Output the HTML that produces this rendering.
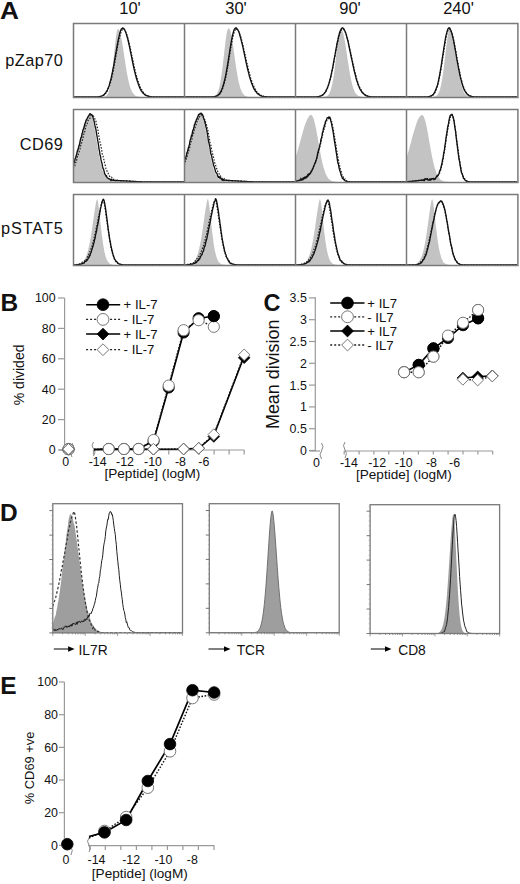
<!DOCTYPE html><html><head><meta charset="utf-8"><style>html,body{margin:0;padding:0;background:#fff;}svg{display:block;}text{font-family:"Liberation Sans", sans-serif;fill:#111;}</style></head><body>
<svg width="520" height="884" viewBox="0 0 520 884">
<text x="0.0" y="18.8" font-size="24.5" text-anchor="start" font-weight="bold" transform="translate(0,0) scale(1.07,1)">A</text>
<text x="130.0" y="13.8" font-size="16.5" text-anchor="middle" font-weight="normal" >10'</text>
<text x="236.0" y="13.8" font-size="16.5" text-anchor="middle" font-weight="normal" >30'</text>
<text x="350.0" y="13.8" font-size="16.5" text-anchor="middle" font-weight="normal" >90'</text>
<text x="458.5" y="13.8" font-size="16.5" text-anchor="middle" font-weight="normal" >240'</text>
<text x="63.2" y="65.9" font-size="16.3" text-anchor="end" font-weight="normal" letter-spacing="0.45">pZap70</text>
<text x="63.3" y="150.1" font-size="16.3" text-anchor="end" font-weight="normal" letter-spacing="0.50">CD69</text>
<text x="63.7" y="234.0" font-size="16.3" text-anchor="end" font-weight="normal" letter-spacing="0.90">pSTAT5</text>
<defs>
<clipPath id="cA00"><rect x="73" y="23" width="111" height="74"/></clipPath>
<clipPath id="cA01"><rect x="184" y="23" width="111" height="74"/></clipPath>
<clipPath id="cA02"><rect x="295" y="23" width="111" height="74"/></clipPath>
<clipPath id="cA03"><rect x="406" y="23" width="111" height="74"/></clipPath>
<clipPath id="cA10"><rect x="73" y="109" width="111" height="73"/></clipPath>
<clipPath id="cA11"><rect x="184" y="109" width="111" height="73"/></clipPath>
<clipPath id="cA12"><rect x="295" y="109" width="111" height="73"/></clipPath>
<clipPath id="cA13"><rect x="406" y="109" width="111" height="73"/></clipPath>
<clipPath id="cA20"><rect x="73" y="194" width="111" height="71"/></clipPath>
<clipPath id="cA21"><rect x="184" y="194" width="111" height="71"/></clipPath>
<clipPath id="cA22"><rect x="295" y="194" width="111" height="71"/></clipPath>
<clipPath id="cA23"><rect x="406" y="194" width="111" height="71"/></clipPath>
</defs>
<g clip-path="url(#cA00)">
<path d="M73.0,97.0 L73.0,97.0 L73.5,97.0 L74.0,97.0 L74.5,97.0 L75.0,97.0 L75.5,97.0 L76.0,97.0 L76.5,97.0 L77.0,97.0 L77.5,97.0 L78.0,97.0 L78.5,97.0 L79.0,97.0 L79.5,97.0 L80.0,97.0 L80.5,97.0 L81.0,97.0 L81.5,97.0 L82.0,97.0 L82.5,97.0 L83.0,97.0 L83.5,97.0 L84.0,97.0 L84.5,97.0 L85.0,97.0 L85.5,97.0 L86.0,97.0 L86.5,97.0 L87.0,97.0 L87.5,97.0 L88.0,97.0 L88.5,97.0 L89.0,97.0 L89.5,97.0 L90.0,97.0 L90.5,97.0 L91.0,97.0 L91.5,97.0 L92.0,97.0 L92.5,97.0 L93.0,97.0 L93.5,97.0 L94.0,97.0 L94.5,97.0 L95.0,97.0 L95.5,97.0 L96.0,97.0 L96.5,97.0 L97.0,97.0 L97.5,97.0 L98.0,97.0 L98.5,97.0 L99.0,97.0 L99.5,97.0 L100.0,97.0 L100.5,97.0 L101.0,97.0 L101.5,97.0 L102.0,97.0 L102.5,96.9 L103.0,96.9 L103.5,96.9 L104.0,96.8 L104.5,96.7 L105.0,96.6 L105.5,96.3 L106.0,96.1 L106.5,95.7 L107.0,95.1 L107.5,94.6 L108.0,93.5 L108.5,92.4 L109.0,90.8 L109.5,89.0 L110.0,87.1 L110.5,84.5 L111.0,81.0 L111.5,77.8 L112.0,73.9 L112.5,69.0 L113.0,64.7 L113.5,59.6 L114.0,54.8 L114.5,49.7 L115.0,45.2 L115.5,40.5 L116.0,36.4 L116.5,33.4 L117.0,30.8 L117.5,29.4 L118.0,29.3 L118.5,29.1 L119.0,29.8 L119.5,31.1 L120.0,32.7 L120.5,34.1 L121.0,36.5 L121.5,38.9 L122.0,41.5 L122.5,44.6 L123.0,47.6 L123.5,51.2 L124.0,54.2 L124.5,57.8 L125.0,60.8 L125.5,64.1 L126.0,67.7 L126.5,70.6 L127.0,73.5 L127.5,75.7 L128.0,78.5 L128.5,80.7 L129.0,83.0 L129.5,84.8 L130.0,86.6 L130.5,88.2 L131.0,89.4 L131.5,90.6 L132.0,91.4 L132.5,92.5 L133.0,93.1 L133.5,93.8 L134.0,94.3 L134.5,95.0 L135.0,95.4 L135.5,95.7 L136.0,96.0 L136.5,96.2 L137.0,96.4 L137.5,96.5 L138.0,96.6 L138.5,96.7 L139.0,96.8 L139.5,96.8 L140.0,96.9 L140.5,96.9 L141.0,96.9 L141.5,96.9 L142.0,97.0 L142.5,97.0 L143.0,97.0 L143.5,97.0 L144.0,97.0 L144.5,97.0 L145.0,97.0 L145.5,97.0 L146.0,97.0 L146.5,97.0 L147.0,97.0 L147.5,97.0 L148.0,97.0 L148.5,97.0 L149.0,97.0 L149.5,97.0 L150.0,97.0 L150.5,97.0 L151.0,97.0 L151.5,97.0 L152.0,97.0 L152.5,97.0 L153.0,97.0 L153.5,97.0 L154.0,97.0 L154.5,97.0 L155.0,97.0 L155.5,97.0 L156.0,97.0 L156.5,97.0 L157.0,97.0 L157.5,97.0 L158.0,97.0 L158.5,97.0 L159.0,97.0 L159.5,97.0 L160.0,97.0 L160.5,97.0 L161.0,97.0 L161.5,97.0 L162.0,97.0 L162.5,97.0 L163.0,97.0 L163.5,97.0 L164.0,97.0 L164.5,97.0 L165.0,97.0 L165.5,97.0 L166.0,97.0 L166.5,97.0 L167.0,97.0 L167.5,97.0 L168.0,97.0 L168.5,97.0 L169.0,97.0 L169.5,97.0 L170.0,97.0 L170.5,97.0 L171.0,97.0 L171.5,97.0 L172.0,97.0 L172.5,97.0 L173.0,97.0 L173.5,97.0 L174.0,97.0 L174.5,97.0 L175.0,97.0 L175.5,97.0 L176.0,97.0 L176.5,97.0 L177.0,97.0 L177.5,97.0 L178.0,97.0 L178.5,97.0 L179.0,97.0 L179.5,97.0 L180.0,97.0 L180.5,97.0 L181.0,97.0 L181.5,97.0 L182.0,97.0 L182.5,97.0 L183.0,97.0 L183.5,97.0 L184.0,97.0 L184.0,97.0 Z" fill="#c3c3c3" stroke="none"/>
<polyline points="73.0,97.0 73.5,97.0 74.0,97.0 74.5,97.0 75.0,97.0 75.5,97.0 76.0,97.0 76.5,97.0 77.0,97.0 77.5,97.0 78.0,97.0 78.5,97.0 79.0,97.0 79.5,97.0 80.0,97.0 80.5,97.0 81.0,97.0 81.5,97.0 82.0,97.0 82.5,97.0 83.0,97.0 83.5,97.0 84.0,97.0 84.5,97.0 85.0,97.0 85.5,97.0 86.0,97.0 86.5,97.0 87.0,97.0 87.5,97.0 88.0,97.0 88.5,97.0 89.0,97.0 89.5,97.0 90.0,97.0 90.5,97.0 91.0,97.0 91.5,97.0 92.0,97.0 92.5,97.0 93.0,97.0 93.5,97.0 94.0,97.0 94.5,97.0 95.0,97.0 95.5,97.0 96.0,96.9 96.5,96.9 97.0,96.9 97.5,96.9 98.0,96.9 98.5,96.8 99.0,96.8 99.5,96.7 100.0,96.6 100.5,96.5 101.0,96.4 101.5,96.3 102.0,96.1 102.5,95.9 103.0,95.7 103.5,95.4 104.0,95.1 104.5,94.6 105.0,94.4 105.5,93.5 106.0,92.8 106.5,92.1 107.0,91.5 107.5,90.6 108.0,89.8 108.5,88.3 109.0,87.2 109.5,86.0 110.0,84.6 110.5,82.4 111.0,80.5 111.5,79.1 112.0,76.5 112.5,74.5 113.0,72.3 113.5,69.7 114.0,66.8 114.5,64.0 115.0,61.7 115.5,58.5 116.0,56.0 116.5,52.8 117.0,50.2 117.5,47.1 118.0,44.3 118.5,42.0 119.0,39.3 119.5,37.5 120.0,35.6 120.5,33.6 121.0,32.4 121.5,31.1 122.0,30.0 122.5,29.3 123.0,29.2 123.5,29.3 124.0,29.1 124.5,29.9 125.0,30.2 125.5,31.1 126.0,32.5 126.5,33.7 127.0,35.2 127.5,36.7 128.0,38.5 128.5,40.5 129.0,42.5 129.5,44.4 130.0,46.9 130.5,49.2 131.0,51.4 131.5,54.0 132.0,56.3 132.5,58.3 133.0,60.9 133.5,63.2 134.0,65.8 134.5,67.8 135.0,69.8 135.5,72.3 136.0,73.9 136.5,75.8 137.0,77.9 137.5,79.3 138.0,81.0 138.5,82.4 139.0,84.0 139.5,85.1 140.0,86.3 140.5,87.9 141.0,88.9 141.5,89.5 142.0,90.1 142.5,91.3 143.0,91.9 143.5,92.5 144.0,93.2 144.5,93.7 145.0,94.2 145.5,94.5 146.0,94.7 146.5,95.1 147.0,95.4 147.5,95.6 148.0,95.8 148.5,96.0 149.0,96.2 149.5,96.3 150.0,96.4 150.5,96.5 151.0,96.6 151.5,96.7 152.0,96.7 152.5,96.8 153.0,96.8 153.5,96.8 154.0,96.9 154.5,96.9 155.0,96.9 155.5,96.9 156.0,96.9 156.5,97.0 157.0,97.0 157.5,97.0 158.0,97.0 158.5,97.0 159.0,97.0 159.5,97.0 160.0,97.0 160.5,97.0 161.0,97.0 161.5,97.0 162.0,97.0 162.5,97.0 163.0,97.0 163.5,97.0 164.0,97.0 164.5,97.0 165.0,97.0 165.5,97.0 166.0,97.0 166.5,97.0 167.0,97.0 167.5,97.0 168.0,97.0 168.5,97.0 169.0,97.0 169.5,97.0 170.0,97.0 170.5,97.0 171.0,97.0 171.5,97.0 172.0,97.0 172.5,97.0 173.0,97.0 173.5,97.0 174.0,97.0 174.5,97.0 175.0,97.0 175.5,97.0 176.0,97.0 176.5,97.0 177.0,97.0 177.5,97.0 178.0,97.0 178.5,97.0 179.0,97.0 179.5,97.0 180.0,97.0 180.5,97.0 181.0,97.0 181.5,97.0 182.0,97.0 182.5,97.0 183.0,97.0 183.5,97.0 184.0,97.0" fill="none" stroke="#222" stroke-width="1.2" stroke-dasharray="1.5,1.5"/>
<polyline points="73.0,97.0 73.5,97.0 74.0,97.0 74.5,97.0 75.0,97.0 75.5,97.0 76.0,97.0 76.5,97.0 77.0,97.0 77.5,97.0 78.0,97.0 78.5,97.0 79.0,97.0 79.5,97.0 80.0,97.0 80.5,97.0 81.0,97.0 81.5,97.0 82.0,97.0 82.5,97.0 83.0,97.0 83.5,97.0 84.0,97.0 84.5,97.0 85.0,97.0 85.5,97.0 86.0,97.0 86.5,97.0 87.0,97.0 87.5,97.0 88.0,97.0 88.5,97.0 89.0,97.0 89.5,97.0 90.0,97.0 90.5,97.0 91.0,97.0 91.5,97.0 92.0,97.0 92.5,97.0 93.0,97.0 93.5,97.0 94.0,97.0 94.5,97.0 95.0,97.0 95.5,96.9 96.0,96.9 96.5,96.9 97.0,96.9 97.5,96.8 98.0,96.8 98.5,96.8 99.0,96.7 99.5,96.6 100.0,96.5 100.5,96.4 101.0,96.3 101.5,96.1 102.0,95.9 102.5,95.7 103.0,95.4 103.5,95.0 104.0,94.8 104.5,94.2 105.0,93.5 105.5,93.3 106.0,92.3 106.5,91.4 107.0,90.7 107.5,89.7 108.0,88.2 108.5,87.3 109.0,85.9 109.5,84.2 110.0,82.3 110.5,80.8 111.0,78.7 111.5,76.5 112.0,73.9 112.5,71.7 113.0,68.9 113.5,66.7 114.0,63.8 114.5,60.8 115.0,57.8 115.5,55.2 116.0,52.4 116.5,49.6 117.0,46.5 117.5,44.0 118.0,41.1 118.5,38.6 119.0,36.7 119.5,34.6 120.0,32.5 120.5,31.1 121.0,29.7 121.5,29.0 122.0,28.5 122.5,28.2 123.0,27.9 123.5,28.4 124.0,28.9 124.5,29.6 125.0,30.5 125.5,31.7 126.0,32.8 126.5,34.8 127.0,36.6 127.5,37.9 128.0,40.0 128.5,42.0 129.0,44.6 129.5,46.6 130.0,49.0 130.5,51.9 131.0,54.0 131.5,56.4 132.0,59.0 132.5,61.5 133.0,64.0 133.5,66.3 134.0,68.6 134.5,70.9 135.0,72.7 135.5,74.9 136.0,76.5 136.5,78.8 137.0,80.0 137.5,81.7 138.0,83.1 138.5,84.5 139.0,85.8 139.5,87.2 140.0,88.6 140.5,89.2 141.0,90.4 141.5,91.1 142.0,91.7 142.5,92.4 143.0,93.1 143.5,93.3 144.0,93.9 144.5,94.5 145.0,94.9 145.5,95.1 146.0,95.4 146.5,95.6 147.0,95.8 147.5,96.0 148.0,96.2 148.5,96.3 149.0,96.4 149.5,96.5 150.0,96.6 150.5,96.7 151.0,96.7 151.5,96.8 152.0,96.8 152.5,96.9 153.0,96.9 153.5,96.9 154.0,96.9 154.5,96.9 155.0,96.9 155.5,97.0 156.0,97.0 156.5,97.0 157.0,97.0 157.5,97.0 158.0,97.0 158.5,97.0 159.0,97.0 159.5,97.0 160.0,97.0 160.5,97.0 161.0,97.0 161.5,97.0 162.0,97.0 162.5,97.0 163.0,97.0 163.5,97.0 164.0,97.0 164.5,97.0 165.0,97.0 165.5,97.0 166.0,97.0 166.5,97.0 167.0,97.0 167.5,97.0 168.0,97.0 168.5,97.0 169.0,97.0 169.5,97.0 170.0,97.0 170.5,97.0 171.0,97.0 171.5,97.0 172.0,97.0 172.5,97.0 173.0,97.0 173.5,97.0 174.0,97.0 174.5,97.0 175.0,97.0 175.5,97.0 176.0,97.0 176.5,97.0 177.0,97.0 177.5,97.0 178.0,97.0 178.5,97.0 179.0,97.0 179.5,97.0 180.0,97.0 180.5,97.0 181.0,97.0 181.5,97.0 182.0,97.0 182.5,97.0 183.0,97.0 183.5,97.0 184.0,97.0" fill="none" stroke="#111" stroke-width="1.35" stroke-linejoin="round"/>
</g>
<g clip-path="url(#cA01)">
<path d="M184.0,97.0 L184.0,97.0 L184.5,97.0 L185.0,97.0 L185.5,97.0 L186.0,97.0 L186.5,97.0 L187.0,97.0 L187.5,97.0 L188.0,97.0 L188.5,97.0 L189.0,97.0 L189.5,97.0 L190.0,97.0 L190.5,97.0 L191.0,97.0 L191.5,97.0 L192.0,97.0 L192.5,97.0 L193.0,97.0 L193.5,97.0 L194.0,97.0 L194.5,97.0 L195.0,97.0 L195.5,97.0 L196.0,97.0 L196.5,97.0 L197.0,97.0 L197.5,97.0 L198.0,97.0 L198.5,97.0 L199.0,97.0 L199.5,97.0 L200.0,97.0 L200.5,97.0 L201.0,97.0 L201.5,97.0 L202.0,97.0 L202.5,97.0 L203.0,97.0 L203.5,97.0 L204.0,97.0 L204.5,97.0 L205.0,97.0 L205.5,97.0 L206.0,97.0 L206.5,97.0 L207.0,97.0 L207.5,97.0 L208.0,97.0 L208.5,97.0 L209.0,97.0 L209.5,97.0 L210.0,97.0 L210.5,97.0 L211.0,96.9 L211.5,96.9 L212.0,96.9 L212.5,96.8 L213.0,96.7 L213.5,96.6 L214.0,96.4 L214.5,96.2 L215.0,96.0 L215.5,95.6 L216.0,95.1 L216.5,94.3 L217.0,93.7 L217.5,92.6 L218.0,91.7 L218.5,90.3 L219.0,88.4 L219.5,86.2 L220.0,84.3 L220.5,81.2 L221.0,78.1 L221.5,74.8 L222.0,71.1 L222.5,67.6 L223.0,63.0 L223.5,58.5 L224.0,54.5 L224.5,50.0 L225.0,45.7 L225.5,41.5 L226.0,37.8 L226.5,34.6 L227.0,31.7 L227.5,30.2 L228.0,28.8 L228.5,28.2 L229.0,28.4 L229.5,29.1 L230.0,29.7 L230.5,31.4 L231.0,33.9 L231.5,36.1 L232.0,39.0 L232.5,42.1 L233.0,45.3 L233.5,48.6 L234.0,52.2 L234.5,56.0 L235.0,59.6 L235.5,63.1 L236.0,66.7 L236.5,69.7 L237.0,72.7 L237.5,75.8 L238.0,78.7 L238.5,81.1 L239.0,83.3 L239.5,85.1 L240.0,86.8 L240.5,88.7 L241.0,89.8 L241.5,91.1 L242.0,92.3 L242.5,93.2 L243.0,93.8 L243.5,94.3 L244.0,95.0 L244.5,95.4 L245.0,95.7 L245.5,96.0 L246.0,96.2 L246.5,96.4 L247.0,96.5 L247.5,96.7 L248.0,96.7 L248.5,96.8 L249.0,96.9 L249.5,96.9 L250.0,96.9 L250.5,96.9 L251.0,97.0 L251.5,97.0 L252.0,97.0 L252.5,97.0 L253.0,97.0 L253.5,97.0 L254.0,97.0 L254.5,97.0 L255.0,97.0 L255.5,97.0 L256.0,97.0 L256.5,97.0 L257.0,97.0 L257.5,97.0 L258.0,97.0 L258.5,97.0 L259.0,97.0 L259.5,97.0 L260.0,97.0 L260.5,97.0 L261.0,97.0 L261.5,97.0 L262.0,97.0 L262.5,97.0 L263.0,97.0 L263.5,97.0 L264.0,97.0 L264.5,97.0 L265.0,97.0 L265.5,97.0 L266.0,97.0 L266.5,97.0 L267.0,97.0 L267.5,97.0 L268.0,97.0 L268.5,97.0 L269.0,97.0 L269.5,97.0 L270.0,97.0 L270.5,97.0 L271.0,97.0 L271.5,97.0 L272.0,97.0 L272.5,97.0 L273.0,97.0 L273.5,97.0 L274.0,97.0 L274.5,97.0 L275.0,97.0 L275.5,97.0 L276.0,97.0 L276.5,97.0 L277.0,97.0 L277.5,97.0 L278.0,97.0 L278.5,97.0 L279.0,97.0 L279.5,97.0 L280.0,97.0 L280.5,97.0 L281.0,97.0 L281.5,97.0 L282.0,97.0 L282.5,97.0 L283.0,97.0 L283.5,97.0 L284.0,97.0 L284.5,97.0 L285.0,97.0 L285.5,97.0 L286.0,97.0 L286.5,97.0 L287.0,97.0 L287.5,97.0 L288.0,97.0 L288.5,97.0 L289.0,97.0 L289.5,97.0 L290.0,97.0 L290.5,97.0 L291.0,97.0 L291.5,97.0 L292.0,97.0 L292.5,97.0 L293.0,97.0 L293.5,97.0 L294.0,97.0 L294.5,97.0 L295.0,97.0 L295.0,97.0 Z" fill="#c3c3c3" stroke="none"/>
<polyline points="184.0,97.0 184.5,97.0 185.0,97.0 185.5,97.0 186.0,97.0 186.5,97.0 187.0,97.0 187.5,97.0 188.0,97.0 188.5,97.0 189.0,97.0 189.5,97.0 190.0,97.0 190.5,97.0 191.0,97.0 191.5,97.0 192.0,97.0 192.5,97.0 193.0,97.0 193.5,97.0 194.0,97.0 194.5,97.0 195.0,97.0 195.5,97.0 196.0,97.0 196.5,97.0 197.0,97.0 197.5,97.0 198.0,97.0 198.5,97.0 199.0,97.0 199.5,97.0 200.0,97.0 200.5,97.0 201.0,97.0 201.5,97.0 202.0,97.0 202.5,97.0 203.0,97.0 203.5,97.0 204.0,97.0 204.5,97.0 205.0,97.0 205.5,97.0 206.0,97.0 206.5,97.0 207.0,97.0 207.5,97.0 208.0,97.0 208.5,97.0 209.0,97.0 209.5,97.0 210.0,97.0 210.5,97.0 211.0,97.0 211.5,96.9 212.0,96.9 212.5,96.9 213.0,96.9 213.5,96.8 214.0,96.8 214.5,96.7 215.0,96.6 215.5,96.5 216.0,96.4 216.5,96.2 217.0,96.0 217.5,95.8 218.0,95.5 218.5,95.1 219.0,94.6 219.5,94.3 220.0,93.8 220.5,93.0 221.0,92.1 221.5,91.6 222.0,90.3 222.5,89.2 223.0,87.6 223.5,86.1 224.0,84.8 224.5,82.6 225.0,80.7 225.5,78.9 226.0,76.4 226.5,74.1 227.0,71.1 227.5,68.4 228.0,65.3 228.5,62.4 229.0,59.4 229.5,56.2 230.0,53.2 230.5,50.4 231.0,47.1 231.5,44.5 232.0,41.7 232.5,38.7 233.0,36.8 233.5,34.7 234.0,32.9 234.5,31.0 235.0,30.3 235.5,29.7 236.0,28.8 236.5,29.3 237.0,29.1 237.5,29.6 238.0,30.1 238.5,30.9 239.0,32.1 239.5,33.1 240.0,35.0 240.5,36.0 241.0,37.8 241.5,39.5 242.0,41.7 242.5,43.3 243.0,45.3 243.5,48.0 244.0,50.0 244.5,52.1 245.0,54.2 245.5,56.8 246.0,59.1 246.5,61.3 247.0,63.3 247.5,65.4 248.0,67.7 248.5,69.8 249.0,71.8 249.5,73.7 250.0,75.5 250.5,77.5 251.0,78.9 251.5,80.2 252.0,82.0 252.5,83.2 253.0,84.8 253.5,85.7 254.0,86.8 254.5,87.9 255.0,88.9 255.5,89.8 256.0,90.5 256.5,91.1 257.0,92.2 257.5,92.8 258.0,93.0 258.5,93.4 259.0,94.0 259.5,94.5 260.0,94.6 260.5,95.1 261.0,95.3 261.5,95.6 262.0,95.8 262.5,96.0 263.0,96.1 263.5,96.2 264.0,96.4 264.5,96.5 265.0,96.5 265.5,96.6 266.0,96.7 266.5,96.7 267.0,96.8 267.5,96.8 268.0,96.8 268.5,96.9 269.0,96.9 269.5,96.9 270.0,96.9 270.5,96.9 271.0,97.0 271.5,97.0 272.0,97.0 272.5,97.0 273.0,97.0 273.5,97.0 274.0,97.0 274.5,97.0 275.0,97.0 275.5,97.0 276.0,97.0 276.5,97.0 277.0,97.0 277.5,97.0 278.0,97.0 278.5,97.0 279.0,97.0 279.5,97.0 280.0,97.0 280.5,97.0 281.0,97.0 281.5,97.0 282.0,97.0 282.5,97.0 283.0,97.0 283.5,97.0 284.0,97.0 284.5,97.0 285.0,97.0 285.5,97.0 286.0,97.0 286.5,97.0 287.0,97.0 287.5,97.0 288.0,97.0 288.5,97.0 289.0,97.0 289.5,97.0 290.0,97.0 290.5,97.0 291.0,97.0 291.5,97.0 292.0,97.0 292.5,97.0 293.0,97.0 293.5,97.0 294.0,97.0 294.5,97.0 295.0,97.0" fill="none" stroke="#222" stroke-width="1.2" stroke-dasharray="1.5,1.5"/>
<polyline points="184.0,97.0 184.5,97.0 185.0,97.0 185.5,97.0 186.0,97.0 186.5,97.0 187.0,97.0 187.5,97.0 188.0,97.0 188.5,97.0 189.0,97.0 189.5,97.0 190.0,97.0 190.5,97.0 191.0,97.0 191.5,97.0 192.0,97.0 192.5,97.0 193.0,97.0 193.5,97.0 194.0,97.0 194.5,97.0 195.0,97.0 195.5,97.0 196.0,97.0 196.5,97.0 197.0,97.0 197.5,97.0 198.0,97.0 198.5,97.0 199.0,97.0 199.5,97.0 200.0,97.0 200.5,97.0 201.0,97.0 201.5,97.0 202.0,97.0 202.5,97.0 203.0,97.0 203.5,97.0 204.0,97.0 204.5,97.0 205.0,97.0 205.5,97.0 206.0,97.0 206.5,97.0 207.0,97.0 207.5,97.0 208.0,97.0 208.5,97.0 209.0,97.0 209.5,97.0 210.0,97.0 210.5,97.0 211.0,96.9 211.5,96.9 212.0,96.9 212.5,96.9 213.0,96.8 213.5,96.8 214.0,96.7 214.5,96.6 215.0,96.5 215.5,96.4 216.0,96.2 216.5,96.0 217.0,95.8 217.5,95.5 218.0,95.1 218.5,94.9 219.0,94.3 219.5,93.8 220.0,92.9 220.5,92.2 221.0,91.4 221.5,90.1 222.0,88.7 222.5,87.8 223.0,86.0 223.5,84.6 224.0,82.5 224.5,80.6 225.0,78.6 225.5,76.3 226.0,73.9 226.5,70.9 227.0,68.1 227.5,65.3 228.0,62.1 228.5,59.1 229.0,55.6 229.5,52.8 230.0,49.2 230.5,46.4 231.0,43.4 231.5,40.7 232.0,37.8 232.5,35.5 233.0,33.5 233.5,31.7 234.0,30.1 234.5,28.9 235.0,28.4 235.5,27.9 236.0,27.8 236.5,28.3 237.0,28.9 237.5,29.6 238.0,30.1 238.5,31.2 239.0,32.3 239.5,33.8 240.0,35.8 240.5,37.5 241.0,39.4 241.5,41.4 242.0,43.2 242.5,45.3 243.0,47.5 243.5,50.2 244.0,52.1 244.5,54.8 245.0,57.1 245.5,59.2 246.0,61.9 246.5,64.2 247.0,66.0 247.5,68.5 248.0,70.5 248.5,72.4 249.0,74.3 249.5,76.6 250.0,78.1 250.5,79.7 251.0,81.3 251.5,82.9 252.0,84.1 252.5,85.1 253.0,86.6 253.5,87.6 254.0,88.9 254.5,89.7 255.0,90.3 255.5,91.4 256.0,91.6 256.5,92.3 257.0,93.3 257.5,93.3 258.0,94.1 258.5,94.2 259.0,94.6 259.5,95.1 260.0,95.3 260.5,95.6 261.0,95.8 261.5,96.0 262.0,96.1 262.5,96.3 263.0,96.4 263.5,96.5 264.0,96.6 264.5,96.6 265.0,96.7 265.5,96.7 266.0,96.8 266.5,96.8 267.0,96.9 267.5,96.9 268.0,96.9 268.5,96.9 269.0,96.9 269.5,96.9 270.0,97.0 270.5,97.0 271.0,97.0 271.5,97.0 272.0,97.0 272.5,97.0 273.0,97.0 273.5,97.0 274.0,97.0 274.5,97.0 275.0,97.0 275.5,97.0 276.0,97.0 276.5,97.0 277.0,97.0 277.5,97.0 278.0,97.0 278.5,97.0 279.0,97.0 279.5,97.0 280.0,97.0 280.5,97.0 281.0,97.0 281.5,97.0 282.0,97.0 282.5,97.0 283.0,97.0 283.5,97.0 284.0,97.0 284.5,97.0 285.0,97.0 285.5,97.0 286.0,97.0 286.5,97.0 287.0,97.0 287.5,97.0 288.0,97.0 288.5,97.0 289.0,97.0 289.5,97.0 290.0,97.0 290.5,97.0 291.0,97.0 291.5,97.0 292.0,97.0 292.5,97.0 293.0,97.0 293.5,97.0 294.0,97.0 294.5,97.0 295.0,97.0" fill="none" stroke="#111" stroke-width="1.35" stroke-linejoin="round"/>
</g>
<g clip-path="url(#cA02)">
<path d="M295.0,97.0 L295.0,97.0 L295.5,97.0 L296.0,97.0 L296.5,97.0 L297.0,97.0 L297.5,97.0 L298.0,97.0 L298.5,97.0 L299.0,97.0 L299.5,97.0 L300.0,97.0 L300.5,97.0 L301.0,97.0 L301.5,97.0 L302.0,97.0 L302.5,97.0 L303.0,97.0 L303.5,97.0 L304.0,97.0 L304.5,97.0 L305.0,97.0 L305.5,97.0 L306.0,97.0 L306.5,97.0 L307.0,97.0 L307.5,97.0 L308.0,97.0 L308.5,97.0 L309.0,97.0 L309.5,97.0 L310.0,97.0 L310.5,97.0 L311.0,97.0 L311.5,97.0 L312.0,97.0 L312.5,97.0 L313.0,97.0 L313.5,97.0 L314.0,97.0 L314.5,97.0 L315.0,97.0 L315.5,97.0 L316.0,97.0 L316.5,97.0 L317.0,97.0 L317.5,97.0 L318.0,97.0 L318.5,97.0 L319.0,97.0 L319.5,97.0 L320.0,97.0 L320.5,97.0 L321.0,97.0 L321.5,97.0 L322.0,97.0 L322.5,97.0 L323.0,96.9 L323.5,96.9 L324.0,96.9 L324.5,96.8 L325.0,96.7 L325.5,96.6 L326.0,96.5 L326.5,96.3 L327.0,96.0 L327.5,95.7 L328.0,95.3 L328.5,94.8 L329.0,93.9 L329.5,93.1 L330.0,91.9 L330.5,90.9 L331.0,89.1 L331.5,87.1 L332.0,85.2 L332.5,82.8 L333.0,80.3 L333.5,76.9 L334.0,73.6 L334.5,69.7 L335.0,65.8 L335.5,61.7 L336.0,57.7 L336.5,53.1 L337.0,48.9 L337.5,45.1 L338.0,40.8 L338.5,37.5 L339.0,34.9 L339.5,32.0 L340.0,30.7 L340.5,29.5 L341.0,28.9 L341.5,29.2 L342.0,29.9 L342.5,30.9 L343.0,32.6 L343.5,34.6 L344.0,36.9 L344.5,39.6 L345.0,42.0 L345.5,45.0 L346.0,48.4 L346.5,51.6 L347.0,55.2 L347.5,58.6 L348.0,61.9 L348.5,64.8 L349.0,68.5 L349.5,71.2 L350.0,74.3 L350.5,76.6 L351.0,79.3 L351.5,81.6 L352.0,83.7 L352.5,85.5 L353.0,87.0 L353.5,88.8 L354.0,89.8 L354.5,91.4 L355.0,92.3 L355.5,93.2 L356.0,93.9 L356.5,94.1 L357.0,94.7 L357.5,95.2 L358.0,95.6 L358.5,95.9 L359.0,96.1 L359.5,96.3 L360.0,96.5 L360.5,96.6 L361.0,96.7 L361.5,96.8 L362.0,96.8 L362.5,96.9 L363.0,96.9 L363.5,96.9 L364.0,96.9 L364.5,97.0 L365.0,97.0 L365.5,97.0 L366.0,97.0 L366.5,97.0 L367.0,97.0 L367.5,97.0 L368.0,97.0 L368.5,97.0 L369.0,97.0 L369.5,97.0 L370.0,97.0 L370.5,97.0 L371.0,97.0 L371.5,97.0 L372.0,97.0 L372.5,97.0 L373.0,97.0 L373.5,97.0 L374.0,97.0 L374.5,97.0 L375.0,97.0 L375.5,97.0 L376.0,97.0 L376.5,97.0 L377.0,97.0 L377.5,97.0 L378.0,97.0 L378.5,97.0 L379.0,97.0 L379.5,97.0 L380.0,97.0 L380.5,97.0 L381.0,97.0 L381.5,97.0 L382.0,97.0 L382.5,97.0 L383.0,97.0 L383.5,97.0 L384.0,97.0 L384.5,97.0 L385.0,97.0 L385.5,97.0 L386.0,97.0 L386.5,97.0 L387.0,97.0 L387.5,97.0 L388.0,97.0 L388.5,97.0 L389.0,97.0 L389.5,97.0 L390.0,97.0 L390.5,97.0 L391.0,97.0 L391.5,97.0 L392.0,97.0 L392.5,97.0 L393.0,97.0 L393.5,97.0 L394.0,97.0 L394.5,97.0 L395.0,97.0 L395.5,97.0 L396.0,97.0 L396.5,97.0 L397.0,97.0 L397.5,97.0 L398.0,97.0 L398.5,97.0 L399.0,97.0 L399.5,97.0 L400.0,97.0 L400.5,97.0 L401.0,97.0 L401.5,97.0 L402.0,97.0 L402.5,97.0 L403.0,97.0 L403.5,97.0 L404.0,97.0 L404.5,97.0 L405.0,97.0 L405.5,97.0 L406.0,97.0 L406.0,97.0 Z" fill="#c3c3c3" stroke="none"/>
<polyline points="295.0,97.0 295.5,97.0 296.0,97.0 296.5,97.0 297.0,97.0 297.5,97.0 298.0,97.0 298.5,97.0 299.0,97.0 299.5,97.0 300.0,97.0 300.5,97.0 301.0,97.0 301.5,97.0 302.0,97.0 302.5,97.0 303.0,97.0 303.5,97.0 304.0,97.0 304.5,97.0 305.0,97.0 305.5,97.0 306.0,97.0 306.5,97.0 307.0,97.0 307.5,97.0 308.0,97.0 308.5,97.0 309.0,97.0 309.5,97.0 310.0,97.0 310.5,97.0 311.0,97.0 311.5,97.0 312.0,97.0 312.5,97.0 313.0,97.0 313.5,97.0 314.0,97.0 314.5,96.9 315.0,96.9 315.5,96.9 316.0,96.9 316.5,96.8 317.0,96.8 317.5,96.7 318.0,96.7 318.5,96.6 319.0,96.5 319.5,96.4 320.0,96.3 320.5,96.1 321.0,95.9 321.5,95.7 322.0,95.4 322.5,95.1 323.0,95.0 323.5,94.5 324.0,93.9 324.5,93.2 325.0,92.5 325.5,91.8 326.0,91.1 326.5,90.4 327.0,89.2 327.5,88.2 328.0,86.8 328.5,85.3 329.0,84.0 329.5,82.4 330.0,80.2 330.5,78.8 331.0,76.3 331.5,74.0 332.0,71.7 332.5,69.6 333.0,67.0 333.5,64.4 334.0,61.7 334.5,58.8 335.0,56.2 335.5,53.7 336.0,50.6 336.5,48.2 337.0,45.5 337.5,42.9 338.0,41.0 338.5,38.3 339.0,36.3 339.5,34.6 340.0,33.0 340.5,31.6 341.0,30.7 341.5,29.7 342.0,29.5 342.5,29.0 343.0,29.0 343.5,29.4 344.0,29.8 344.5,30.3 345.0,31.3 345.5,32.9 346.0,33.8 346.5,35.4 347.0,37.4 347.5,39.1 348.0,41.1 348.5,43.2 349.0,45.1 349.5,47.1 350.0,49.7 350.5,51.8 351.0,54.2 351.5,56.9 352.0,58.9 352.5,61.3 353.0,63.5 353.5,65.8 354.0,68.0 354.5,70.4 355.0,72.2 355.5,74.1 356.0,76.0 356.5,78.1 357.0,79.6 357.5,81.3 358.0,83.0 358.5,84.5 359.0,85.7 359.5,86.9 360.0,88.0 360.5,88.8 361.0,89.6 361.5,90.6 362.0,91.4 362.5,91.9 363.0,92.8 363.5,93.2 364.0,93.5 364.5,94.2 365.0,94.7 365.5,94.6 366.0,95.2 366.5,95.4 367.0,95.7 367.5,95.9 368.0,96.0 368.5,96.2 369.0,96.3 369.5,96.4 370.0,96.5 370.5,96.6 371.0,96.7 371.5,96.7 372.0,96.8 372.5,96.8 373.0,96.8 373.5,96.9 374.0,96.9 374.5,96.9 375.0,96.9 375.5,96.9 376.0,97.0 376.5,97.0 377.0,97.0 377.5,97.0 378.0,97.0 378.5,97.0 379.0,97.0 379.5,97.0 380.0,97.0 380.5,97.0 381.0,97.0 381.5,97.0 382.0,97.0 382.5,97.0 383.0,97.0 383.5,97.0 384.0,97.0 384.5,97.0 385.0,97.0 385.5,97.0 386.0,97.0 386.5,97.0 387.0,97.0 387.5,97.0 388.0,97.0 388.5,97.0 389.0,97.0 389.5,97.0 390.0,97.0 390.5,97.0 391.0,97.0 391.5,97.0 392.0,97.0 392.5,97.0 393.0,97.0 393.5,97.0 394.0,97.0 394.5,97.0 395.0,97.0 395.5,97.0 396.0,97.0 396.5,97.0 397.0,97.0 397.5,97.0 398.0,97.0 398.5,97.0 399.0,97.0 399.5,97.0 400.0,97.0 400.5,97.0 401.0,97.0 401.5,97.0 402.0,97.0 402.5,97.0 403.0,97.0 403.5,97.0 404.0,97.0 404.5,97.0 405.0,97.0 405.5,97.0 406.0,97.0" fill="none" stroke="#222" stroke-width="1.2" stroke-dasharray="1.5,1.5"/>
<polyline points="295.0,97.0 295.5,97.0 296.0,97.0 296.5,97.0 297.0,97.0 297.5,97.0 298.0,97.0 298.5,97.0 299.0,97.0 299.5,97.0 300.0,97.0 300.5,97.0 301.0,97.0 301.5,97.0 302.0,97.0 302.5,97.0 303.0,97.0 303.5,97.0 304.0,97.0 304.5,97.0 305.0,97.0 305.5,97.0 306.0,97.0 306.5,97.0 307.0,97.0 307.5,97.0 308.0,97.0 308.5,97.0 309.0,97.0 309.5,97.0 310.0,97.0 310.5,97.0 311.0,97.0 311.5,97.0 312.0,97.0 312.5,97.0 313.0,97.0 313.5,97.0 314.0,96.9 314.5,96.9 315.0,96.9 315.5,96.9 316.0,96.9 316.5,96.8 317.0,96.8 317.5,96.7 318.0,96.7 318.5,96.6 319.0,96.5 319.5,96.3 320.0,96.2 320.5,96.0 321.0,95.8 321.5,95.6 322.0,95.3 322.5,94.8 323.0,94.6 323.5,94.2 324.0,93.6 324.5,92.9 325.0,92.5 325.5,91.8 326.0,90.9 326.5,89.5 327.0,88.8 327.5,87.4 328.0,86.3 328.5,84.8 329.0,83.2 329.5,81.3 330.0,79.6 330.5,77.7 331.0,75.5 331.5,73.2 332.0,70.6 332.5,68.4 333.0,65.8 333.5,62.9 334.0,60.2 334.5,57.3 335.0,54.9 335.5,51.9 336.0,49.1 336.5,46.6 337.0,43.5 337.5,41.4 338.0,39.2 338.5,36.7 339.0,34.9 339.5,32.9 340.0,31.5 340.5,30.4 341.0,29.5 341.5,28.4 342.0,28.2 342.5,27.8 343.0,28.2 343.5,28.3 344.0,29.3 344.5,30.2 345.0,31.3 345.5,32.3 346.0,33.8 346.5,35.7 347.0,37.6 347.5,39.3 348.0,41.2 348.5,43.6 349.0,46.3 349.5,48.6 350.0,51.0 350.5,53.4 351.0,55.9 351.5,58.4 352.0,60.4 352.5,62.7 353.0,65.5 353.5,67.3 354.0,69.8 354.5,71.8 355.0,73.8 355.5,75.7 356.0,78.1 356.5,79.7 357.0,81.2 357.5,82.5 358.0,84.4 358.5,85.6 359.0,86.5 359.5,88.1 360.0,89.0 360.5,90.0 361.0,90.6 361.5,91.2 362.0,92.4 362.5,92.6 363.0,93.2 363.5,93.6 364.0,94.2 364.5,94.4 365.0,95.1 365.5,95.3 366.0,95.5 366.5,95.8 367.0,96.0 367.5,96.1 368.0,96.3 368.5,96.4 369.0,96.5 369.5,96.6 370.0,96.6 370.5,96.7 371.0,96.8 371.5,96.8 372.0,96.8 372.5,96.9 373.0,96.9 373.5,96.9 374.0,96.9 374.5,96.9 375.0,97.0 375.5,97.0 376.0,97.0 376.5,97.0 377.0,97.0 377.5,97.0 378.0,97.0 378.5,97.0 379.0,97.0 379.5,97.0 380.0,97.0 380.5,97.0 381.0,97.0 381.5,97.0 382.0,97.0 382.5,97.0 383.0,97.0 383.5,97.0 384.0,97.0 384.5,97.0 385.0,97.0 385.5,97.0 386.0,97.0 386.5,97.0 387.0,97.0 387.5,97.0 388.0,97.0 388.5,97.0 389.0,97.0 389.5,97.0 390.0,97.0 390.5,97.0 391.0,97.0 391.5,97.0 392.0,97.0 392.5,97.0 393.0,97.0 393.5,97.0 394.0,97.0 394.5,97.0 395.0,97.0 395.5,97.0 396.0,97.0 396.5,97.0 397.0,97.0 397.5,97.0 398.0,97.0 398.5,97.0 399.0,97.0 399.5,97.0 400.0,97.0 400.5,97.0 401.0,97.0 401.5,97.0 402.0,97.0 402.5,97.0 403.0,97.0 403.5,97.0 404.0,97.0 404.5,97.0 405.0,97.0 405.5,97.0 406.0,97.0" fill="none" stroke="#111" stroke-width="1.35" stroke-linejoin="round"/>
</g>
<g clip-path="url(#cA03)">
<path d="M406.0,97.0 L406.0,97.0 L406.5,97.0 L407.0,97.0 L407.5,97.0 L408.0,97.0 L408.5,97.0 L409.0,97.0 L409.5,97.0 L410.0,97.0 L410.5,97.0 L411.0,97.0 L411.5,97.0 L412.0,97.0 L412.5,97.0 L413.0,97.0 L413.5,97.0 L414.0,97.0 L414.5,97.0 L415.0,97.0 L415.5,97.0 L416.0,97.0 L416.5,97.0 L417.0,97.0 L417.5,97.0 L418.0,97.0 L418.5,97.0 L419.0,97.0 L419.5,97.0 L420.0,97.0 L420.5,97.0 L421.0,97.0 L421.5,97.0 L422.0,97.0 L422.5,97.0 L423.0,97.0 L423.5,97.0 L424.0,97.0 L424.5,97.0 L425.0,97.0 L425.5,97.0 L426.0,97.0 L426.5,97.0 L427.0,97.0 L427.5,97.0 L428.0,97.0 L428.5,97.0 L429.0,97.0 L429.5,97.0 L430.0,97.0 L430.5,97.0 L431.0,97.0 L431.5,97.0 L432.0,96.9 L432.5,96.9 L433.0,96.9 L433.5,96.8 L434.0,96.7 L434.5,96.6 L435.0,96.5 L435.5,96.3 L436.0,96.0 L436.5,95.7 L437.0,95.3 L437.5,94.8 L438.0,94.2 L438.5,93.0 L439.0,92.1 L439.5,90.9 L440.0,89.4 L440.5,87.3 L441.0,85.2 L441.5,82.7 L442.0,80.1 L442.5,76.9 L443.0,73.7 L443.5,69.7 L444.0,66.2 L444.5,61.7 L445.0,57.3 L445.5,53.1 L446.0,49.2 L446.5,45.0 L447.0,40.9 L447.5,37.5 L448.0,34.4 L448.5,32.0 L449.0,30.5 L449.5,29.1 L450.0,28.9 L450.5,29.3 L451.0,30.0 L451.5,31.3 L452.0,32.6 L452.5,34.2 L453.0,37.0 L453.5,39.3 L454.0,42.4 L454.5,45.5 L455.0,48.3 L455.5,51.9 L456.0,55.4 L456.5,58.7 L457.0,61.7 L457.5,65.0 L458.0,68.5 L458.5,71.4 L459.0,73.8 L459.5,76.9 L460.0,79.2 L460.5,81.6 L461.0,83.5 L461.5,85.4 L462.0,87.0 L462.5,88.6 L463.0,90.2 L463.5,91.3 L464.0,92.4 L464.5,92.8 L465.0,93.9 L465.5,94.6 L466.0,94.5 L466.5,95.2 L467.0,95.6 L467.5,95.9 L468.0,96.1 L468.5,96.3 L469.0,96.5 L469.5,96.6 L470.0,96.7 L470.5,96.8 L471.0,96.8 L471.5,96.9 L472.0,96.9 L472.5,96.9 L473.0,96.9 L473.5,97.0 L474.0,97.0 L474.5,97.0 L475.0,97.0 L475.5,97.0 L476.0,97.0 L476.5,97.0 L477.0,97.0 L477.5,97.0 L478.0,97.0 L478.5,97.0 L479.0,97.0 L479.5,97.0 L480.0,97.0 L480.5,97.0 L481.0,97.0 L481.5,97.0 L482.0,97.0 L482.5,97.0 L483.0,97.0 L483.5,97.0 L484.0,97.0 L484.5,97.0 L485.0,97.0 L485.5,97.0 L486.0,97.0 L486.5,97.0 L487.0,97.0 L487.5,97.0 L488.0,97.0 L488.5,97.0 L489.0,97.0 L489.5,97.0 L490.0,97.0 L490.5,97.0 L491.0,97.0 L491.5,97.0 L492.0,97.0 L492.5,97.0 L493.0,97.0 L493.5,97.0 L494.0,97.0 L494.5,97.0 L495.0,97.0 L495.5,97.0 L496.0,97.0 L496.5,97.0 L497.0,97.0 L497.5,97.0 L498.0,97.0 L498.5,97.0 L499.0,97.0 L499.5,97.0 L500.0,97.0 L500.5,97.0 L501.0,97.0 L501.5,97.0 L502.0,97.0 L502.5,97.0 L503.0,97.0 L503.5,97.0 L504.0,97.0 L504.5,97.0 L505.0,97.0 L505.5,97.0 L506.0,97.0 L506.5,97.0 L507.0,97.0 L507.5,97.0 L508.0,97.0 L508.5,97.0 L509.0,97.0 L509.5,97.0 L510.0,97.0 L510.5,97.0 L511.0,97.0 L511.5,97.0 L512.0,97.0 L512.5,97.0 L513.0,97.0 L513.5,97.0 L514.0,97.0 L514.5,97.0 L515.0,97.0 L515.5,97.0 L516.0,97.0 L516.5,97.0 L517.0,97.0 L517.0,97.0 Z" fill="#c3c3c3" stroke="none"/>
<polyline points="406.0,97.0 406.5,97.0 407.0,97.0 407.5,97.0 408.0,97.0 408.5,97.0 409.0,97.0 409.5,97.0 410.0,97.0 410.5,97.0 411.0,97.0 411.5,97.0 412.0,97.0 412.5,97.0 413.0,97.0 413.5,97.0 414.0,97.0 414.5,97.0 415.0,97.0 415.5,97.0 416.0,97.0 416.5,97.0 417.0,97.0 417.5,97.0 418.0,97.0 418.5,97.0 419.0,97.0 419.5,97.0 420.0,97.0 420.5,97.0 421.0,97.0 421.5,97.0 422.0,97.0 422.5,97.0 423.0,97.0 423.5,97.0 424.0,97.0 424.5,97.0 425.0,97.0 425.5,97.0 426.0,96.9 426.5,96.9 427.0,96.9 427.5,96.9 428.0,96.8 428.5,96.8 429.0,96.7 429.5,96.6 430.0,96.5 430.5,96.3 431.0,96.1 431.5,95.9 432.0,95.6 432.5,95.3 433.0,95.0 433.5,94.1 434.0,94.0 434.5,93.1 435.0,92.4 435.5,91.1 436.0,90.1 436.5,88.8 437.0,87.3 437.5,85.7 438.0,84.2 438.5,82.0 439.0,79.9 439.5,77.7 440.0,74.7 440.5,72.1 441.0,69.1 441.5,66.4 442.0,63.0 442.5,59.8 443.0,56.3 443.5,53.4 444.0,49.9 444.5,46.6 445.0,43.8 445.5,40.6 446.0,37.8 446.5,35.6 447.0,33.4 447.5,31.7 448.0,30.6 448.5,29.7 449.0,28.8 449.5,29.1 450.0,29.4 450.5,30.2 451.0,31.0 451.5,32.2 452.0,33.2 452.5,35.1 453.0,37.0 453.5,39.1 454.0,41.7 454.5,44.0 455.0,46.8 455.5,49.6 456.0,52.1 456.5,54.9 457.0,57.7 457.5,60.8 458.0,63.4 458.5,66.3 459.0,68.6 459.5,71.1 460.0,73.9 460.5,75.8 461.0,78.4 461.5,80.4 462.0,81.9 462.5,83.9 463.0,85.3 463.5,86.7 464.0,88.3 464.5,89.1 465.0,90.4 465.5,91.2 466.0,92.1 466.5,92.6 467.0,93.3 467.5,94.1 468.0,94.7 468.5,95.0 469.0,95.2 469.5,95.5 470.0,95.8 470.5,96.0 471.0,96.2 471.5,96.3 472.0,96.5 472.5,96.6 473.0,96.7 473.5,96.7 474.0,96.8 474.5,96.8 475.0,96.9 475.5,96.9 476.0,96.9 476.5,96.9 477.0,96.9 477.5,97.0 478.0,97.0 478.5,97.0 479.0,97.0 479.5,97.0 480.0,97.0 480.5,97.0 481.0,97.0 481.5,97.0 482.0,97.0 482.5,97.0 483.0,97.0 483.5,97.0 484.0,97.0 484.5,97.0 485.0,97.0 485.5,97.0 486.0,97.0 486.5,97.0 487.0,97.0 487.5,97.0 488.0,97.0 488.5,97.0 489.0,97.0 489.5,97.0 490.0,97.0 490.5,97.0 491.0,97.0 491.5,97.0 492.0,97.0 492.5,97.0 493.0,97.0 493.5,97.0 494.0,97.0 494.5,97.0 495.0,97.0 495.5,97.0 496.0,97.0 496.5,97.0 497.0,97.0 497.5,97.0 498.0,97.0 498.5,97.0 499.0,97.0 499.5,97.0 500.0,97.0 500.5,97.0 501.0,97.0 501.5,97.0 502.0,97.0 502.5,97.0 503.0,97.0 503.5,97.0 504.0,97.0 504.5,97.0 505.0,97.0 505.5,97.0 506.0,97.0 506.5,97.0 507.0,97.0 507.5,97.0 508.0,97.0 508.5,97.0 509.0,97.0 509.5,97.0 510.0,97.0 510.5,97.0 511.0,97.0 511.5,97.0 512.0,97.0 512.5,97.0 513.0,97.0 513.5,97.0 514.0,97.0 514.5,97.0 515.0,97.0 515.5,97.0 516.0,97.0 516.5,97.0 517.0,97.0" fill="none" stroke="#222" stroke-width="1.2" stroke-dasharray="1.5,1.5"/>
<polyline points="406.0,97.0 406.5,97.0 407.0,97.0 407.5,97.0 408.0,97.0 408.5,97.0 409.0,97.0 409.5,97.0 410.0,97.0 410.5,97.0 411.0,97.0 411.5,97.0 412.0,97.0 412.5,97.0 413.0,97.0 413.5,97.0 414.0,97.0 414.5,97.0 415.0,97.0 415.5,97.0 416.0,97.0 416.5,97.0 417.0,97.0 417.5,97.0 418.0,97.0 418.5,97.0 419.0,97.0 419.5,97.0 420.0,97.0 420.5,97.0 421.0,97.0 421.5,97.0 422.0,97.0 422.5,97.0 423.0,97.0 423.5,97.0 424.0,97.0 424.5,97.0 425.0,97.0 425.5,96.9 426.0,96.9 426.5,96.9 427.0,96.9 427.5,96.8 428.0,96.8 428.5,96.7 429.0,96.6 429.5,96.5 430.0,96.4 430.5,96.2 431.0,96.0 431.5,95.7 432.0,95.4 432.5,95.0 433.0,94.6 433.5,94.2 434.0,93.5 434.5,92.4 435.0,91.5 435.5,90.3 436.0,89.1 436.5,87.7 437.0,86.5 437.5,84.9 438.0,82.8 438.5,80.6 439.0,78.2 439.5,75.6 440.0,73.0 440.5,69.8 441.0,67.1 441.5,63.8 442.0,60.3 442.5,57.0 443.0,53.9 443.5,50.6 444.0,47.0 444.5,44.3 445.0,41.2 445.5,38.1 446.0,35.6 446.5,33.6 447.0,31.8 447.5,30.2 448.0,28.7 448.5,28.2 449.0,27.7 449.5,28.0 450.0,28.4 450.5,29.8 451.0,30.8 451.5,32.3 452.0,33.8 452.5,35.8 453.0,38.1 453.5,40.2 454.0,43.0 454.5,45.6 455.0,48.4 455.5,50.9 456.0,54.0 456.5,57.0 457.0,60.1 457.5,62.7 458.0,65.3 458.5,68.0 459.0,70.5 459.5,73.0 460.0,75.7 460.5,77.9 461.0,79.6 461.5,81.5 462.0,83.5 462.5,84.9 463.0,86.5 463.5,88.1 464.0,89.3 464.5,90.5 465.0,91.1 465.5,91.8 466.0,92.5 466.5,93.4 467.0,93.9 467.5,94.2 468.0,94.7 468.5,95.2 469.0,95.5 469.5,95.8 470.0,96.0 470.5,96.2 471.0,96.4 471.5,96.5 472.0,96.6 472.5,96.7 473.0,96.7 473.5,96.8 474.0,96.8 474.5,96.9 475.0,96.9 475.5,96.9 476.0,96.9 476.5,97.0 477.0,97.0 477.5,97.0 478.0,97.0 478.5,97.0 479.0,97.0 479.5,97.0 480.0,97.0 480.5,97.0 481.0,97.0 481.5,97.0 482.0,97.0 482.5,97.0 483.0,97.0 483.5,97.0 484.0,97.0 484.5,97.0 485.0,97.0 485.5,97.0 486.0,97.0 486.5,97.0 487.0,97.0 487.5,97.0 488.0,97.0 488.5,97.0 489.0,97.0 489.5,97.0 490.0,97.0 490.5,97.0 491.0,97.0 491.5,97.0 492.0,97.0 492.5,97.0 493.0,97.0 493.5,97.0 494.0,97.0 494.5,97.0 495.0,97.0 495.5,97.0 496.0,97.0 496.5,97.0 497.0,97.0 497.5,97.0 498.0,97.0 498.5,97.0 499.0,97.0 499.5,97.0 500.0,97.0 500.5,97.0 501.0,97.0 501.5,97.0 502.0,97.0 502.5,97.0 503.0,97.0 503.5,97.0 504.0,97.0 504.5,97.0 505.0,97.0 505.5,97.0 506.0,97.0 506.5,97.0 507.0,97.0 507.5,97.0 508.0,97.0 508.5,97.0 509.0,97.0 509.5,97.0 510.0,97.0 510.5,97.0 511.0,97.0 511.5,97.0 512.0,97.0 512.5,97.0 513.0,97.0 513.5,97.0 514.0,97.0 514.5,97.0 515.0,97.0 515.5,97.0 516.0,97.0 516.5,97.0 517.0,97.0" fill="none" stroke="#111" stroke-width="1.35" stroke-linejoin="round"/>
</g>
<rect x="73.5" y="23.5" width="444.4" height="74.0" fill="none" stroke="#7a7a7a" stroke-width="1.5"/>
<line x1="184.5" y1="23.5" x2="184.5" y2="97.5" stroke="#7a7a7a" stroke-width="1.5"/>
<line x1="295.5" y1="23.5" x2="295.5" y2="97.5" stroke="#7a7a7a" stroke-width="1.5"/>
<line x1="406.5" y1="23.5" x2="406.5" y2="97.5" stroke="#7a7a7a" stroke-width="1.5"/>
<g clip-path="url(#cA10)">
<path d="M73.0,182.0 L73.0,162.9 L73.5,161.6 L74.0,160.0 L74.5,158.6 L75.0,157.0 L75.5,155.0 L76.0,153.1 L76.5,151.6 L77.0,149.9 L77.5,148.1 L78.0,146.1 L78.5,144.0 L79.0,142.3 L79.5,140.1 L80.0,138.7 L80.5,136.7 L81.0,134.7 L81.5,132.9 L82.0,130.8 L82.5,129.0 L83.0,127.3 L83.5,125.8 L84.0,124.6 L84.5,122.8 L85.0,121.4 L85.5,120.2 L86.0,119.1 L86.5,117.8 L87.0,116.7 L87.5,116.4 L88.0,115.4 L88.5,115.0 L89.0,114.5 L89.5,114.0 L90.0,113.9 L90.5,114.2 L91.0,115.1 L91.5,115.6 L92.0,117.3 L92.5,118.8 L93.0,120.5 L93.5,123.1 L94.0,125.6 L94.5,127.8 L95.0,130.7 L95.5,134.0 L96.0,137.0 L96.5,140.2 L97.0,143.4 L97.5,146.4 L98.0,148.9 L98.5,152.4 L99.0,155.1 L99.5,157.7 L100.0,160.3 L100.5,162.3 L101.0,164.4 L101.5,166.3 L102.0,168.2 L102.5,169.8 L103.0,171.7 L103.5,172.9 L104.0,173.6 L104.5,175.2 L105.0,176.0 L105.5,176.6 L106.0,177.4 L106.5,177.9 L107.0,178.7 L107.5,179.0 L108.0,178.9 L108.5,179.7 L109.0,179.5 L109.5,180.2 L110.0,180.1 L110.5,180.3 L111.0,180.4 L111.5,180.6 L112.0,180.6 L112.5,180.7 L113.0,180.8 L113.5,180.9 L114.0,180.9 L114.5,181.0 L115.0,181.0 L115.5,181.1 L116.0,181.1 L116.5,181.2 L117.0,181.2 L117.5,181.3 L118.0,181.3 L118.5,181.3 L119.0,181.4 L119.5,181.4 L120.0,181.4 L120.5,181.5 L121.0,181.5 L121.5,181.5 L122.0,181.6 L122.5,181.6 L123.0,181.6 L123.5,181.7 L124.0,181.7 L124.5,181.7 L125.0,181.7 L125.5,181.7 L126.0,181.8 L126.5,181.8 L127.0,181.8 L127.5,181.8 L128.0,181.8 L128.5,181.8 L129.0,181.9 L129.5,181.9 L130.0,181.9 L130.5,181.9 L131.0,181.9 L131.5,181.9 L132.0,181.9 L132.5,181.9 L133.0,181.9 L133.5,181.9 L134.0,181.9 L134.5,182.0 L135.0,182.0 L135.5,182.0 L136.0,182.0 L136.5,182.0 L137.0,182.0 L137.5,182.0 L138.0,182.0 L138.5,182.0 L139.0,182.0 L139.5,182.0 L140.0,182.0 L140.5,182.0 L141.0,182.0 L141.5,182.0 L142.0,182.0 L142.5,182.0 L143.0,182.0 L143.5,182.0 L144.0,182.0 L144.5,182.0 L145.0,182.0 L145.5,182.0 L146.0,182.0 L146.5,182.0 L147.0,182.0 L147.5,182.0 L148.0,182.0 L148.5,182.0 L149.0,182.0 L149.5,182.0 L150.0,182.0 L150.5,182.0 L151.0,182.0 L151.5,182.0 L152.0,182.0 L152.5,182.0 L153.0,182.0 L153.5,182.0 L154.0,182.0 L154.5,182.0 L155.0,182.0 L155.5,182.0 L156.0,182.0 L156.5,182.0 L157.0,182.0 L157.5,182.0 L158.0,182.0 L158.5,182.0 L159.0,182.0 L159.5,182.0 L160.0,182.0 L160.5,182.0 L161.0,182.0 L161.5,182.0 L162.0,182.0 L162.5,182.0 L163.0,182.0 L163.5,182.0 L164.0,182.0 L164.5,182.0 L165.0,182.0 L165.5,182.0 L166.0,182.0 L166.5,182.0 L167.0,182.0 L167.5,182.0 L168.0,182.0 L168.5,182.0 L169.0,182.0 L169.5,182.0 L170.0,182.0 L170.5,182.0 L171.0,182.0 L171.5,182.0 L172.0,182.0 L172.5,182.0 L173.0,182.0 L173.5,182.0 L174.0,182.0 L174.5,182.0 L175.0,182.0 L175.5,182.0 L176.0,182.0 L176.5,182.0 L177.0,182.0 L177.5,182.0 L178.0,182.0 L178.5,182.0 L179.0,182.0 L179.5,182.0 L180.0,182.0 L180.5,182.0 L181.0,182.0 L181.5,182.0 L182.0,182.0 L182.5,182.0 L183.0,182.0 L183.5,182.0 L184.0,182.0 L184.0,182.0 Z" fill="#c3c3c3" stroke="none"/>
<polyline points="73.0,168.5 73.5,168.0 74.0,166.9 74.5,166.6 75.0,165.4 75.5,162.8 76.0,162.4 76.5,160.9 77.0,158.2 77.5,156.5 78.0,156.4 78.5,153.0 79.0,152.0 79.5,150.5 80.0,149.2 80.5,146.9 81.0,143.9 81.5,143.3 82.0,141.7 82.5,139.8 83.0,138.0 83.5,135.7 84.0,132.9 84.5,132.6 85.0,130.7 85.5,127.6 86.0,125.9 86.5,124.4 87.0,124.3 87.5,122.7 88.0,120.4 88.5,120.1 89.0,118.7 89.5,118.4 90.0,118.2 90.5,116.9 91.0,115.7 91.5,115.2 92.0,115.4 92.5,115.5 93.0,115.5 93.5,116.1 94.0,116.6 94.5,117.1 95.0,119.5 95.5,120.3 96.0,121.4 96.5,123.5 97.0,126.9 97.5,127.8 98.0,130.4 98.5,134.1 99.0,136.6 99.5,139.3 100.0,142.3 100.5,143.3 101.0,147.0 101.5,148.7 102.0,152.6 102.5,155.2 103.0,156.0 103.5,158.4 104.0,160.1 104.5,162.7 105.0,164.8 105.5,166.1 106.0,168.9 106.5,169.5 107.0,171.0 107.5,172.8 108.0,173.0 108.5,174.5 109.0,175.0 109.5,176.1 110.0,176.8 110.5,177.3 111.0,177.4 111.5,177.2 112.0,177.7 112.5,178.1 113.0,178.5 113.5,179.7 114.0,178.7 114.5,180.1 115.0,180.5 115.5,180.0 116.0,180.1 116.5,180.2 117.0,180.3 117.5,180.3 118.0,180.4 118.5,180.5 119.0,180.5 119.5,180.5 120.0,180.6 120.5,180.6 121.0,180.7 121.5,180.7 122.0,180.7 122.5,180.8 123.0,180.8 123.5,180.8 124.0,180.8 124.5,180.9 125.0,180.9 125.5,180.9 126.0,181.0 126.5,181.0 127.0,181.0 127.5,181.1 128.0,181.1 128.5,181.1 129.0,181.2 129.5,181.2 130.0,181.2 130.5,181.2 131.0,181.3 131.5,181.3 132.0,181.3 132.5,181.4 133.0,181.4 133.5,181.4 134.0,181.4 134.5,181.5 135.0,181.5 135.5,181.5 136.0,181.5 136.5,181.6 137.0,181.6 137.5,181.6 138.0,181.6 138.5,181.6 139.0,181.7 139.5,181.7 140.0,181.7 140.5,181.7 141.0,181.7 141.5,181.8 142.0,181.8 142.5,181.8 143.0,181.8 143.5,181.8 144.0,181.8 144.5,181.8 145.0,181.8 145.5,181.9 146.0,181.9 146.5,181.9 147.0,181.9 147.5,181.9 148.0,181.9 148.5,181.9 149.0,181.9 149.5,181.9 150.0,181.9 150.5,181.9 151.0,181.9 151.5,181.9 152.0,181.9 152.5,182.0 153.0,182.0 153.5,182.0 154.0,182.0 154.5,182.0 155.0,182.0 155.5,182.0 156.0,182.0 156.5,182.0 157.0,182.0 157.5,182.0 158.0,182.0 158.5,182.0 159.0,182.0 159.5,182.0 160.0,182.0 160.5,182.0 161.0,182.0 161.5,182.0 162.0,182.0 162.5,182.0 163.0,182.0 163.5,182.0 164.0,182.0 164.5,182.0 165.0,182.0 165.5,182.0 166.0,182.0 166.5,182.0 167.0,182.0 167.5,182.0 168.0,182.0 168.5,182.0 169.0,182.0 169.5,182.0 170.0,182.0 170.5,182.0 171.0,182.0 171.5,182.0 172.0,182.0 172.5,182.0 173.0,182.0 173.5,182.0 174.0,182.0 174.5,182.0 175.0,182.0 175.5,182.0 176.0,182.0 176.5,182.0 177.0,182.0 177.5,182.0 178.0,182.0 178.5,182.0 179.0,182.0 179.5,182.0 180.0,182.0 180.5,182.0 181.0,182.0 181.5,182.0 182.0,182.0 182.5,182.0 183.0,182.0 183.5,182.0 184.0,182.0" fill="none" stroke="#222" stroke-width="1.2" stroke-dasharray="1.5,1.5"/>
<polyline points="73.0,165.1 73.5,164.5 74.0,162.6 74.5,161.8 75.0,159.0 75.5,158.4 76.0,156.7 76.5,154.9 77.0,152.6 77.5,150.6 78.0,149.6 78.5,147.9 79.0,145.7 79.5,144.8 80.0,142.2 80.5,139.5 81.0,137.7 81.5,137.1 82.0,133.8 82.5,132.8 83.0,129.9 83.5,129.2 84.0,127.8 84.5,125.5 85.0,123.4 85.5,122.7 86.0,120.5 86.5,119.5 87.0,119.0 87.5,118.0 88.0,116.7 88.5,116.1 89.0,115.5 89.5,114.4 90.0,113.7 90.5,113.9 91.0,114.6 91.5,114.7 92.0,114.9 92.5,115.4 93.0,117.6 93.5,119.3 94.0,120.8 94.5,123.0 95.0,125.9 95.5,127.7 96.0,129.8 96.5,133.4 97.0,136.1 97.5,139.0 98.0,142.0 98.5,144.9 99.0,148.8 99.5,151.2 100.0,155.0 100.5,156.3 101.0,159.7 101.5,161.9 102.0,163.3 102.5,166.4 103.0,168.4 103.5,169.0 104.0,170.9 104.5,173.1 105.0,174.4 105.5,174.9 106.0,176.4 106.5,175.8 107.0,177.6 107.5,178.0 108.0,178.3 108.5,178.5 109.0,179.0 109.5,179.0 110.0,179.2 110.5,179.8 111.0,180.6 111.5,179.1 112.0,180.1 112.5,180.2 113.0,180.2 113.5,180.3 114.0,180.3 114.5,180.4 115.0,180.4 115.5,180.5 116.0,180.5 116.5,180.5 117.0,180.5 117.5,180.5 118.0,180.6 118.5,180.6 119.0,180.6 119.5,180.6 120.0,180.7 120.5,180.7 121.0,180.7 121.5,180.7 122.0,180.7 122.5,180.8 123.0,180.8 123.5,180.8 124.0,180.9 124.5,180.9 125.0,180.9 125.5,180.9 126.0,181.0 126.5,181.0 127.0,181.0 127.5,181.1 128.0,181.1 128.5,181.1 129.0,181.2 129.5,181.2 130.0,181.2 130.5,181.2 131.0,181.3 131.5,181.3 132.0,181.3 132.5,181.4 133.0,181.4 133.5,181.4 134.0,181.4 134.5,181.5 135.0,181.5 135.5,181.5 136.0,181.5 136.5,181.6 137.0,181.6 137.5,181.6 138.0,181.6 138.5,181.6 139.0,181.7 139.5,181.7 140.0,181.7 140.5,181.7 141.0,181.7 141.5,181.8 142.0,181.8 142.5,181.8 143.0,181.8 143.5,181.8 144.0,181.8 144.5,181.8 145.0,181.8 145.5,181.9 146.0,181.9 146.5,181.9 147.0,181.9 147.5,181.9 148.0,181.9 148.5,181.9 149.0,181.9 149.5,181.9 150.0,181.9 150.5,181.9 151.0,181.9 151.5,181.9 152.0,181.9 152.5,182.0 153.0,182.0 153.5,182.0 154.0,182.0 154.5,182.0 155.0,182.0 155.5,182.0 156.0,182.0 156.5,182.0 157.0,182.0 157.5,182.0 158.0,182.0 158.5,182.0 159.0,182.0 159.5,182.0 160.0,182.0 160.5,182.0 161.0,182.0 161.5,182.0 162.0,182.0 162.5,182.0 163.0,182.0 163.5,182.0 164.0,182.0 164.5,182.0 165.0,182.0 165.5,182.0 166.0,182.0 166.5,182.0 167.0,182.0 167.5,182.0 168.0,182.0 168.5,182.0 169.0,182.0 169.5,182.0 170.0,182.0 170.5,182.0 171.0,182.0 171.5,182.0 172.0,182.0 172.5,182.0 173.0,182.0 173.5,182.0 174.0,182.0 174.5,182.0 175.0,182.0 175.5,182.0 176.0,182.0 176.5,182.0 177.0,182.0 177.5,182.0 178.0,182.0 178.5,182.0 179.0,182.0 179.5,182.0 180.0,182.0 180.5,182.0 181.0,182.0 181.5,182.0 182.0,182.0 182.5,182.0 183.0,182.0 183.5,182.0 184.0,182.0" fill="none" stroke="#111" stroke-width="1.35" stroke-linejoin="round"/>
</g>
<g clip-path="url(#cA11)">
<path d="M184.0,182.0 L184.0,161.4 L184.5,160.3 L185.0,158.5 L185.5,156.7 L186.0,154.9 L186.5,153.7 L187.0,151.9 L187.5,149.9 L188.0,148.0 L188.5,145.9 L189.0,144.0 L189.5,142.4 L190.0,140.4 L190.5,138.4 L191.0,136.4 L191.5,134.9 L192.0,132.9 L192.5,131.3 L193.0,129.2 L193.5,127.8 L194.0,125.7 L194.5,124.3 L195.0,122.8 L195.5,121.7 L196.0,120.3 L196.5,119.0 L197.0,117.7 L197.5,117.0 L198.0,116.3 L198.5,115.2 L199.0,114.9 L199.5,114.6 L200.0,114.5 L200.5,114.3 L201.0,114.1 L201.5,115.0 L202.0,115.6 L202.5,116.7 L203.0,118.2 L203.5,119.7 L204.0,121.6 L204.5,123.8 L205.0,126.2 L205.5,129.1 L206.0,131.9 L206.5,134.4 L207.0,137.3 L207.5,140.3 L208.0,142.7 L208.5,145.9 L209.0,148.4 L209.5,151.0 L210.0,154.1 L210.5,156.2 L211.0,158.9 L211.5,161.2 L212.0,163.3 L212.5,165.4 L213.0,166.9 L213.5,168.6 L214.0,169.9 L214.5,171.2 L215.0,172.9 L215.5,173.8 L216.0,174.8 L216.5,175.8 L217.0,176.5 L217.5,177.2 L218.0,177.5 L218.5,178.2 L219.0,178.8 L219.5,179.1 L220.0,179.3 L220.5,179.5 L221.0,180.0 L221.5,180.0 L222.0,180.2 L222.5,180.4 L223.0,180.5 L223.5,180.6 L224.0,180.7 L224.5,180.8 L225.0,180.9 L225.5,180.9 L226.0,181.0 L226.5,181.1 L227.0,181.1 L227.5,181.2 L228.0,181.2 L228.5,181.3 L229.0,181.3 L229.5,181.3 L230.0,181.4 L230.5,181.4 L231.0,181.4 L231.5,181.5 L232.0,181.5 L232.5,181.5 L233.0,181.6 L233.5,181.6 L234.0,181.6 L234.5,181.7 L235.0,181.7 L235.5,181.7 L236.0,181.7 L236.5,181.7 L237.0,181.8 L237.5,181.8 L238.0,181.8 L238.5,181.8 L239.0,181.8 L239.5,181.8 L240.0,181.9 L240.5,181.9 L241.0,181.9 L241.5,181.9 L242.0,181.9 L242.5,181.9 L243.0,181.9 L243.5,181.9 L244.0,181.9 L244.5,181.9 L245.0,181.9 L245.5,182.0 L246.0,182.0 L246.5,182.0 L247.0,182.0 L247.5,182.0 L248.0,182.0 L248.5,182.0 L249.0,182.0 L249.5,182.0 L250.0,182.0 L250.5,182.0 L251.0,182.0 L251.5,182.0 L252.0,182.0 L252.5,182.0 L253.0,182.0 L253.5,182.0 L254.0,182.0 L254.5,182.0 L255.0,182.0 L255.5,182.0 L256.0,182.0 L256.5,182.0 L257.0,182.0 L257.5,182.0 L258.0,182.0 L258.5,182.0 L259.0,182.0 L259.5,182.0 L260.0,182.0 L260.5,182.0 L261.0,182.0 L261.5,182.0 L262.0,182.0 L262.5,182.0 L263.0,182.0 L263.5,182.0 L264.0,182.0 L264.5,182.0 L265.0,182.0 L265.5,182.0 L266.0,182.0 L266.5,182.0 L267.0,182.0 L267.5,182.0 L268.0,182.0 L268.5,182.0 L269.0,182.0 L269.5,182.0 L270.0,182.0 L270.5,182.0 L271.0,182.0 L271.5,182.0 L272.0,182.0 L272.5,182.0 L273.0,182.0 L273.5,182.0 L274.0,182.0 L274.5,182.0 L275.0,182.0 L275.5,182.0 L276.0,182.0 L276.5,182.0 L277.0,182.0 L277.5,182.0 L278.0,182.0 L278.5,182.0 L279.0,182.0 L279.5,182.0 L280.0,182.0 L280.5,182.0 L281.0,182.0 L281.5,182.0 L282.0,182.0 L282.5,182.0 L283.0,182.0 L283.5,182.0 L284.0,182.0 L284.5,182.0 L285.0,182.0 L285.5,182.0 L286.0,182.0 L286.5,182.0 L287.0,182.0 L287.5,182.0 L288.0,182.0 L288.5,182.0 L289.0,182.0 L289.5,182.0 L290.0,182.0 L290.5,182.0 L291.0,182.0 L291.5,182.0 L292.0,182.0 L292.5,182.0 L293.0,182.0 L293.5,182.0 L294.0,182.0 L294.5,182.0 L295.0,182.0 L295.0,182.0 Z" fill="#c3c3c3" stroke="none"/>
<polyline points="184.0,165.1 184.5,164.6 185.0,162.4 185.5,161.1 186.0,160.3 186.5,157.7 187.0,156.8 187.5,154.8 188.0,153.0 188.5,151.2 189.0,149.7 189.5,148.6 190.0,145.4 190.5,143.4 191.0,142.2 191.5,140.2 192.0,138.9 192.5,135.9 193.0,134.4 193.5,133.5 194.0,130.6 194.5,128.6 195.0,128.1 195.5,125.4 196.0,124.8 196.5,123.9 197.0,121.6 197.5,121.1 198.0,119.3 198.5,118.6 199.0,118.6 199.5,117.1 200.0,115.9 200.5,116.1 201.0,115.7 201.5,114.9 202.0,115.6 202.5,115.7 203.0,116.0 203.5,116.3 204.0,118.3 204.5,119.7 205.0,119.8 205.5,121.7 206.0,123.9 206.5,124.8 207.0,126.8 207.5,129.6 208.0,131.0 208.5,133.6 209.0,136.2 209.5,139.4 210.0,142.4 210.5,143.6 211.0,145.9 211.5,149.0 212.0,151.1 212.5,153.2 213.0,155.9 213.5,157.2 214.0,159.5 214.5,161.7 215.0,164.0 215.5,164.8 216.0,166.8 216.5,167.6 217.0,169.9 217.5,170.7 218.0,172.2 218.5,172.9 219.0,173.5 219.5,175.2 220.0,176.1 220.5,176.0 221.0,177.1 221.5,177.1 222.0,178.2 222.5,178.7 223.0,178.3 223.5,177.9 224.0,178.3 224.5,179.2 225.0,179.6 225.5,180.4 226.0,180.2 226.5,180.2 227.0,180.0 227.5,180.1 228.0,180.2 228.5,180.3 229.0,180.3 229.5,180.4 230.0,180.5 230.5,180.5 231.0,180.6 231.5,180.6 232.0,180.6 232.5,180.7 233.0,180.7 233.5,180.7 234.0,180.8 234.5,180.8 235.0,180.8 235.5,180.9 236.0,180.9 236.5,180.9 237.0,181.0 237.5,181.0 238.0,181.0 238.5,181.1 239.0,181.1 239.5,181.1 240.0,181.1 240.5,181.2 241.0,181.2 241.5,181.2 242.0,181.3 242.5,181.3 243.0,181.3 243.5,181.4 244.0,181.4 244.5,181.4 245.0,181.4 245.5,181.5 246.0,181.5 246.5,181.5 247.0,181.5 247.5,181.6 248.0,181.6 248.5,181.6 249.0,181.6 249.5,181.6 250.0,181.7 250.5,181.7 251.0,181.7 251.5,181.7 252.0,181.7 252.5,181.8 253.0,181.8 253.5,181.8 254.0,181.8 254.5,181.8 255.0,181.8 255.5,181.8 256.0,181.8 256.5,181.9 257.0,181.9 257.5,181.9 258.0,181.9 258.5,181.9 259.0,181.9 259.5,181.9 260.0,181.9 260.5,181.9 261.0,181.9 261.5,181.9 262.0,181.9 262.5,181.9 263.0,181.9 263.5,182.0 264.0,182.0 264.5,182.0 265.0,182.0 265.5,182.0 266.0,182.0 266.5,182.0 267.0,182.0 267.5,182.0 268.0,182.0 268.5,182.0 269.0,182.0 269.5,182.0 270.0,182.0 270.5,182.0 271.0,182.0 271.5,182.0 272.0,182.0 272.5,182.0 273.0,182.0 273.5,182.0 274.0,182.0 274.5,182.0 275.0,182.0 275.5,182.0 276.0,182.0 276.5,182.0 277.0,182.0 277.5,182.0 278.0,182.0 278.5,182.0 279.0,182.0 279.5,182.0 280.0,182.0 280.5,182.0 281.0,182.0 281.5,182.0 282.0,182.0 282.5,182.0 283.0,182.0 283.5,182.0 284.0,182.0 284.5,182.0 285.0,182.0 285.5,182.0 286.0,182.0 286.5,182.0 287.0,182.0 287.5,182.0 288.0,182.0 288.5,182.0 289.0,182.0 289.5,182.0 290.0,182.0 290.5,182.0 291.0,182.0 291.5,182.0 292.0,182.0 292.5,182.0 293.0,182.0 293.5,182.0 294.0,182.0 294.5,182.0 295.0,182.0" fill="none" stroke="#222" stroke-width="1.2" stroke-dasharray="1.5,1.5"/>
<polyline points="184.0,161.9 184.5,161.9 185.0,158.9 185.5,158.2 186.0,156.6 186.5,155.2 187.0,152.2 187.5,151.8 188.0,149.3 188.5,147.5 189.0,146.2 189.5,144.2 190.0,140.9 190.5,139.3 191.0,137.5 191.5,135.3 192.0,134.8 192.5,131.9 193.0,130.0 193.5,129.1 194.0,127.0 194.5,124.4 195.0,124.0 195.5,121.7 196.0,121.4 196.5,119.2 197.0,118.7 197.5,117.2 198.0,116.5 198.5,114.8 199.0,114.4 199.5,114.3 200.0,113.5 200.5,113.8 201.0,113.0 201.5,114.1 202.0,114.0 202.5,114.7 203.0,116.1 203.5,118.0 204.0,119.3 204.5,120.3 205.0,123.1 205.5,124.3 206.0,127.1 206.5,128.8 207.0,131.6 207.5,134.5 208.0,137.9 208.5,141.3 209.0,143.1 209.5,145.5 210.0,147.8 210.5,151.7 211.0,154.3 211.5,155.2 212.0,158.0 212.5,160.6 213.0,162.2 213.5,165.1 214.0,166.2 214.5,167.6 215.0,169.2 215.5,171.4 216.0,172.6 216.5,172.9 217.0,173.4 217.5,175.6 218.0,176.6 218.5,177.2 219.0,176.5 219.5,177.8 220.0,178.1 220.5,177.5 221.0,178.6 221.5,179.5 222.0,178.9 222.5,180.4 223.0,180.1 223.5,179.5 224.0,180.5 224.5,180.1 225.0,180.1 225.5,180.2 226.0,180.3 226.5,180.3 227.0,180.4 227.5,180.4 228.0,180.5 228.5,180.5 229.0,180.5 229.5,180.6 230.0,180.6 230.5,180.6 231.0,180.6 231.5,180.7 232.0,180.7 232.5,180.7 233.0,180.7 233.5,180.8 234.0,180.8 234.5,180.8 235.0,180.9 235.5,180.9 236.0,180.9 236.5,180.9 237.0,181.0 237.5,181.0 238.0,181.0 238.5,181.1 239.0,181.1 239.5,181.1 240.0,181.2 240.5,181.2 241.0,181.2 241.5,181.2 242.0,181.3 242.5,181.3 243.0,181.3 243.5,181.4 244.0,181.4 244.5,181.4 245.0,181.4 245.5,181.5 246.0,181.5 246.5,181.5 247.0,181.5 247.5,181.6 248.0,181.6 248.5,181.6 249.0,181.6 249.5,181.6 250.0,181.7 250.5,181.7 251.0,181.7 251.5,181.7 252.0,181.7 252.5,181.8 253.0,181.8 253.5,181.8 254.0,181.8 254.5,181.8 255.0,181.8 255.5,181.8 256.0,181.8 256.5,181.9 257.0,181.9 257.5,181.9 258.0,181.9 258.5,181.9 259.0,181.9 259.5,181.9 260.0,181.9 260.5,181.9 261.0,181.9 261.5,181.9 262.0,181.9 262.5,181.9 263.0,181.9 263.5,182.0 264.0,182.0 264.5,182.0 265.0,182.0 265.5,182.0 266.0,182.0 266.5,182.0 267.0,182.0 267.5,182.0 268.0,182.0 268.5,182.0 269.0,182.0 269.5,182.0 270.0,182.0 270.5,182.0 271.0,182.0 271.5,182.0 272.0,182.0 272.5,182.0 273.0,182.0 273.5,182.0 274.0,182.0 274.5,182.0 275.0,182.0 275.5,182.0 276.0,182.0 276.5,182.0 277.0,182.0 277.5,182.0 278.0,182.0 278.5,182.0 279.0,182.0 279.5,182.0 280.0,182.0 280.5,182.0 281.0,182.0 281.5,182.0 282.0,182.0 282.5,182.0 283.0,182.0 283.5,182.0 284.0,182.0 284.5,182.0 285.0,182.0 285.5,182.0 286.0,182.0 286.5,182.0 287.0,182.0 287.5,182.0 288.0,182.0 288.5,182.0 289.0,182.0 289.5,182.0 290.0,182.0 290.5,182.0 291.0,182.0 291.5,182.0 292.0,182.0 292.5,182.0 293.0,182.0 293.5,182.0 294.0,182.0 294.5,182.0 295.0,182.0" fill="none" stroke="#111" stroke-width="1.35" stroke-linejoin="round"/>
</g>
<g clip-path="url(#cA12)">
<path d="M295.0,182.0 L295.0,159.6 L295.5,157.8 L296.0,156.3 L296.5,154.3 L297.0,153.1 L297.5,151.0 L298.0,149.5 L298.5,147.4 L299.0,145.8 L299.5,143.8 L300.0,142.2 L300.5,140.4 L301.0,138.4 L301.5,136.4 L302.0,134.9 L302.5,133.2 L303.0,131.3 L303.5,129.8 L304.0,128.0 L304.5,126.3 L305.0,124.8 L305.5,123.4 L306.0,122.2 L306.5,121.1 L307.0,120.0 L307.5,118.8 L308.0,118.0 L308.5,116.9 L309.0,116.5 L309.5,115.6 L310.0,115.3 L310.5,115.0 L311.0,114.9 L311.5,115.0 L312.0,115.5 L312.5,116.2 L313.0,117.4 L313.5,118.2 L314.0,120.0 L314.5,122.1 L315.0,123.7 L315.5,126.2 L316.0,128.6 L316.5,131.3 L317.0,134.2 L317.5,136.5 L318.0,139.8 L318.5,142.6 L319.0,145.1 L319.5,148.4 L320.0,150.9 L320.5,153.6 L321.0,156.3 L321.5,158.4 L322.0,161.0 L322.5,163.4 L323.0,165.2 L323.5,167.4 L324.0,168.7 L324.5,170.2 L325.0,171.6 L325.5,173.5 L326.0,174.3 L326.5,175.5 L327.0,176.4 L327.5,177.3 L328.0,178.0 L328.5,178.8 L329.0,179.0 L329.5,179.8 L330.0,179.7 L330.5,180.3 L331.0,180.6 L331.5,180.9 L332.0,181.1 L332.5,181.3 L333.0,181.4 L333.5,181.5 L334.0,181.6 L334.5,181.7 L335.0,181.8 L335.5,181.8 L336.0,181.8 L336.5,181.9 L337.0,181.9 L337.5,181.9 L338.0,181.9 L338.5,182.0 L339.0,182.0 L339.5,182.0 L340.0,182.0 L340.5,182.0 L341.0,182.0 L341.5,182.0 L342.0,182.0 L342.5,182.0 L343.0,182.0 L343.5,182.0 L344.0,182.0 L344.5,182.0 L345.0,182.0 L345.5,182.0 L346.0,182.0 L346.5,182.0 L347.0,182.0 L347.5,182.0 L348.0,182.0 L348.5,182.0 L349.0,182.0 L349.5,182.0 L350.0,182.0 L350.5,182.0 L351.0,182.0 L351.5,182.0 L352.0,182.0 L352.5,182.0 L353.0,182.0 L353.5,182.0 L354.0,182.0 L354.5,182.0 L355.0,182.0 L355.5,182.0 L356.0,182.0 L356.5,182.0 L357.0,182.0 L357.5,182.0 L358.0,182.0 L358.5,182.0 L359.0,182.0 L359.5,182.0 L360.0,182.0 L360.5,182.0 L361.0,182.0 L361.5,182.0 L362.0,182.0 L362.5,182.0 L363.0,182.0 L363.5,182.0 L364.0,182.0 L364.5,182.0 L365.0,182.0 L365.5,182.0 L366.0,182.0 L366.5,182.0 L367.0,182.0 L367.5,182.0 L368.0,182.0 L368.5,182.0 L369.0,182.0 L369.5,182.0 L370.0,182.0 L370.5,182.0 L371.0,182.0 L371.5,182.0 L372.0,182.0 L372.5,182.0 L373.0,182.0 L373.5,182.0 L374.0,182.0 L374.5,182.0 L375.0,182.0 L375.5,182.0 L376.0,182.0 L376.5,182.0 L377.0,182.0 L377.5,182.0 L378.0,182.0 L378.5,182.0 L379.0,182.0 L379.5,182.0 L380.0,182.0 L380.5,182.0 L381.0,182.0 L381.5,182.0 L382.0,182.0 L382.5,182.0 L383.0,182.0 L383.5,182.0 L384.0,182.0 L384.5,182.0 L385.0,182.0 L385.5,182.0 L386.0,182.0 L386.5,182.0 L387.0,182.0 L387.5,182.0 L388.0,182.0 L388.5,182.0 L389.0,182.0 L389.5,182.0 L390.0,182.0 L390.5,182.0 L391.0,182.0 L391.5,182.0 L392.0,182.0 L392.5,182.0 L393.0,182.0 L393.5,182.0 L394.0,182.0 L394.5,182.0 L395.0,182.0 L395.5,182.0 L396.0,182.0 L396.5,182.0 L397.0,182.0 L397.5,182.0 L398.0,182.0 L398.5,182.0 L399.0,182.0 L399.5,182.0 L400.0,182.0 L400.5,182.0 L401.0,182.0 L401.5,182.0 L402.0,182.0 L402.5,182.0 L403.0,182.0 L403.5,182.0 L404.0,182.0 L404.5,182.0 L405.0,182.0 L405.5,182.0 L406.0,182.0 L406.0,182.0 Z" fill="#c3c3c3" stroke="none"/>
<polyline points="295.0,181.2 295.5,181.2 296.0,181.1 296.5,181.0 297.0,180.8 297.5,180.7 298.0,180.6 298.5,180.4 299.0,180.3 299.5,180.1 300.0,180.8 300.5,178.9 301.0,180.1 301.5,180.1 302.0,178.7 302.5,178.9 303.0,178.2 303.5,178.4 304.0,177.9 304.5,178.6 305.0,177.2 305.5,177.2 306.0,176.0 306.5,177.3 307.0,176.8 307.5,175.3 308.0,174.4 308.5,174.8 309.0,173.7 309.5,173.4 310.0,173.1 310.5,172.3 311.0,171.3 311.5,171.6 312.0,170.2 312.5,168.5 313.0,168.4 313.5,167.0 314.0,166.2 314.5,164.8 315.0,163.0 315.5,161.4 316.0,159.5 316.5,158.8 317.0,157.6 317.5,155.7 318.0,154.4 318.5,152.1 319.0,149.6 319.5,147.5 320.0,146.1 320.5,144.1 321.0,142.2 321.5,139.9 322.0,137.2 322.5,135.6 323.0,132.4 323.5,131.0 324.0,129.5 324.5,127.5 325.0,126.5 325.5,123.7 326.0,122.3 326.5,121.7 327.0,120.0 327.5,119.9 328.0,119.3 328.5,118.8 329.0,118.6 329.5,117.8 330.0,118.0 330.5,118.5 331.0,120.7 331.5,120.9 332.0,123.3 332.5,125.6 333.0,127.9 333.5,130.7 334.0,134.0 334.5,136.7 335.0,139.4 335.5,142.5 336.0,145.4 336.5,149.8 337.0,151.7 337.5,154.8 338.0,157.9 338.5,160.1 339.0,164.1 339.5,165.3 340.0,167.2 340.5,170.5 341.0,171.4 341.5,172.3 342.0,174.9 342.5,175.1 343.0,176.0 343.5,177.8 344.0,179.1 344.5,179.6 345.0,179.1 345.5,180.1 346.0,180.5 346.5,180.8 347.0,181.1 347.5,181.3 348.0,181.4 348.5,181.6 349.0,181.7 349.5,181.7 350.0,181.8 350.5,181.9 351.0,181.9 351.5,181.9 352.0,181.9 352.5,182.0 353.0,182.0 353.5,182.0 354.0,182.0 354.5,182.0 355.0,182.0 355.5,182.0 356.0,182.0 356.5,182.0 357.0,182.0 357.5,182.0 358.0,182.0 358.5,182.0 359.0,182.0 359.5,182.0 360.0,182.0 360.5,182.0 361.0,182.0 361.5,182.0 362.0,182.0 362.5,182.0 363.0,182.0 363.5,182.0 364.0,182.0 364.5,182.0 365.0,182.0 365.5,182.0 366.0,182.0 366.5,182.0 367.0,182.0 367.5,182.0 368.0,182.0 368.5,182.0 369.0,182.0 369.5,182.0 370.0,182.0 370.5,182.0 371.0,182.0 371.5,182.0 372.0,182.0 372.5,182.0 373.0,182.0 373.5,182.0 374.0,182.0 374.5,182.0 375.0,182.0 375.5,182.0 376.0,182.0 376.5,182.0 377.0,182.0 377.5,182.0 378.0,182.0 378.5,182.0 379.0,182.0 379.5,182.0 380.0,182.0 380.5,182.0 381.0,182.0 381.5,182.0 382.0,182.0 382.5,182.0 383.0,182.0 383.5,182.0 384.0,182.0 384.5,182.0 385.0,182.0 385.5,182.0 386.0,182.0 386.5,182.0 387.0,182.0 387.5,182.0 388.0,182.0 388.5,182.0 389.0,182.0 389.5,182.0 390.0,182.0 390.5,182.0 391.0,182.0 391.5,182.0 392.0,182.0 392.5,182.0 393.0,182.0 393.5,182.0 394.0,182.0 394.5,182.0 395.0,182.0 395.5,182.0 396.0,182.0 396.5,182.0 397.0,182.0 397.5,182.0 398.0,182.0 398.5,182.0 399.0,182.0 399.5,182.0 400.0,182.0 400.5,182.0 401.0,182.0 401.5,182.0 402.0,182.0 402.5,182.0 403.0,182.0 403.5,182.0 404.0,182.0 404.5,182.0 405.0,182.0 405.5,182.0 406.0,182.0" fill="none" stroke="#222" stroke-width="1.2" stroke-dasharray="1.5,1.5"/>
<polyline points="295.0,181.3 295.5,181.2 296.0,181.1 296.5,181.1 297.0,180.9 297.5,180.8 298.0,180.7 298.5,180.6 299.0,180.5 299.5,180.3 300.0,180.1 300.5,180.1 301.0,180.1 301.5,179.7 302.0,178.6 302.5,179.6 303.0,179.8 303.5,177.9 304.0,178.8 304.5,178.4 305.0,177.1 305.5,178.0 306.0,178.0 306.5,176.2 307.0,177.0 307.5,176.6 308.0,174.9 308.5,175.7 309.0,173.9 309.5,174.4 310.0,173.8 310.5,173.3 311.0,172.0 311.5,171.1 312.0,170.5 312.5,169.4 313.0,168.7 313.5,166.6 314.0,165.2 314.5,164.2 315.0,162.7 315.5,162.6 316.0,160.6 316.5,159.0 317.0,157.3 317.5,154.0 318.0,152.1 318.5,150.1 319.0,148.6 319.5,147.2 320.0,144.4 320.5,142.9 321.0,139.1 321.5,138.0 322.0,135.7 322.5,132.3 323.0,131.5 323.5,128.2 324.0,127.3 324.5,124.9 325.0,124.2 325.5,121.2 326.0,120.8 326.5,119.7 327.0,118.2 327.5,117.6 328.0,117.7 328.5,117.7 329.0,116.8 329.5,118.2 330.0,117.4 330.5,119.6 331.0,121.6 331.5,123.4 332.0,126.2 332.5,128.5 333.0,131.0 333.5,134.4 334.0,137.8 334.5,141.3 335.0,144.3 335.5,147.1 336.0,151.0 336.5,153.6 337.0,157.2 337.5,160.7 338.0,163.3 338.5,164.5 339.0,167.5 339.5,169.7 340.0,171.3 340.5,172.4 341.0,174.7 341.5,175.9 342.0,177.0 342.5,178.6 343.0,178.4 343.5,179.2 344.0,179.7 344.5,180.2 345.0,180.6 345.5,180.9 346.0,181.1 346.5,181.3 347.0,181.5 347.5,181.6 348.0,181.7 348.5,181.8 349.0,181.8 349.5,181.9 350.0,181.9 350.5,181.9 351.0,182.0 351.5,182.0 352.0,182.0 352.5,182.0 353.0,182.0 353.5,182.0 354.0,182.0 354.5,182.0 355.0,182.0 355.5,182.0 356.0,182.0 356.5,182.0 357.0,182.0 357.5,182.0 358.0,182.0 358.5,182.0 359.0,182.0 359.5,182.0 360.0,182.0 360.5,182.0 361.0,182.0 361.5,182.0 362.0,182.0 362.5,182.0 363.0,182.0 363.5,182.0 364.0,182.0 364.5,182.0 365.0,182.0 365.5,182.0 366.0,182.0 366.5,182.0 367.0,182.0 367.5,182.0 368.0,182.0 368.5,182.0 369.0,182.0 369.5,182.0 370.0,182.0 370.5,182.0 371.0,182.0 371.5,182.0 372.0,182.0 372.5,182.0 373.0,182.0 373.5,182.0 374.0,182.0 374.5,182.0 375.0,182.0 375.5,182.0 376.0,182.0 376.5,182.0 377.0,182.0 377.5,182.0 378.0,182.0 378.5,182.0 379.0,182.0 379.5,182.0 380.0,182.0 380.5,182.0 381.0,182.0 381.5,182.0 382.0,182.0 382.5,182.0 383.0,182.0 383.5,182.0 384.0,182.0 384.5,182.0 385.0,182.0 385.5,182.0 386.0,182.0 386.5,182.0 387.0,182.0 387.5,182.0 388.0,182.0 388.5,182.0 389.0,182.0 389.5,182.0 390.0,182.0 390.5,182.0 391.0,182.0 391.5,182.0 392.0,182.0 392.5,182.0 393.0,182.0 393.5,182.0 394.0,182.0 394.5,182.0 395.0,182.0 395.5,182.0 396.0,182.0 396.5,182.0 397.0,182.0 397.5,182.0 398.0,182.0 398.5,182.0 399.0,182.0 399.5,182.0 400.0,182.0 400.5,182.0 401.0,182.0 401.5,182.0 402.0,182.0 402.5,182.0 403.0,182.0 403.5,182.0 404.0,182.0 404.5,182.0 405.0,182.0 405.5,182.0 406.0,182.0" fill="none" stroke="#111" stroke-width="1.35" stroke-linejoin="round"/>
</g>
<g clip-path="url(#cA13)">
<path d="M406.0,182.0 L406.0,159.4 L406.5,157.8 L407.0,156.1 L407.5,154.8 L408.0,152.6 L408.5,151.4 L409.0,149.2 L409.5,147.8 L410.0,145.6 L410.5,144.1 L411.0,142.4 L411.5,140.2 L412.0,138.2 L412.5,136.4 L413.0,134.5 L413.5,132.7 L414.0,131.5 L414.5,129.6 L415.0,128.2 L415.5,126.2 L416.0,124.9 L416.5,123.3 L417.0,121.9 L417.5,120.5 L418.0,119.6 L418.5,118.5 L419.0,117.7 L419.5,117.2 L420.0,116.1 L420.5,116.0 L421.0,115.6 L421.5,114.9 L422.0,115.1 L422.5,115.0 L423.0,115.7 L423.5,116.3 L424.0,117.0 L424.5,118.7 L425.0,120.0 L425.5,121.6 L426.0,124.1 L426.5,126.1 L427.0,128.5 L427.5,131.2 L428.0,133.8 L428.5,136.7 L429.0,139.9 L429.5,142.7 L430.0,145.3 L430.5,147.9 L431.0,151.1 L431.5,153.5 L432.0,156.4 L432.5,158.4 L433.0,161.0 L433.5,163.1 L434.0,165.1 L434.5,167.3 L435.0,168.7 L435.5,170.2 L436.0,171.7 L436.5,173.3 L437.0,174.5 L437.5,175.6 L438.0,176.1 L438.5,177.2 L439.0,178.0 L439.5,178.5 L440.0,179.0 L440.5,179.7 L441.0,180.1 L441.5,180.3 L442.0,180.6 L442.5,180.9 L443.0,181.1 L443.5,181.3 L444.0,181.4 L444.5,181.5 L445.0,181.6 L445.5,181.7 L446.0,181.8 L446.5,181.8 L447.0,181.8 L447.5,181.9 L448.0,181.9 L448.5,181.9 L449.0,181.9 L449.5,182.0 L450.0,182.0 L450.5,182.0 L451.0,182.0 L451.5,182.0 L452.0,182.0 L452.5,182.0 L453.0,182.0 L453.5,182.0 L454.0,182.0 L454.5,182.0 L455.0,182.0 L455.5,182.0 L456.0,182.0 L456.5,182.0 L457.0,182.0 L457.5,182.0 L458.0,182.0 L458.5,182.0 L459.0,182.0 L459.5,182.0 L460.0,182.0 L460.5,182.0 L461.0,182.0 L461.5,182.0 L462.0,182.0 L462.5,182.0 L463.0,182.0 L463.5,182.0 L464.0,182.0 L464.5,182.0 L465.0,182.0 L465.5,182.0 L466.0,182.0 L466.5,182.0 L467.0,182.0 L467.5,182.0 L468.0,182.0 L468.5,182.0 L469.0,182.0 L469.5,182.0 L470.0,182.0 L470.5,182.0 L471.0,182.0 L471.5,182.0 L472.0,182.0 L472.5,182.0 L473.0,182.0 L473.5,182.0 L474.0,182.0 L474.5,182.0 L475.0,182.0 L475.5,182.0 L476.0,182.0 L476.5,182.0 L477.0,182.0 L477.5,182.0 L478.0,182.0 L478.5,182.0 L479.0,182.0 L479.5,182.0 L480.0,182.0 L480.5,182.0 L481.0,182.0 L481.5,182.0 L482.0,182.0 L482.5,182.0 L483.0,182.0 L483.5,182.0 L484.0,182.0 L484.5,182.0 L485.0,182.0 L485.5,182.0 L486.0,182.0 L486.5,182.0 L487.0,182.0 L487.5,182.0 L488.0,182.0 L488.5,182.0 L489.0,182.0 L489.5,182.0 L490.0,182.0 L490.5,182.0 L491.0,182.0 L491.5,182.0 L492.0,182.0 L492.5,182.0 L493.0,182.0 L493.5,182.0 L494.0,182.0 L494.5,182.0 L495.0,182.0 L495.5,182.0 L496.0,182.0 L496.5,182.0 L497.0,182.0 L497.5,182.0 L498.0,182.0 L498.5,182.0 L499.0,182.0 L499.5,182.0 L500.0,182.0 L500.5,182.0 L501.0,182.0 L501.5,182.0 L502.0,182.0 L502.5,182.0 L503.0,182.0 L503.5,182.0 L504.0,182.0 L504.5,182.0 L505.0,182.0 L505.5,182.0 L506.0,182.0 L506.5,182.0 L507.0,182.0 L507.5,182.0 L508.0,182.0 L508.5,182.0 L509.0,182.0 L509.5,182.0 L510.0,182.0 L510.5,182.0 L511.0,182.0 L511.5,182.0 L512.0,182.0 L512.5,182.0 L513.0,182.0 L513.5,182.0 L514.0,182.0 L514.5,182.0 L515.0,182.0 L515.5,182.0 L516.0,182.0 L516.5,182.0 L517.0,182.0 L517.0,182.0 Z" fill="#c3c3c3" stroke="none"/>
<polyline points="406.0,181.7 406.5,181.7 407.0,181.7 407.5,181.6 408.0,181.6 408.5,181.6 409.0,181.5 409.5,181.5 410.0,181.5 410.5,181.4 411.0,181.4 411.5,181.3 412.0,181.3 412.5,181.2 413.0,181.2 413.5,181.1 414.0,181.1 414.5,181.0 415.0,181.0 415.5,180.9 416.0,180.9 416.5,180.8 417.0,180.7 417.5,180.7 418.0,180.6 418.5,180.5 419.0,180.5 419.5,180.4 420.0,180.4 420.5,180.3 421.0,180.2 421.5,180.2 422.0,180.1 422.5,180.1 423.0,179.5 423.5,179.4 424.0,180.3 424.5,180.6 425.0,179.0 425.5,179.3 426.0,179.5 426.5,179.8 427.0,178.8 427.5,179.7 428.0,180.1 428.5,180.2 429.0,179.8 429.5,179.3 430.0,179.7 430.5,178.6 431.0,179.1 431.5,179.4 432.0,179.0 432.5,179.0 433.0,178.9 433.5,179.1 434.0,178.9 434.5,178.8 435.0,177.9 435.5,178.8 436.0,177.4 436.5,177.9 437.0,176.4 437.5,177.3 438.0,175.8 438.5,175.0 439.0,173.6 439.5,173.3 440.0,171.9 440.5,170.6 441.0,168.1 441.5,166.2 442.0,165.1 442.5,162.5 443.0,159.9 443.5,155.8 444.0,153.8 444.5,150.5 445.0,147.8 445.5,143.9 446.0,140.3 446.5,137.2 447.0,135.1 447.5,131.2 448.0,128.1 448.5,126.1 449.0,122.2 449.5,120.8 450.0,119.0 450.5,116.9 451.0,116.0 451.5,115.6 452.0,114.8 452.5,115.9 453.0,117.3 453.5,119.5 454.0,120.9 454.5,123.9 455.0,126.7 455.5,130.5 456.0,134.8 456.5,138.6 457.0,142.3 457.5,146.4 458.0,148.9 458.5,153.1 459.0,157.3 459.5,159.7 460.0,162.9 460.5,166.7 461.0,168.0 461.5,171.2 462.0,171.7 462.5,175.0 463.0,176.1 463.5,177.4 464.0,177.3 464.5,178.3 465.0,179.4 465.5,180.1 466.0,180.5 466.5,180.9 467.0,181.1 467.5,181.4 468.0,181.5 468.5,181.7 469.0,181.7 469.5,181.8 470.0,181.9 470.5,181.9 471.0,181.9 471.5,182.0 472.0,182.0 472.5,182.0 473.0,182.0 473.5,182.0 474.0,182.0 474.5,182.0 475.0,182.0 475.5,182.0 476.0,182.0 476.5,182.0 477.0,182.0 477.5,182.0 478.0,182.0 478.5,182.0 479.0,182.0 479.5,182.0 480.0,182.0 480.5,182.0 481.0,182.0 481.5,182.0 482.0,182.0 482.5,182.0 483.0,182.0 483.5,182.0 484.0,182.0 484.5,182.0 485.0,182.0 485.5,182.0 486.0,182.0 486.5,182.0 487.0,182.0 487.5,182.0 488.0,182.0 488.5,182.0 489.0,182.0 489.5,182.0 490.0,182.0 490.5,182.0 491.0,182.0 491.5,182.0 492.0,182.0 492.5,182.0 493.0,182.0 493.5,182.0 494.0,182.0 494.5,182.0 495.0,182.0 495.5,182.0 496.0,182.0 496.5,182.0 497.0,182.0 497.5,182.0 498.0,182.0 498.5,182.0 499.0,182.0 499.5,182.0 500.0,182.0 500.5,182.0 501.0,182.0 501.5,182.0 502.0,182.0 502.5,182.0 503.0,182.0 503.5,182.0 504.0,182.0 504.5,182.0 505.0,182.0 505.5,182.0 506.0,182.0 506.5,182.0 507.0,182.0 507.5,182.0 508.0,182.0 508.5,182.0 509.0,182.0 509.5,182.0 510.0,182.0 510.5,182.0 511.0,182.0 511.5,182.0 512.0,182.0 512.5,182.0 513.0,182.0 513.5,182.0 514.0,182.0 514.5,182.0 515.0,182.0 515.5,182.0 516.0,182.0 516.5,182.0 517.0,182.0" fill="none" stroke="#222" stroke-width="1.2" stroke-dasharray="1.5,1.5"/>
<polyline points="406.0,181.7 406.5,181.7 407.0,181.7 407.5,181.6 408.0,181.6 408.5,181.6 409.0,181.5 409.5,181.5 410.0,181.5 410.5,181.4 411.0,181.4 411.5,181.3 412.0,181.3 412.5,181.2 413.0,181.2 413.5,181.1 414.0,181.1 414.5,181.0 415.0,181.0 415.5,180.9 416.0,180.9 416.5,180.8 417.0,180.7 417.5,180.7 418.0,180.6 418.5,180.5 419.0,180.5 419.5,180.4 420.0,180.4 420.5,180.3 421.0,180.2 421.5,180.2 422.0,180.1 422.5,180.1 423.0,180.6 423.5,180.1 424.0,179.5 424.5,180.6 425.0,179.0 425.5,179.1 426.0,178.9 426.5,179.3 427.0,179.4 427.5,178.7 428.0,180.0 428.5,179.9 429.0,180.2 429.5,180.0 430.0,178.9 430.5,180.1 431.0,178.9 431.5,179.5 432.0,178.6 432.5,178.7 433.0,178.8 433.5,178.4 434.0,179.7 434.5,179.1 435.0,178.7 435.5,178.3 436.0,177.5 436.5,176.6 437.0,176.4 437.5,175.4 438.0,175.0 438.5,174.7 439.0,173.4 439.5,171.7 440.0,170.2 440.5,169.4 441.0,167.6 441.5,165.1 442.0,163.5 442.5,159.9 443.0,158.8 443.5,154.8 444.0,152.0 444.5,149.4 445.0,145.4 445.5,142.3 446.0,138.0 446.5,134.8 447.0,132.0 447.5,128.4 448.0,125.4 448.5,123.9 449.0,120.3 449.5,118.1 450.0,116.1 450.5,115.2 451.0,115.0 451.5,115.0 452.0,114.3 452.5,115.9 453.0,116.3 453.5,118.6 454.0,120.7 454.5,124.6 455.0,128.1 455.5,130.8 456.0,135.1 456.5,139.7 457.0,143.4 457.5,147.7 458.0,151.3 458.5,155.2 459.0,159.1 459.5,161.1 460.0,164.3 460.5,167.2 461.0,170.4 461.5,172.6 462.0,173.5 462.5,174.8 463.0,176.4 463.5,178.3 464.0,178.3 464.5,179.4 465.0,180.0 465.5,180.5 466.0,180.8 466.5,181.1 467.0,181.4 467.5,181.5 468.0,181.6 468.5,181.7 469.0,181.8 469.5,181.9 470.0,181.9 470.5,181.9 471.0,182.0 471.5,182.0 472.0,182.0 472.5,182.0 473.0,182.0 473.5,182.0 474.0,182.0 474.5,182.0 475.0,182.0 475.5,182.0 476.0,182.0 476.5,182.0 477.0,182.0 477.5,182.0 478.0,182.0 478.5,182.0 479.0,182.0 479.5,182.0 480.0,182.0 480.5,182.0 481.0,182.0 481.5,182.0 482.0,182.0 482.5,182.0 483.0,182.0 483.5,182.0 484.0,182.0 484.5,182.0 485.0,182.0 485.5,182.0 486.0,182.0 486.5,182.0 487.0,182.0 487.5,182.0 488.0,182.0 488.5,182.0 489.0,182.0 489.5,182.0 490.0,182.0 490.5,182.0 491.0,182.0 491.5,182.0 492.0,182.0 492.5,182.0 493.0,182.0 493.5,182.0 494.0,182.0 494.5,182.0 495.0,182.0 495.5,182.0 496.0,182.0 496.5,182.0 497.0,182.0 497.5,182.0 498.0,182.0 498.5,182.0 499.0,182.0 499.5,182.0 500.0,182.0 500.5,182.0 501.0,182.0 501.5,182.0 502.0,182.0 502.5,182.0 503.0,182.0 503.5,182.0 504.0,182.0 504.5,182.0 505.0,182.0 505.5,182.0 506.0,182.0 506.5,182.0 507.0,182.0 507.5,182.0 508.0,182.0 508.5,182.0 509.0,182.0 509.5,182.0 510.0,182.0 510.5,182.0 511.0,182.0 511.5,182.0 512.0,182.0 512.5,182.0 513.0,182.0 513.5,182.0 514.0,182.0 514.5,182.0 515.0,182.0 515.5,182.0 516.0,182.0 516.5,182.0 517.0,182.0" fill="none" stroke="#111" stroke-width="1.35" stroke-linejoin="round"/>
</g>
<rect x="73.5" y="109.5" width="444.4" height="73.0" fill="none" stroke="#7a7a7a" stroke-width="1.5"/>
<line x1="184.5" y1="109.5" x2="184.5" y2="182.5" stroke="#7a7a7a" stroke-width="1.5"/>
<line x1="295.5" y1="109.5" x2="295.5" y2="182.5" stroke="#7a7a7a" stroke-width="1.5"/>
<line x1="406.5" y1="109.5" x2="406.5" y2="182.5" stroke="#7a7a7a" stroke-width="1.5"/>
<g clip-path="url(#cA20)">
<path d="M73.0,265.0 L73.0,264.9 L73.5,264.9 L74.0,264.9 L74.5,264.9 L75.0,264.9 L75.5,264.8 L76.0,264.8 L76.5,264.7 L77.0,264.7 L77.5,264.6 L78.0,264.5 L78.5,264.4 L79.0,264.3 L79.5,264.1 L80.0,263.9 L80.5,263.7 L81.0,263.4 L81.5,263.1 L82.0,262.8 L82.5,262.3 L83.0,261.9 L83.5,261.2 L84.0,260.4 L84.5,259.5 L85.0,259.1 L85.5,257.8 L86.0,256.5 L86.5,255.3 L87.0,253.9 L87.5,252.1 L88.0,250.8 L88.5,248.3 L89.0,246.2 L89.5,243.8 L90.0,241.4 L90.5,238.4 L91.0,235.7 L91.5,232.4 L92.0,229.2 L92.5,225.4 L93.0,222.0 L93.5,218.6 L94.0,215.0 L94.5,211.7 L95.0,208.4 L95.5,205.6 L96.0,202.5 L96.5,200.4 L97.0,199.1 L97.5,199.9 L98.0,201.8 L98.5,205.7 L99.0,209.4 L99.5,213.9 L100.0,218.7 L100.5,223.2 L101.0,227.5 L101.5,232.0 L102.0,236.3 L102.5,239.8 L103.0,243.6 L103.5,246.4 L104.0,249.5 L104.5,252.2 L105.0,253.8 L105.5,256.2 L106.0,257.7 L106.5,258.8 L107.0,260.3 L107.5,261.0 L108.0,261.6 L108.5,262.4 L109.0,263.1 L109.5,263.4 L110.0,263.8 L110.5,264.0 L111.0,264.3 L111.5,264.4 L112.0,264.6 L112.5,264.7 L113.0,264.7 L113.5,264.8 L114.0,264.9 L114.5,264.9 L115.0,264.9 L115.5,264.9 L116.0,265.0 L116.5,265.0 L117.0,265.0 L117.5,265.0 L118.0,265.0 L118.5,265.0 L119.0,265.0 L119.5,265.0 L120.0,265.0 L120.5,265.0 L121.0,265.0 L121.5,265.0 L122.0,265.0 L122.5,265.0 L123.0,265.0 L123.5,265.0 L124.0,265.0 L124.5,265.0 L125.0,265.0 L125.5,265.0 L126.0,265.0 L126.5,265.0 L127.0,265.0 L127.5,265.0 L128.0,265.0 L128.5,265.0 L129.0,265.0 L129.5,265.0 L130.0,265.0 L130.5,265.0 L131.0,265.0 L131.5,265.0 L132.0,265.0 L132.5,265.0 L133.0,265.0 L133.5,265.0 L134.0,265.0 L134.5,265.0 L135.0,265.0 L135.5,265.0 L136.0,265.0 L136.5,265.0 L137.0,265.0 L137.5,265.0 L138.0,265.0 L138.5,265.0 L139.0,265.0 L139.5,265.0 L140.0,265.0 L140.5,265.0 L141.0,265.0 L141.5,265.0 L142.0,265.0 L142.5,265.0 L143.0,265.0 L143.5,265.0 L144.0,265.0 L144.5,265.0 L145.0,265.0 L145.5,265.0 L146.0,265.0 L146.5,265.0 L147.0,265.0 L147.5,265.0 L148.0,265.0 L148.5,265.0 L149.0,265.0 L149.5,265.0 L150.0,265.0 L150.5,265.0 L151.0,265.0 L151.5,265.0 L152.0,265.0 L152.5,265.0 L153.0,265.0 L153.5,265.0 L154.0,265.0 L154.5,265.0 L155.0,265.0 L155.5,265.0 L156.0,265.0 L156.5,265.0 L157.0,265.0 L157.5,265.0 L158.0,265.0 L158.5,265.0 L159.0,265.0 L159.5,265.0 L160.0,265.0 L160.5,265.0 L161.0,265.0 L161.5,265.0 L162.0,265.0 L162.5,265.0 L163.0,265.0 L163.5,265.0 L164.0,265.0 L164.5,265.0 L165.0,265.0 L165.5,265.0 L166.0,265.0 L166.5,265.0 L167.0,265.0 L167.5,265.0 L168.0,265.0 L168.5,265.0 L169.0,265.0 L169.5,265.0 L170.0,265.0 L170.5,265.0 L171.0,265.0 L171.5,265.0 L172.0,265.0 L172.5,265.0 L173.0,265.0 L173.5,265.0 L174.0,265.0 L174.5,265.0 L175.0,265.0 L175.5,265.0 L176.0,265.0 L176.5,265.0 L177.0,265.0 L177.5,265.0 L178.0,265.0 L178.5,265.0 L179.0,265.0 L179.5,265.0 L180.0,265.0 L180.5,265.0 L181.0,265.0 L181.5,265.0 L182.0,265.0 L182.5,265.0 L183.0,265.0 L183.5,265.0 L184.0,265.0 L184.0,265.0 Z" fill="#c3c3c3" stroke="none"/>
<polyline points="73.0,264.8 73.5,264.8 74.0,264.8 74.5,264.7 75.0,264.7 75.5,264.6 76.0,264.6 76.5,264.5 77.0,264.4 77.5,264.4 78.0,264.3 78.5,264.2 79.0,264.0 79.5,263.9 80.0,263.7 80.5,263.5 81.0,263.3 81.5,263.1 82.0,262.5 82.5,262.1 83.0,262.1 83.5,261.7 84.0,261.6 84.5,261.1 85.0,259.9 85.5,259.3 86.0,259.9 86.5,259.0 87.0,258.2 87.5,256.7 88.0,256.5 88.5,255.6 89.0,253.8 89.5,253.4 90.0,251.2 90.5,250.5 91.0,248.6 91.5,247.1 92.0,246.2 92.5,243.8 93.0,242.4 93.5,240.8 94.0,238.9 94.5,236.0 95.0,234.0 95.5,232.0 96.0,229.1 96.5,227.4 97.0,224.7 97.5,222.6 98.0,219.8 98.5,216.6 99.0,214.6 99.5,212.6 100.0,210.2 100.5,207.5 101.0,205.9 101.5,203.3 102.0,202.7 102.5,200.5 103.0,200.0 103.5,200.1 104.0,202.3 104.5,205.1 105.0,208.0 105.5,210.8 106.0,215.0 106.5,218.6 107.0,221.5 107.5,225.1 108.0,228.8 108.5,232.3 109.0,235.9 109.5,238.7 110.0,241.8 110.5,244.7 111.0,247.3 111.5,250.0 112.0,252.0 112.5,253.6 113.0,255.0 113.5,256.9 114.0,257.1 114.5,258.7 115.0,259.5 115.5,260.1 116.0,261.6 116.5,261.4 117.0,261.9 117.5,263.2 118.0,263.2 118.5,263.6 119.0,263.8 119.5,264.0 120.0,264.2 120.5,264.4 121.0,264.5 121.5,264.6 122.0,264.7 122.5,264.7 123.0,264.8 123.5,264.8 124.0,264.9 124.5,264.9 125.0,264.9 125.5,264.9 126.0,265.0 126.5,265.0 127.0,265.0 127.5,265.0 128.0,265.0 128.5,265.0 129.0,265.0 129.5,265.0 130.0,265.0 130.5,265.0 131.0,265.0 131.5,265.0 132.0,265.0 132.5,265.0 133.0,265.0 133.5,265.0 134.0,265.0 134.5,265.0 135.0,265.0 135.5,265.0 136.0,265.0 136.5,265.0 137.0,265.0 137.5,265.0 138.0,265.0 138.5,265.0 139.0,265.0 139.5,265.0 140.0,265.0 140.5,265.0 141.0,265.0 141.5,265.0 142.0,265.0 142.5,265.0 143.0,265.0 143.5,265.0 144.0,265.0 144.5,265.0 145.0,265.0 145.5,265.0 146.0,265.0 146.5,265.0 147.0,265.0 147.5,265.0 148.0,265.0 148.5,265.0 149.0,265.0 149.5,265.0 150.0,265.0 150.5,265.0 151.0,265.0 151.5,265.0 152.0,265.0 152.5,265.0 153.0,265.0 153.5,265.0 154.0,265.0 154.5,265.0 155.0,265.0 155.5,265.0 156.0,265.0 156.5,265.0 157.0,265.0 157.5,265.0 158.0,265.0 158.5,265.0 159.0,265.0 159.5,265.0 160.0,265.0 160.5,265.0 161.0,265.0 161.5,265.0 162.0,265.0 162.5,265.0 163.0,265.0 163.5,265.0 164.0,265.0 164.5,265.0 165.0,265.0 165.5,265.0 166.0,265.0 166.5,265.0 167.0,265.0 167.5,265.0 168.0,265.0 168.5,265.0 169.0,265.0 169.5,265.0 170.0,265.0 170.5,265.0 171.0,265.0 171.5,265.0 172.0,265.0 172.5,265.0 173.0,265.0 173.5,265.0 174.0,265.0 174.5,265.0 175.0,265.0 175.5,265.0 176.0,265.0 176.5,265.0 177.0,265.0 177.5,265.0 178.0,265.0 178.5,265.0 179.0,265.0 179.5,265.0 180.0,265.0 180.5,265.0 181.0,265.0 181.5,265.0 182.0,265.0 182.5,265.0 183.0,265.0 183.5,265.0 184.0,265.0" fill="none" stroke="#222" stroke-width="1.2" stroke-dasharray="1.5,1.5"/>
<polyline points="73.0,264.9 73.5,264.9 74.0,264.9 74.5,264.9 75.0,264.9 75.5,264.8 76.0,264.8 76.5,264.8 77.0,264.7 77.5,264.7 78.0,264.6 78.5,264.6 79.0,264.5 79.5,264.4 80.0,264.3 80.5,264.2 81.0,264.1 81.5,263.9 82.0,263.7 82.5,263.5 83.0,263.3 83.5,263.1 84.0,263.2 84.5,262.1 85.0,261.6 85.5,261.3 86.0,261.3 86.5,260.5 87.0,260.5 87.5,259.7 88.0,258.8 88.5,257.6 89.0,257.5 89.5,255.5 90.0,255.5 90.5,253.2 91.0,252.8 91.5,250.7 92.0,249.2 92.5,247.4 93.0,246.3 93.5,244.1 94.0,242.6 94.5,239.9 95.0,238.5 95.5,235.3 96.0,233.2 96.5,231.3 97.0,227.7 97.5,225.7 98.0,223.3 98.5,220.3 99.0,217.8 99.5,214.8 100.0,211.6 100.5,208.7 101.0,206.7 101.5,204.2 102.0,202.2 102.5,200.6 103.0,199.8 103.5,199.3 104.0,200.5 104.5,202.2 105.0,205.4 105.5,208.1 106.0,212.1 106.5,215.6 107.0,219.5 107.5,223.3 108.0,227.7 108.5,231.2 109.0,234.2 109.5,238.1 110.0,240.7 110.5,243.2 111.0,246.5 111.5,248.2 112.0,250.8 112.5,252.3 113.0,254.5 113.5,255.8 114.0,257.2 114.5,259.0 115.0,259.6 115.5,260.4 116.0,261.3 116.5,261.7 117.0,261.9 117.5,262.5 118.0,263.3 118.5,263.6 119.0,263.8 119.5,264.1 120.0,264.2 120.5,264.4 121.0,264.5 121.5,264.6 122.0,264.7 122.5,264.8 123.0,264.8 123.5,264.8 124.0,264.9 124.5,264.9 125.0,264.9 125.5,264.9 126.0,265.0 126.5,265.0 127.0,265.0 127.5,265.0 128.0,265.0 128.5,265.0 129.0,265.0 129.5,265.0 130.0,265.0 130.5,265.0 131.0,265.0 131.5,265.0 132.0,265.0 132.5,265.0 133.0,265.0 133.5,265.0 134.0,265.0 134.5,265.0 135.0,265.0 135.5,265.0 136.0,265.0 136.5,265.0 137.0,265.0 137.5,265.0 138.0,265.0 138.5,265.0 139.0,265.0 139.5,265.0 140.0,265.0 140.5,265.0 141.0,265.0 141.5,265.0 142.0,265.0 142.5,265.0 143.0,265.0 143.5,265.0 144.0,265.0 144.5,265.0 145.0,265.0 145.5,265.0 146.0,265.0 146.5,265.0 147.0,265.0 147.5,265.0 148.0,265.0 148.5,265.0 149.0,265.0 149.5,265.0 150.0,265.0 150.5,265.0 151.0,265.0 151.5,265.0 152.0,265.0 152.5,265.0 153.0,265.0 153.5,265.0 154.0,265.0 154.5,265.0 155.0,265.0 155.5,265.0 156.0,265.0 156.5,265.0 157.0,265.0 157.5,265.0 158.0,265.0 158.5,265.0 159.0,265.0 159.5,265.0 160.0,265.0 160.5,265.0 161.0,265.0 161.5,265.0 162.0,265.0 162.5,265.0 163.0,265.0 163.5,265.0 164.0,265.0 164.5,265.0 165.0,265.0 165.5,265.0 166.0,265.0 166.5,265.0 167.0,265.0 167.5,265.0 168.0,265.0 168.5,265.0 169.0,265.0 169.5,265.0 170.0,265.0 170.5,265.0 171.0,265.0 171.5,265.0 172.0,265.0 172.5,265.0 173.0,265.0 173.5,265.0 174.0,265.0 174.5,265.0 175.0,265.0 175.5,265.0 176.0,265.0 176.5,265.0 177.0,265.0 177.5,265.0 178.0,265.0 178.5,265.0 179.0,265.0 179.5,265.0 180.0,265.0 180.5,265.0 181.0,265.0 181.5,265.0 182.0,265.0 182.5,265.0 183.0,265.0 183.5,265.0 184.0,265.0" fill="none" stroke="#111" stroke-width="1.35" stroke-linejoin="round"/>
</g>
<g clip-path="url(#cA21)">
<path d="M184.0,265.0 L184.0,264.9 L184.5,264.9 L185.0,264.9 L185.5,264.9 L186.0,264.8 L186.5,264.8 L187.0,264.8 L187.5,264.7 L188.0,264.6 L188.5,264.6 L189.0,264.5 L189.5,264.3 L190.0,264.2 L190.5,264.0 L191.0,263.8 L191.5,263.6 L192.0,263.3 L192.5,262.7 L193.0,262.7 L193.5,261.9 L194.0,261.4 L194.5,260.6 L195.0,260.4 L195.5,259.5 L196.0,258.0 L196.5,257.3 L197.0,255.8 L197.5,254.5 L198.0,253.1 L198.5,251.3 L199.0,249.3 L199.5,246.9 L200.0,244.9 L200.5,242.2 L201.0,239.8 L201.5,236.6 L202.0,233.6 L202.5,230.3 L203.0,226.8 L203.5,223.8 L204.0,219.8 L204.5,216.4 L205.0,213.2 L205.5,209.7 L206.0,206.8 L206.5,203.9 L207.0,201.2 L207.5,199.5 L208.0,198.9 L208.5,201.1 L209.0,204.2 L209.5,207.9 L210.0,212.1 L210.5,216.5 L211.0,221.4 L211.5,225.7 L212.0,230.3 L212.5,234.7 L213.0,238.3 L213.5,242.4 L214.0,245.4 L214.5,248.6 L215.0,251.3 L215.5,253.3 L216.0,255.3 L216.5,256.9 L217.0,258.5 L217.5,259.4 L218.0,260.5 L218.5,261.7 L219.0,262.5 L219.5,262.5 L220.0,263.3 L220.5,263.6 L221.0,263.9 L221.5,264.2 L222.0,264.4 L222.5,264.5 L223.0,264.6 L223.5,264.7 L224.0,264.8 L224.5,264.8 L225.0,264.9 L225.5,264.9 L226.0,264.9 L226.5,265.0 L227.0,265.0 L227.5,265.0 L228.0,265.0 L228.5,265.0 L229.0,265.0 L229.5,265.0 L230.0,265.0 L230.5,265.0 L231.0,265.0 L231.5,265.0 L232.0,265.0 L232.5,265.0 L233.0,265.0 L233.5,265.0 L234.0,265.0 L234.5,265.0 L235.0,265.0 L235.5,265.0 L236.0,265.0 L236.5,265.0 L237.0,265.0 L237.5,265.0 L238.0,265.0 L238.5,265.0 L239.0,265.0 L239.5,265.0 L240.0,265.0 L240.5,265.0 L241.0,265.0 L241.5,265.0 L242.0,265.0 L242.5,265.0 L243.0,265.0 L243.5,265.0 L244.0,265.0 L244.5,265.0 L245.0,265.0 L245.5,265.0 L246.0,265.0 L246.5,265.0 L247.0,265.0 L247.5,265.0 L248.0,265.0 L248.5,265.0 L249.0,265.0 L249.5,265.0 L250.0,265.0 L250.5,265.0 L251.0,265.0 L251.5,265.0 L252.0,265.0 L252.5,265.0 L253.0,265.0 L253.5,265.0 L254.0,265.0 L254.5,265.0 L255.0,265.0 L255.5,265.0 L256.0,265.0 L256.5,265.0 L257.0,265.0 L257.5,265.0 L258.0,265.0 L258.5,265.0 L259.0,265.0 L259.5,265.0 L260.0,265.0 L260.5,265.0 L261.0,265.0 L261.5,265.0 L262.0,265.0 L262.5,265.0 L263.0,265.0 L263.5,265.0 L264.0,265.0 L264.5,265.0 L265.0,265.0 L265.5,265.0 L266.0,265.0 L266.5,265.0 L267.0,265.0 L267.5,265.0 L268.0,265.0 L268.5,265.0 L269.0,265.0 L269.5,265.0 L270.0,265.0 L270.5,265.0 L271.0,265.0 L271.5,265.0 L272.0,265.0 L272.5,265.0 L273.0,265.0 L273.5,265.0 L274.0,265.0 L274.5,265.0 L275.0,265.0 L275.5,265.0 L276.0,265.0 L276.5,265.0 L277.0,265.0 L277.5,265.0 L278.0,265.0 L278.5,265.0 L279.0,265.0 L279.5,265.0 L280.0,265.0 L280.5,265.0 L281.0,265.0 L281.5,265.0 L282.0,265.0 L282.5,265.0 L283.0,265.0 L283.5,265.0 L284.0,265.0 L284.5,265.0 L285.0,265.0 L285.5,265.0 L286.0,265.0 L286.5,265.0 L287.0,265.0 L287.5,265.0 L288.0,265.0 L288.5,265.0 L289.0,265.0 L289.5,265.0 L290.0,265.0 L290.5,265.0 L291.0,265.0 L291.5,265.0 L292.0,265.0 L292.5,265.0 L293.0,265.0 L293.5,265.0 L294.0,265.0 L294.5,265.0 L295.0,265.0 L295.0,265.0 Z" fill="#c3c3c3" stroke="none"/>
<polyline points="184.0,264.8 184.5,264.8 185.0,264.7 185.5,264.7 186.0,264.6 186.5,264.6 187.0,264.5 187.5,264.4 188.0,264.3 188.5,264.2 189.0,264.1 189.5,264.0 190.0,263.9 190.5,263.7 191.0,263.6 191.5,263.4 192.0,263.2 192.5,263.0 193.0,263.1 193.5,262.7 194.0,261.8 194.5,262.0 195.0,261.4 195.5,260.6 196.0,260.5 196.5,259.6 197.0,258.7 197.5,258.2 198.0,257.7 198.5,256.9 199.0,256.5 199.5,255.2 200.0,254.2 200.5,253.2 201.0,252.2 201.5,250.7 202.0,250.0 202.5,248.0 203.0,246.2 203.5,245.8 204.0,243.9 204.5,241.3 205.0,240.5 205.5,237.7 206.0,236.0 206.5,234.6 207.0,231.7 207.5,230.3 208.0,227.0 208.5,225.3 209.0,222.3 209.5,219.9 210.0,218.5 210.5,215.8 211.0,213.8 211.5,210.9 212.0,209.5 212.5,207.5 213.0,205.6 213.5,203.0 214.0,202.3 214.5,201.1 215.0,200.2 215.5,200.3 216.0,202.1 216.5,203.6 217.0,207.0 217.5,209.9 218.0,212.7 218.5,216.9 219.0,220.4 219.5,223.1 220.0,227.2 220.5,229.8 221.0,233.1 221.5,236.7 222.0,239.7 222.5,242.7 223.0,244.3 223.5,247.1 224.0,249.3 224.5,251.5 225.0,253.2 225.5,254.0 226.0,256.3 226.5,257.0 227.0,258.0 227.5,259.2 228.0,260.0 228.5,260.9 229.0,261.8 229.5,261.6 230.0,262.0 230.5,262.8 231.0,263.2 231.5,263.5 232.0,263.8 232.5,264.0 233.0,264.2 233.5,264.3 234.0,264.4 234.5,264.5 235.0,264.6 235.5,264.7 236.0,264.8 236.5,264.8 237.0,264.8 237.5,264.9 238.0,264.9 238.5,264.9 239.0,264.9 239.5,265.0 240.0,265.0 240.5,265.0 241.0,265.0 241.5,265.0 242.0,265.0 242.5,265.0 243.0,265.0 243.5,265.0 244.0,265.0 244.5,265.0 245.0,265.0 245.5,265.0 246.0,265.0 246.5,265.0 247.0,265.0 247.5,265.0 248.0,265.0 248.5,265.0 249.0,265.0 249.5,265.0 250.0,265.0 250.5,265.0 251.0,265.0 251.5,265.0 252.0,265.0 252.5,265.0 253.0,265.0 253.5,265.0 254.0,265.0 254.5,265.0 255.0,265.0 255.5,265.0 256.0,265.0 256.5,265.0 257.0,265.0 257.5,265.0 258.0,265.0 258.5,265.0 259.0,265.0 259.5,265.0 260.0,265.0 260.5,265.0 261.0,265.0 261.5,265.0 262.0,265.0 262.5,265.0 263.0,265.0 263.5,265.0 264.0,265.0 264.5,265.0 265.0,265.0 265.5,265.0 266.0,265.0 266.5,265.0 267.0,265.0 267.5,265.0 268.0,265.0 268.5,265.0 269.0,265.0 269.5,265.0 270.0,265.0 270.5,265.0 271.0,265.0 271.5,265.0 272.0,265.0 272.5,265.0 273.0,265.0 273.5,265.0 274.0,265.0 274.5,265.0 275.0,265.0 275.5,265.0 276.0,265.0 276.5,265.0 277.0,265.0 277.5,265.0 278.0,265.0 278.5,265.0 279.0,265.0 279.5,265.0 280.0,265.0 280.5,265.0 281.0,265.0 281.5,265.0 282.0,265.0 282.5,265.0 283.0,265.0 283.5,265.0 284.0,265.0 284.5,265.0 285.0,265.0 285.5,265.0 286.0,265.0 286.5,265.0 287.0,265.0 287.5,265.0 288.0,265.0 288.5,265.0 289.0,265.0 289.5,265.0 290.0,265.0 290.5,265.0 291.0,265.0 291.5,265.0 292.0,265.0 292.5,265.0 293.0,265.0 293.5,265.0 294.0,265.0 294.5,265.0 295.0,265.0" fill="none" stroke="#222" stroke-width="1.2" stroke-dasharray="1.5,1.5"/>
<polyline points="184.0,264.9 184.5,264.9 185.0,264.9 185.5,264.9 186.0,264.9 186.5,264.8 187.0,264.8 187.5,264.8 188.0,264.7 188.5,264.7 189.0,264.6 189.5,264.6 190.0,264.5 190.5,264.4 191.0,264.3 191.5,264.2 192.0,264.1 192.5,264.0 193.0,263.8 193.5,263.6 194.0,263.4 194.5,263.2 195.0,263.2 195.5,262.2 196.0,262.7 196.5,262.4 197.0,261.4 197.5,260.7 198.0,260.5 198.5,260.5 199.0,258.8 199.5,259.1 200.0,258.1 200.5,256.5 201.0,255.8 201.5,254.9 202.0,254.6 202.5,252.5 203.0,251.7 203.5,250.8 204.0,248.4 204.5,246.6 205.0,246.0 205.5,243.7 206.0,241.2 206.5,239.8 207.0,237.7 207.5,234.9 208.0,233.0 208.5,229.9 209.0,227.6 209.5,225.1 210.0,222.6 210.5,220.6 211.0,217.4 211.5,214.9 212.0,212.5 212.5,209.9 213.0,207.9 213.5,205.8 214.0,202.9 214.5,201.8 215.0,200.7 215.5,198.7 216.0,199.2 216.5,200.5 217.0,203.2 217.5,206.2 218.0,209.2 218.5,212.1 219.0,216.4 219.5,219.3 220.0,223.7 220.5,226.7 221.0,231.0 221.5,234.1 222.0,237.7 222.5,240.6 223.0,243.0 223.5,245.8 224.0,247.9 224.5,250.4 225.0,252.3 225.5,254.0 226.0,254.8 226.5,257.2 227.0,258.0 227.5,258.5 228.0,259.8 228.5,261.0 229.0,260.8 229.5,262.4 230.0,262.9 230.5,263.5 231.0,263.3 231.5,263.6 232.0,263.8 232.5,264.0 233.0,264.2 233.5,264.4 234.0,264.5 234.5,264.6 235.0,264.7 235.5,264.7 236.0,264.8 236.5,264.8 237.0,264.9 237.5,264.9 238.0,264.9 238.5,264.9 239.0,264.9 239.5,265.0 240.0,265.0 240.5,265.0 241.0,265.0 241.5,265.0 242.0,265.0 242.5,265.0 243.0,265.0 243.5,265.0 244.0,265.0 244.5,265.0 245.0,265.0 245.5,265.0 246.0,265.0 246.5,265.0 247.0,265.0 247.5,265.0 248.0,265.0 248.5,265.0 249.0,265.0 249.5,265.0 250.0,265.0 250.5,265.0 251.0,265.0 251.5,265.0 252.0,265.0 252.5,265.0 253.0,265.0 253.5,265.0 254.0,265.0 254.5,265.0 255.0,265.0 255.5,265.0 256.0,265.0 256.5,265.0 257.0,265.0 257.5,265.0 258.0,265.0 258.5,265.0 259.0,265.0 259.5,265.0 260.0,265.0 260.5,265.0 261.0,265.0 261.5,265.0 262.0,265.0 262.5,265.0 263.0,265.0 263.5,265.0 264.0,265.0 264.5,265.0 265.0,265.0 265.5,265.0 266.0,265.0 266.5,265.0 267.0,265.0 267.5,265.0 268.0,265.0 268.5,265.0 269.0,265.0 269.5,265.0 270.0,265.0 270.5,265.0 271.0,265.0 271.5,265.0 272.0,265.0 272.5,265.0 273.0,265.0 273.5,265.0 274.0,265.0 274.5,265.0 275.0,265.0 275.5,265.0 276.0,265.0 276.5,265.0 277.0,265.0 277.5,265.0 278.0,265.0 278.5,265.0 279.0,265.0 279.5,265.0 280.0,265.0 280.5,265.0 281.0,265.0 281.5,265.0 282.0,265.0 282.5,265.0 283.0,265.0 283.5,265.0 284.0,265.0 284.5,265.0 285.0,265.0 285.5,265.0 286.0,265.0 286.5,265.0 287.0,265.0 287.5,265.0 288.0,265.0 288.5,265.0 289.0,265.0 289.5,265.0 290.0,265.0 290.5,265.0 291.0,265.0 291.5,265.0 292.0,265.0 292.5,265.0 293.0,265.0 293.5,265.0 294.0,265.0 294.5,265.0 295.0,265.0" fill="none" stroke="#111" stroke-width="1.35" stroke-linejoin="round"/>
</g>
<g clip-path="url(#cA22)">
<path d="M295.0,265.0 L295.0,265.0 L295.5,265.0 L296.0,264.9 L296.5,264.9 L297.0,264.9 L297.5,264.9 L298.0,264.9 L298.5,264.8 L299.0,264.8 L299.5,264.7 L300.0,264.7 L300.5,264.6 L301.0,264.5 L301.5,264.4 L302.0,264.2 L302.5,264.0 L303.0,263.8 L303.5,263.6 L304.0,263.3 L304.5,263.0 L305.0,262.4 L305.5,262.3 L306.0,261.7 L306.5,260.8 L307.0,260.5 L307.5,259.7 L308.0,258.4 L308.5,257.7 L309.0,256.2 L309.5,255.1 L310.0,253.3 L310.5,251.4 L311.0,249.8 L311.5,247.8 L312.0,245.3 L312.5,242.8 L313.0,240.5 L313.5,237.5 L314.0,234.4 L314.5,231.1 L315.0,227.9 L315.5,224.2 L316.0,220.9 L316.5,217.0 L317.0,213.8 L317.5,210.5 L318.0,207.4 L318.5,204.5 L319.0,202.0 L319.5,199.7 L320.0,199.1 L320.5,200.5 L321.0,203.0 L321.5,206.7 L322.0,211.0 L322.5,215.9 L323.0,220.4 L323.5,225.0 L324.0,229.6 L324.5,233.8 L325.0,237.9 L325.5,241.6 L326.0,244.7 L326.5,247.8 L327.0,250.5 L327.5,252.9 L328.0,254.8 L328.5,256.5 L329.0,258.4 L329.5,259.2 L330.0,260.5 L330.5,261.5 L331.0,261.8 L331.5,262.5 L332.0,263.2 L332.5,263.6 L333.0,263.9 L333.5,264.1 L334.0,264.3 L334.5,264.5 L335.0,264.6 L335.5,264.7 L336.0,264.8 L336.5,264.8 L337.0,264.9 L337.5,264.9 L338.0,264.9 L338.5,264.9 L339.0,265.0 L339.5,265.0 L340.0,265.0 L340.5,265.0 L341.0,265.0 L341.5,265.0 L342.0,265.0 L342.5,265.0 L343.0,265.0 L343.5,265.0 L344.0,265.0 L344.5,265.0 L345.0,265.0 L345.5,265.0 L346.0,265.0 L346.5,265.0 L347.0,265.0 L347.5,265.0 L348.0,265.0 L348.5,265.0 L349.0,265.0 L349.5,265.0 L350.0,265.0 L350.5,265.0 L351.0,265.0 L351.5,265.0 L352.0,265.0 L352.5,265.0 L353.0,265.0 L353.5,265.0 L354.0,265.0 L354.5,265.0 L355.0,265.0 L355.5,265.0 L356.0,265.0 L356.5,265.0 L357.0,265.0 L357.5,265.0 L358.0,265.0 L358.5,265.0 L359.0,265.0 L359.5,265.0 L360.0,265.0 L360.5,265.0 L361.0,265.0 L361.5,265.0 L362.0,265.0 L362.5,265.0 L363.0,265.0 L363.5,265.0 L364.0,265.0 L364.5,265.0 L365.0,265.0 L365.5,265.0 L366.0,265.0 L366.5,265.0 L367.0,265.0 L367.5,265.0 L368.0,265.0 L368.5,265.0 L369.0,265.0 L369.5,265.0 L370.0,265.0 L370.5,265.0 L371.0,265.0 L371.5,265.0 L372.0,265.0 L372.5,265.0 L373.0,265.0 L373.5,265.0 L374.0,265.0 L374.5,265.0 L375.0,265.0 L375.5,265.0 L376.0,265.0 L376.5,265.0 L377.0,265.0 L377.5,265.0 L378.0,265.0 L378.5,265.0 L379.0,265.0 L379.5,265.0 L380.0,265.0 L380.5,265.0 L381.0,265.0 L381.5,265.0 L382.0,265.0 L382.5,265.0 L383.0,265.0 L383.5,265.0 L384.0,265.0 L384.5,265.0 L385.0,265.0 L385.5,265.0 L386.0,265.0 L386.5,265.0 L387.0,265.0 L387.5,265.0 L388.0,265.0 L388.5,265.0 L389.0,265.0 L389.5,265.0 L390.0,265.0 L390.5,265.0 L391.0,265.0 L391.5,265.0 L392.0,265.0 L392.5,265.0 L393.0,265.0 L393.5,265.0 L394.0,265.0 L394.5,265.0 L395.0,265.0 L395.5,265.0 L396.0,265.0 L396.5,265.0 L397.0,265.0 L397.5,265.0 L398.0,265.0 L398.5,265.0 L399.0,265.0 L399.5,265.0 L400.0,265.0 L400.5,265.0 L401.0,265.0 L401.5,265.0 L402.0,265.0 L402.5,265.0 L403.0,265.0 L403.5,265.0 L404.0,265.0 L404.5,265.0 L405.0,265.0 L405.5,265.0 L406.0,265.0 L406.0,265.0 Z" fill="#c3c3c3" stroke="none"/>
<polyline points="295.0,264.9 295.5,264.9 296.0,264.9 296.5,264.8 297.0,264.8 297.5,264.8 298.0,264.7 298.5,264.7 299.0,264.6 299.5,264.6 300.0,264.5 300.5,264.4 301.0,264.3 301.5,264.2 302.0,264.1 302.5,264.0 303.0,263.8 303.5,263.6 304.0,263.4 304.5,263.2 305.0,263.1 305.5,263.2 306.0,262.4 306.5,262.1 307.0,261.8 307.5,261.7 308.0,260.6 308.5,260.4 309.0,259.2 309.5,258.9 310.0,258.4 310.5,257.0 311.0,256.6 311.5,256.1 312.0,254.9 312.5,254.1 313.0,252.5 313.5,250.6 314.0,249.3 314.5,248.2 315.0,247.3 315.5,245.5 316.0,243.9 316.5,241.9 317.0,239.7 317.5,238.5 318.0,235.9 318.5,233.8 319.0,231.4 319.5,229.0 320.0,227.2 320.5,224.7 321.0,222.8 321.5,220.2 322.0,217.7 322.5,216.2 323.0,213.4 323.5,211.3 324.0,209.7 324.5,207.8 325.0,205.4 325.5,204.4 326.0,203.3 326.5,202.2 327.0,201.2 327.5,201.2 328.0,202.1 328.5,203.7 329.0,205.9 329.5,208.1 330.0,210.9 330.5,214.6 331.0,217.3 331.5,221.0 332.0,223.6 332.5,227.0 333.0,231.3 333.5,233.8 334.0,237.3 334.5,240.4 335.0,242.3 335.5,244.7 336.0,247.2 336.5,249.6 337.0,251.1 337.5,253.4 338.0,254.8 338.5,256.2 339.0,257.2 339.5,258.3 340.0,259.9 340.5,260.9 341.0,261.2 341.5,261.8 342.0,262.6 342.5,262.4 343.0,263.2 343.5,263.5 344.0,263.8 344.5,264.0 345.0,264.2 345.5,264.4 346.0,264.5 346.5,264.6 347.0,264.7 347.5,264.7 348.0,264.8 348.5,264.8 349.0,264.9 349.5,264.9 350.0,264.9 350.5,264.9 351.0,265.0 351.5,265.0 352.0,265.0 352.5,265.0 353.0,265.0 353.5,265.0 354.0,265.0 354.5,265.0 355.0,265.0 355.5,265.0 356.0,265.0 356.5,265.0 357.0,265.0 357.5,265.0 358.0,265.0 358.5,265.0 359.0,265.0 359.5,265.0 360.0,265.0 360.5,265.0 361.0,265.0 361.5,265.0 362.0,265.0 362.5,265.0 363.0,265.0 363.5,265.0 364.0,265.0 364.5,265.0 365.0,265.0 365.5,265.0 366.0,265.0 366.5,265.0 367.0,265.0 367.5,265.0 368.0,265.0 368.5,265.0 369.0,265.0 369.5,265.0 370.0,265.0 370.5,265.0 371.0,265.0 371.5,265.0 372.0,265.0 372.5,265.0 373.0,265.0 373.5,265.0 374.0,265.0 374.5,265.0 375.0,265.0 375.5,265.0 376.0,265.0 376.5,265.0 377.0,265.0 377.5,265.0 378.0,265.0 378.5,265.0 379.0,265.0 379.5,265.0 380.0,265.0 380.5,265.0 381.0,265.0 381.5,265.0 382.0,265.0 382.5,265.0 383.0,265.0 383.5,265.0 384.0,265.0 384.5,265.0 385.0,265.0 385.5,265.0 386.0,265.0 386.5,265.0 387.0,265.0 387.5,265.0 388.0,265.0 388.5,265.0 389.0,265.0 389.5,265.0 390.0,265.0 390.5,265.0 391.0,265.0 391.5,265.0 392.0,265.0 392.5,265.0 393.0,265.0 393.5,265.0 394.0,265.0 394.5,265.0 395.0,265.0 395.5,265.0 396.0,265.0 396.5,265.0 397.0,265.0 397.5,265.0 398.0,265.0 398.5,265.0 399.0,265.0 399.5,265.0 400.0,265.0 400.5,265.0 401.0,265.0 401.5,265.0 402.0,265.0 402.5,265.0 403.0,265.0 403.5,265.0 404.0,265.0 404.5,265.0 405.0,265.0 405.5,265.0 406.0,265.0" fill="none" stroke="#222" stroke-width="1.2" stroke-dasharray="1.5,1.5"/>
<polyline points="295.0,265.0 295.5,264.9 296.0,264.9 296.5,264.9 297.0,264.9 297.5,264.9 298.0,264.9 298.5,264.8 299.0,264.8 299.5,264.8 300.0,264.7 300.5,264.7 301.0,264.6 301.5,264.6 302.0,264.5 302.5,264.4 303.0,264.3 303.5,264.2 304.0,264.1 304.5,263.9 305.0,263.8 305.5,263.6 306.0,263.4 306.5,263.1 307.0,262.4 307.5,262.3 308.0,262.1 308.5,261.5 309.0,261.7 309.5,260.4 310.0,260.7 310.5,259.1 311.0,258.8 311.5,258.5 312.0,257.7 312.5,256.3 313.0,255.5 313.5,254.1 314.0,253.7 314.5,251.5 315.0,250.6 315.5,249.2 316.0,247.2 316.5,245.7 317.0,244.1 317.5,242.4 318.0,240.2 318.5,238.7 319.0,236.2 319.5,233.3 320.0,231.8 320.5,229.5 321.0,226.1 321.5,224.2 322.0,221.6 322.5,219.0 323.0,216.4 323.5,214.5 324.0,211.6 324.5,210.3 325.0,207.2 325.5,205.9 326.0,203.8 326.5,202.7 327.0,200.9 327.5,200.5 328.0,199.9 328.5,200.9 329.0,201.8 329.5,204.0 330.0,207.3 330.5,209.6 331.0,212.6 331.5,216.8 332.0,220.3 332.5,223.0 333.0,226.4 333.5,230.8 334.0,233.4 334.5,236.3 335.0,240.1 335.5,242.3 336.0,245.5 336.5,247.3 337.0,249.8 337.5,251.9 338.0,254.1 338.5,255.0 339.0,256.4 339.5,258.1 340.0,259.5 340.5,260.4 341.0,261.0 341.5,260.8 342.0,261.7 342.5,262.1 343.0,262.7 343.5,263.3 344.0,263.6 344.5,263.9 345.0,264.1 345.5,264.3 346.0,264.4 346.5,264.5 347.0,264.6 347.5,264.7 348.0,264.8 348.5,264.8 349.0,264.9 349.5,264.9 350.0,264.9 350.5,264.9 351.0,265.0 351.5,265.0 352.0,265.0 352.5,265.0 353.0,265.0 353.5,265.0 354.0,265.0 354.5,265.0 355.0,265.0 355.5,265.0 356.0,265.0 356.5,265.0 357.0,265.0 357.5,265.0 358.0,265.0 358.5,265.0 359.0,265.0 359.5,265.0 360.0,265.0 360.5,265.0 361.0,265.0 361.5,265.0 362.0,265.0 362.5,265.0 363.0,265.0 363.5,265.0 364.0,265.0 364.5,265.0 365.0,265.0 365.5,265.0 366.0,265.0 366.5,265.0 367.0,265.0 367.5,265.0 368.0,265.0 368.5,265.0 369.0,265.0 369.5,265.0 370.0,265.0 370.5,265.0 371.0,265.0 371.5,265.0 372.0,265.0 372.5,265.0 373.0,265.0 373.5,265.0 374.0,265.0 374.5,265.0 375.0,265.0 375.5,265.0 376.0,265.0 376.5,265.0 377.0,265.0 377.5,265.0 378.0,265.0 378.5,265.0 379.0,265.0 379.5,265.0 380.0,265.0 380.5,265.0 381.0,265.0 381.5,265.0 382.0,265.0 382.5,265.0 383.0,265.0 383.5,265.0 384.0,265.0 384.5,265.0 385.0,265.0 385.5,265.0 386.0,265.0 386.5,265.0 387.0,265.0 387.5,265.0 388.0,265.0 388.5,265.0 389.0,265.0 389.5,265.0 390.0,265.0 390.5,265.0 391.0,265.0 391.5,265.0 392.0,265.0 392.5,265.0 393.0,265.0 393.5,265.0 394.0,265.0 394.5,265.0 395.0,265.0 395.5,265.0 396.0,265.0 396.5,265.0 397.0,265.0 397.5,265.0 398.0,265.0 398.5,265.0 399.0,265.0 399.5,265.0 400.0,265.0 400.5,265.0 401.0,265.0 401.5,265.0 402.0,265.0 402.5,265.0 403.0,265.0 403.5,265.0 404.0,265.0 404.5,265.0 405.0,265.0 405.5,265.0 406.0,265.0" fill="none" stroke="#111" stroke-width="1.35" stroke-linejoin="round"/>
</g>
<g clip-path="url(#cA23)">
<path d="M406.0,265.0 L406.0,265.0 L406.5,265.0 L407.0,265.0 L407.5,265.0 L408.0,265.0 L408.5,265.0 L409.0,264.9 L409.5,264.9 L410.0,264.9 L410.5,264.9 L411.0,264.9 L411.5,264.8 L412.0,264.8 L412.5,264.7 L413.0,264.7 L413.5,264.6 L414.0,264.5 L414.5,264.4 L415.0,264.2 L415.5,264.0 L416.0,263.8 L416.5,263.6 L417.0,263.3 L417.5,263.1 L418.0,262.5 L418.5,261.7 L419.0,261.2 L419.5,260.4 L420.0,259.7 L420.5,258.8 L421.0,257.7 L421.5,256.4 L422.0,255.4 L422.5,254.1 L423.0,252.1 L423.5,250.4 L424.0,248.1 L424.5,245.5 L425.0,243.2 L425.5,240.4 L426.0,237.5 L426.5,234.1 L427.0,230.6 L427.5,227.1 L428.0,223.2 L428.5,220.1 L429.0,216.3 L429.5,212.8 L430.0,208.8 L430.5,205.7 L431.0,202.9 L431.5,200.5 L432.0,199.5 L432.5,199.4 L433.0,202.0 L433.5,205.1 L434.0,209.1 L434.5,213.1 L435.0,217.9 L435.5,222.4 L436.0,226.9 L436.5,230.9 L437.0,235.1 L437.5,239.1 L438.0,242.5 L438.5,245.6 L439.0,248.5 L439.5,250.9 L440.0,253.0 L440.5,255.1 L441.0,256.7 L441.5,258.4 L442.0,259.3 L442.5,260.2 L443.0,261.3 L443.5,262.4 L444.0,262.9 L444.5,263.1 L445.0,263.5 L445.5,263.8 L446.0,264.1 L446.5,264.3 L447.0,264.5 L447.5,264.6 L448.0,264.7 L448.5,264.8 L449.0,264.8 L449.5,264.9 L450.0,264.9 L450.5,264.9 L451.0,264.9 L451.5,265.0 L452.0,265.0 L452.5,265.0 L453.0,265.0 L453.5,265.0 L454.0,265.0 L454.5,265.0 L455.0,265.0 L455.5,265.0 L456.0,265.0 L456.5,265.0 L457.0,265.0 L457.5,265.0 L458.0,265.0 L458.5,265.0 L459.0,265.0 L459.5,265.0 L460.0,265.0 L460.5,265.0 L461.0,265.0 L461.5,265.0 L462.0,265.0 L462.5,265.0 L463.0,265.0 L463.5,265.0 L464.0,265.0 L464.5,265.0 L465.0,265.0 L465.5,265.0 L466.0,265.0 L466.5,265.0 L467.0,265.0 L467.5,265.0 L468.0,265.0 L468.5,265.0 L469.0,265.0 L469.5,265.0 L470.0,265.0 L470.5,265.0 L471.0,265.0 L471.5,265.0 L472.0,265.0 L472.5,265.0 L473.0,265.0 L473.5,265.0 L474.0,265.0 L474.5,265.0 L475.0,265.0 L475.5,265.0 L476.0,265.0 L476.5,265.0 L477.0,265.0 L477.5,265.0 L478.0,265.0 L478.5,265.0 L479.0,265.0 L479.5,265.0 L480.0,265.0 L480.5,265.0 L481.0,265.0 L481.5,265.0 L482.0,265.0 L482.5,265.0 L483.0,265.0 L483.5,265.0 L484.0,265.0 L484.5,265.0 L485.0,265.0 L485.5,265.0 L486.0,265.0 L486.5,265.0 L487.0,265.0 L487.5,265.0 L488.0,265.0 L488.5,265.0 L489.0,265.0 L489.5,265.0 L490.0,265.0 L490.5,265.0 L491.0,265.0 L491.5,265.0 L492.0,265.0 L492.5,265.0 L493.0,265.0 L493.5,265.0 L494.0,265.0 L494.5,265.0 L495.0,265.0 L495.5,265.0 L496.0,265.0 L496.5,265.0 L497.0,265.0 L497.5,265.0 L498.0,265.0 L498.5,265.0 L499.0,265.0 L499.5,265.0 L500.0,265.0 L500.5,265.0 L501.0,265.0 L501.5,265.0 L502.0,265.0 L502.5,265.0 L503.0,265.0 L503.5,265.0 L504.0,265.0 L504.5,265.0 L505.0,265.0 L505.5,265.0 L506.0,265.0 L506.5,265.0 L507.0,265.0 L507.5,265.0 L508.0,265.0 L508.5,265.0 L509.0,265.0 L509.5,265.0 L510.0,265.0 L510.5,265.0 L511.0,265.0 L511.5,265.0 L512.0,265.0 L512.5,265.0 L513.0,265.0 L513.5,265.0 L514.0,265.0 L514.5,265.0 L515.0,265.0 L515.5,265.0 L516.0,265.0 L516.5,265.0 L517.0,265.0 L517.0,265.0 Z" fill="#c3c3c3" stroke="none"/>
<polyline points="406.0,265.0 406.5,265.0 407.0,265.0 407.5,265.0 408.0,265.0 408.5,265.0 409.0,265.0 409.5,265.0 410.0,265.0 410.5,265.0 411.0,265.0 411.5,265.0 412.0,264.9 412.5,264.9 413.0,264.9 413.5,264.9 414.0,264.8 414.5,264.8 415.0,264.7 415.5,264.7 416.0,264.6 416.5,264.5 417.0,264.4 417.5,264.2 418.0,264.0 418.5,263.8 419.0,263.6 419.5,263.3 420.0,262.6 420.5,262.1 421.0,261.8 421.5,261.5 422.0,260.8 422.5,260.6 423.0,259.3 423.5,257.9 424.0,257.8 424.5,256.2 425.0,254.7 425.5,253.6 426.0,252.5 426.5,251.0 427.0,248.7 427.5,246.7 428.0,244.8 428.5,243.3 429.0,240.7 429.5,238.4 430.0,236.6 430.5,233.8 431.0,231.8 431.5,229.6 432.0,227.4 432.5,224.1 433.0,221.7 433.5,220.2 434.0,217.9 434.5,215.4 435.0,213.5 435.5,211.0 436.0,209.8 436.5,207.8 437.0,206.4 437.5,205.4 438.0,203.8 438.5,203.5 439.0,202.8 439.5,202.1 440.0,202.2 440.5,202.4 441.0,201.5 441.5,202.0 442.0,202.8 442.5,203.7 443.0,204.6 443.5,206.4 444.0,208.3 444.5,209.6 445.0,211.3 445.5,214.6 446.0,216.1 446.5,219.5 447.0,221.6 447.5,224.7 448.0,228.2 448.5,231.2 449.0,233.3 449.5,236.0 450.0,239.0 450.5,241.9 451.0,244.5 451.5,246.5 452.0,248.7 452.5,250.7 453.0,253.2 453.5,254.2 454.0,255.6 454.5,257.4 455.0,259.3 455.5,260.1 456.0,260.4 456.5,261.5 457.0,261.5 457.5,262.4 458.0,263.1 458.5,263.5 459.0,263.8 459.5,264.0 460.0,264.2 460.5,264.4 461.0,264.6 461.5,264.7 462.0,264.7 462.5,264.8 463.0,264.9 463.5,264.9 464.0,264.9 464.5,264.9 465.0,265.0 465.5,265.0 466.0,265.0 466.5,265.0 467.0,265.0 467.5,265.0 468.0,265.0 468.5,265.0 469.0,265.0 469.5,265.0 470.0,265.0 470.5,265.0 471.0,265.0 471.5,265.0 472.0,265.0 472.5,265.0 473.0,265.0 473.5,265.0 474.0,265.0 474.5,265.0 475.0,265.0 475.5,265.0 476.0,265.0 476.5,265.0 477.0,265.0 477.5,265.0 478.0,265.0 478.5,265.0 479.0,265.0 479.5,265.0 480.0,265.0 480.5,265.0 481.0,265.0 481.5,265.0 482.0,265.0 482.5,265.0 483.0,265.0 483.5,265.0 484.0,265.0 484.5,265.0 485.0,265.0 485.5,265.0 486.0,265.0 486.5,265.0 487.0,265.0 487.5,265.0 488.0,265.0 488.5,265.0 489.0,265.0 489.5,265.0 490.0,265.0 490.5,265.0 491.0,265.0 491.5,265.0 492.0,265.0 492.5,265.0 493.0,265.0 493.5,265.0 494.0,265.0 494.5,265.0 495.0,265.0 495.5,265.0 496.0,265.0 496.5,265.0 497.0,265.0 497.5,265.0 498.0,265.0 498.5,265.0 499.0,265.0 499.5,265.0 500.0,265.0 500.5,265.0 501.0,265.0 501.5,265.0 502.0,265.0 502.5,265.0 503.0,265.0 503.5,265.0 504.0,265.0 504.5,265.0 505.0,265.0 505.5,265.0 506.0,265.0 506.5,265.0 507.0,265.0 507.5,265.0 508.0,265.0 508.5,265.0 509.0,265.0 509.5,265.0 510.0,265.0 510.5,265.0 511.0,265.0 511.5,265.0 512.0,265.0 512.5,265.0 513.0,265.0 513.5,265.0 514.0,265.0 514.5,265.0 515.0,265.0 515.5,265.0 516.0,265.0 516.5,265.0 517.0,265.0" fill="none" stroke="#222" stroke-width="1.2" stroke-dasharray="1.5,1.5"/>
<polyline points="406.0,265.0 406.5,265.0 407.0,265.0 407.5,265.0 408.0,265.0 408.5,265.0 409.0,265.0 409.5,265.0 410.0,265.0 410.5,265.0 411.0,265.0 411.5,265.0 412.0,265.0 412.5,265.0 413.0,264.9 413.5,264.9 414.0,264.9 414.5,264.9 415.0,264.9 415.5,264.8 416.0,264.8 416.5,264.7 417.0,264.6 417.5,264.5 418.0,264.4 418.5,264.2 419.0,264.0 419.5,263.8 420.0,263.5 420.5,263.2 421.0,262.6 421.5,262.8 422.0,261.8 422.5,261.0 423.0,260.1 423.5,259.3 424.0,259.2 424.5,258.0 425.0,256.3 425.5,256.1 426.0,254.8 426.5,253.1 427.0,250.9 427.5,249.6 428.0,247.3 428.5,245.1 429.0,243.0 429.5,241.7 430.0,238.6 430.5,236.0 431.0,233.6 431.5,230.9 432.0,228.4 432.5,226.0 433.0,223.2 433.5,221.0 434.0,219.1 434.5,216.5 435.0,213.5 435.5,212.1 436.0,209.9 436.5,207.7 437.0,206.3 437.5,204.7 438.0,203.9 438.5,202.9 439.0,202.6 439.5,201.9 440.0,201.6 440.5,201.0 441.0,201.0 441.5,201.7 442.0,201.5 442.5,202.9 443.0,203.6 443.5,205.4 444.0,206.5 444.5,208.8 445.0,210.1 445.5,213.2 446.0,215.3 446.5,218.5 447.0,221.6 447.5,223.9 448.0,227.7 448.5,230.4 449.0,233.3 449.5,235.8 450.0,239.1 450.5,242.6 451.0,244.7 451.5,246.5 452.0,248.9 452.5,251.5 453.0,253.7 453.5,255.3 454.0,256.2 454.5,258.2 455.0,258.5 455.5,260.3 456.0,260.7 456.5,261.4 457.0,262.6 457.5,262.8 458.0,263.3 458.5,263.6 459.0,263.9 459.5,264.2 460.0,264.4 460.5,264.5 461.0,264.6 461.5,264.7 462.0,264.8 462.5,264.8 463.0,264.9 463.5,264.9 464.0,264.9 464.5,265.0 465.0,265.0 465.5,265.0 466.0,265.0 466.5,265.0 467.0,265.0 467.5,265.0 468.0,265.0 468.5,265.0 469.0,265.0 469.5,265.0 470.0,265.0 470.5,265.0 471.0,265.0 471.5,265.0 472.0,265.0 472.5,265.0 473.0,265.0 473.5,265.0 474.0,265.0 474.5,265.0 475.0,265.0 475.5,265.0 476.0,265.0 476.5,265.0 477.0,265.0 477.5,265.0 478.0,265.0 478.5,265.0 479.0,265.0 479.5,265.0 480.0,265.0 480.5,265.0 481.0,265.0 481.5,265.0 482.0,265.0 482.5,265.0 483.0,265.0 483.5,265.0 484.0,265.0 484.5,265.0 485.0,265.0 485.5,265.0 486.0,265.0 486.5,265.0 487.0,265.0 487.5,265.0 488.0,265.0 488.5,265.0 489.0,265.0 489.5,265.0 490.0,265.0 490.5,265.0 491.0,265.0 491.5,265.0 492.0,265.0 492.5,265.0 493.0,265.0 493.5,265.0 494.0,265.0 494.5,265.0 495.0,265.0 495.5,265.0 496.0,265.0 496.5,265.0 497.0,265.0 497.5,265.0 498.0,265.0 498.5,265.0 499.0,265.0 499.5,265.0 500.0,265.0 500.5,265.0 501.0,265.0 501.5,265.0 502.0,265.0 502.5,265.0 503.0,265.0 503.5,265.0 504.0,265.0 504.5,265.0 505.0,265.0 505.5,265.0 506.0,265.0 506.5,265.0 507.0,265.0 507.5,265.0 508.0,265.0 508.5,265.0 509.0,265.0 509.5,265.0 510.0,265.0 510.5,265.0 511.0,265.0 511.5,265.0 512.0,265.0 512.5,265.0 513.0,265.0 513.5,265.0 514.0,265.0 514.5,265.0 515.0,265.0 515.5,265.0 516.0,265.0 516.5,265.0 517.0,265.0" fill="none" stroke="#111" stroke-width="1.35" stroke-linejoin="round"/>
</g>
<rect x="73.5" y="194.5" width="444.4" height="71.0" fill="none" stroke="#7a7a7a" stroke-width="1.5"/>
<line x1="184.5" y1="194.5" x2="184.5" y2="265.5" stroke="#7a7a7a" stroke-width="1.5"/>
<line x1="295.5" y1="194.5" x2="295.5" y2="265.5" stroke="#7a7a7a" stroke-width="1.5"/>
<line x1="406.5" y1="194.5" x2="406.5" y2="265.5" stroke="#7a7a7a" stroke-width="1.5"/>
<text x="0.5" y="311.2" font-size="24.5" text-anchor="start" font-weight="bold" >B</text>
<line x1="64.6" y1="298" x2="64.6" y2="450" stroke="#9a9a9a" stroke-width="1.2"/>
<line x1="58" y1="450.0" x2="64.6" y2="450.0" stroke="#9a9a9a" stroke-width="1.2"/>
<text x="55.6" y="454.4" font-size="12.4" text-anchor="end" font-weight="normal" >0</text>
<line x1="58" y1="419.6" x2="64.6" y2="419.6" stroke="#9a9a9a" stroke-width="1.2"/>
<text x="55.6" y="424.0" font-size="12.4" text-anchor="end" font-weight="normal" >20</text>
<line x1="58" y1="389.2" x2="64.6" y2="389.2" stroke="#9a9a9a" stroke-width="1.2"/>
<text x="55.6" y="393.6" font-size="12.4" text-anchor="end" font-weight="normal" >40</text>
<line x1="58" y1="358.8" x2="64.6" y2="358.8" stroke="#9a9a9a" stroke-width="1.2"/>
<text x="55.6" y="363.2" font-size="12.4" text-anchor="end" font-weight="normal" >60</text>
<line x1="58" y1="328.4" x2="64.6" y2="328.4" stroke="#9a9a9a" stroke-width="1.2"/>
<text x="55.6" y="332.8" font-size="12.4" text-anchor="end" font-weight="normal" >80</text>
<line x1="58" y1="298.0" x2="64.6" y2="298.0" stroke="#9a9a9a" stroke-width="1.2"/>
<text x="55.6" y="302.4" font-size="12.4" text-anchor="end" font-weight="normal" >100</text>
<line x1="94" y1="450" x2="244.2" y2="450" stroke="#9a9a9a" stroke-width="1.2"/>
<line x1="93.5" y1="450" x2="93.5" y2="454.5" stroke="#9a9a9a" stroke-width="1.2"/>
<line x1="108.6" y1="450" x2="108.6" y2="454.5" stroke="#9a9a9a" stroke-width="1.2"/>
<line x1="123.6" y1="450" x2="123.6" y2="454.5" stroke="#9a9a9a" stroke-width="1.2"/>
<line x1="138.7" y1="450" x2="138.7" y2="454.5" stroke="#9a9a9a" stroke-width="1.2"/>
<line x1="153.8" y1="450" x2="153.8" y2="454.5" stroke="#9a9a9a" stroke-width="1.2"/>
<line x1="168.8" y1="450" x2="168.8" y2="454.5" stroke="#9a9a9a" stroke-width="1.2"/>
<line x1="183.9" y1="450" x2="183.9" y2="454.5" stroke="#9a9a9a" stroke-width="1.2"/>
<line x1="199.0" y1="450" x2="199.0" y2="454.5" stroke="#9a9a9a" stroke-width="1.2"/>
<line x1="214.1" y1="450" x2="214.1" y2="454.5" stroke="#9a9a9a" stroke-width="1.2"/>
<line x1="229.1" y1="450" x2="229.1" y2="454.5" stroke="#9a9a9a" stroke-width="1.2"/>
<line x1="244.2" y1="450" x2="244.2" y2="454.5" stroke="#9a9a9a" stroke-width="1.2"/>
<line x1="59" y1="450" x2="72" y2="450" stroke="#9a9a9a" stroke-width="1.2"/>
<path d="M72,443 q3,3 0,7 q-3,3 0,7" fill="none" stroke="#888" stroke-width="1"/>
<path d="M93.5,442 q-3,3 0,7 q3,3 0,7" fill="none" stroke="#888" stroke-width="1"/>
<text x="65.6" y="466.0" font-size="12.4" text-anchor="middle" font-weight="normal" >0</text>
<text x="97.7" y="466.0" font-size="12.4" text-anchor="middle" font-weight="normal" >-14</text>
<text x="125.0" y="466.0" font-size="12.4" text-anchor="middle" font-weight="normal" >-12</text>
<text x="153.0" y="466.0" font-size="12.4" text-anchor="middle" font-weight="normal" >-10</text>
<text x="180.5" y="466.0" font-size="12.4" text-anchor="middle" font-weight="normal" >-8</text>
<text x="203.8" y="466.0" font-size="12.4" text-anchor="middle" font-weight="normal" >-6</text>
<text x="152.4" y="478.4" font-size="13.6" text-anchor="middle" font-weight="normal" >[Peptide] (logM)</text>
<text x="0.0" y="0.0" font-size="14" text-anchor="middle" font-weight="normal" transform="translate(24.0,374.9) rotate(-90)">% divided</text>
<line x1="86.1" y1="304.7" x2="120.2" y2="304.7" stroke="#000" stroke-width="1.5"/>
<circle cx="103.0" cy="304.7" r="5.9" fill="#000" stroke="#000" stroke-width="0.8"/>
<text x="123.6" y="309.4" font-size="13.2" text-anchor="start" font-weight="normal" >+ IL-7</text>
<line x1="86.1" y1="319.4" x2="120.2" y2="319.4" stroke="#222" stroke-width="1.3" stroke-dasharray="2,2"/>
<circle cx="103.0" cy="319.4" r="5.9" fill="#fff" stroke="#777" stroke-width="1"/>
<text x="123.6" y="324.1" font-size="13.2" text-anchor="start" font-weight="normal" >- IL-7</text>
<line x1="86.1" y1="334.1" x2="120.2" y2="334.1" stroke="#000" stroke-width="1.5"/>
<path d="M103.0,328.2 L108.9,334.1 L103.0,340.0 L97.1,334.1 Z" fill="#000" stroke="#000" stroke-width="0.8"/>
<text x="123.6" y="338.8" font-size="13.2" text-anchor="start" font-weight="normal" >+ IL-7</text>
<line x1="86.1" y1="349.7" x2="120.2" y2="349.7" stroke="#222" stroke-width="1.3" stroke-dasharray="2,2"/>
<path d="M103.0,343.8 L108.9,349.7 L103.0,355.6 L97.1,349.7 Z" fill="#fff" stroke="#777" stroke-width="1"/>
<text x="123.6" y="354.4" font-size="13.2" text-anchor="start" font-weight="normal" >- IL-7</text>
<polyline points="94.0,449.5 153.4,449.2 183.6,449.0 198.7,448.3 213.8,435.5 244.2,356.0" fill="none" stroke="#000" stroke-width="1.6"/>
<polyline points="94.0,449.5 153.4,449.2 183.6,449.0 198.7,448.3 213.8,434.5 244.2,355.0" fill="none" stroke="#111" stroke-width="1.4" stroke-dasharray="1.6,1.6"/>
<polyline points="94.0,449.5 108.7,449.0 123.9,449.0 138.6,449.0 153.6,441.0 168.7,387.5 183.6,332.5 198.6,318.2 213.8,316.2" fill="none" stroke="#000" stroke-width="1.6"/>
<polyline points="94.0,449.5 108.7,449.0 123.9,449.0 138.6,449.0 153.6,440.0 168.7,385.6 183.6,330.2 198.6,320.2 213.8,326.8" fill="none" stroke="#111" stroke-width="1.4" stroke-dasharray="1.6,1.6"/>
<circle cx="68.5" cy="449.2" r="5.6" fill="#000" stroke="#000" stroke-width="0.8"/>
<circle cx="68.5" cy="449.2" r="5.6" fill="#fff" stroke="#777" stroke-width="1"/>
<path d="M68.5,443.4 L74.3,449.2 L68.5,455.0 L62.7,449.2 Z" fill="#000" stroke="#000" stroke-width="0.8"/>
<path d="M68.5,443.4 L74.3,449.2 L68.5,455.0 L62.7,449.2 Z" fill="#fff" stroke="#777" stroke-width="1"/>
<circle cx="108.7" cy="449.0" r="5.6" fill="#000" stroke="#000" stroke-width="0.8"/>
<circle cx="123.9" cy="449.0" r="5.6" fill="#000" stroke="#000" stroke-width="0.8"/>
<circle cx="138.6" cy="449.0" r="5.6" fill="#000" stroke="#000" stroke-width="0.8"/>
<circle cx="153.6" cy="441.0" r="5.6" fill="#000" stroke="#000" stroke-width="0.8"/>
<circle cx="168.7" cy="387.5" r="5.6" fill="#000" stroke="#000" stroke-width="0.8"/>
<circle cx="183.6" cy="332.5" r="5.6" fill="#000" stroke="#000" stroke-width="0.8"/>
<circle cx="198.6" cy="318.2" r="5.6" fill="#000" stroke="#000" stroke-width="0.8"/>
<circle cx="213.8" cy="316.2" r="5.6" fill="#000" stroke="#000" stroke-width="0.8"/>
<circle cx="108.7" cy="449.0" r="5.6" fill="#fff" stroke="#777" stroke-width="1"/>
<circle cx="123.9" cy="449.0" r="5.6" fill="#fff" stroke="#777" stroke-width="1"/>
<circle cx="138.6" cy="449.0" r="5.6" fill="#fff" stroke="#777" stroke-width="1"/>
<path d="M153.4,443.4 L159.2,449.2 L153.4,455.0 L147.6,449.2 Z" fill="#000" stroke="#000" stroke-width="0.8"/>
<path d="M183.6,443.2 L189.4,449.0 L183.6,454.8 L177.8,449.0 Z" fill="#000" stroke="#000" stroke-width="0.8"/>
<path d="M198.7,442.5 L204.5,448.3 L198.7,454.1 L192.9,448.3 Z" fill="#000" stroke="#000" stroke-width="0.8"/>
<path d="M213.8,430.7 L219.6,436.5 L213.8,442.3 L208.0,436.5 Z" fill="#000" stroke="#000" stroke-width="0.8"/>
<path d="M244.2,351.9 L250.0,357.7 L244.2,363.5 L238.4,357.7 Z" fill="#000" stroke="#000" stroke-width="0.8"/>
<circle cx="153.6" cy="440.0" r="5.6" fill="#fff" stroke="#777" stroke-width="1"/>
<path d="M153.4,443.4 L159.2,449.2 L153.4,455.0 L147.6,449.2 Z" fill="#fff" stroke="#777" stroke-width="1"/>
<path d="M183.6,443.2 L189.4,449.0 L183.6,454.8 L177.8,449.0 Z" fill="#fff" stroke="#777" stroke-width="1"/>
<path d="M198.7,442.5 L204.5,448.3 L198.7,454.1 L192.9,448.3 Z" fill="#fff" stroke="#777" stroke-width="1"/>
<path d="M213.8,428.8 L219.6,434.6 L213.8,440.4 L208.0,434.6 Z" fill="#fff" stroke="#777" stroke-width="1"/>
<path d="M244.2,349.0 L250.0,354.8 L244.2,360.6 L238.4,354.8 Z" fill="#fff" stroke="#777" stroke-width="1"/>
<circle cx="168.7" cy="385.6" r="5.6" fill="#fff" stroke="#777" stroke-width="1"/>
<circle cx="183.6" cy="330.2" r="5.6" fill="#fff" stroke="#777" stroke-width="1"/>
<circle cx="198.6" cy="320.2" r="5.6" fill="#fff" stroke="#777" stroke-width="1"/>
<circle cx="213.8" cy="326.8" r="5.6" fill="#fff" stroke="#777" stroke-width="1"/>
<circle cx="213.8" cy="316.2" r="5.6" fill="#000" stroke="#000" stroke-width="0.8"/>
<text x="263.5" y="311.2" font-size="23.5" text-anchor="start" font-weight="bold" >C</text>
<line x1="315.3" y1="297.3" x2="315.3" y2="451" stroke="#9a9a9a" stroke-width="1.2"/>
<line x1="309" y1="450.5" x2="315.3" y2="450.5" stroke="#9a9a9a" stroke-width="1.2"/>
<text x="306.8" y="454.9" font-size="12.4" text-anchor="end" font-weight="normal" >0</text>
<line x1="309" y1="428.7" x2="315.3" y2="428.7" stroke="#9a9a9a" stroke-width="1.2"/>
<text x="306.8" y="433.1" font-size="12.4" text-anchor="end" font-weight="normal" >0.5</text>
<line x1="309" y1="406.9" x2="315.3" y2="406.9" stroke="#9a9a9a" stroke-width="1.2"/>
<text x="306.8" y="411.3" font-size="12.4" text-anchor="end" font-weight="normal" >1</text>
<line x1="309" y1="385.1" x2="315.3" y2="385.1" stroke="#9a9a9a" stroke-width="1.2"/>
<text x="306.8" y="389.5" font-size="12.4" text-anchor="end" font-weight="normal" >1.5</text>
<line x1="309" y1="363.3" x2="315.3" y2="363.3" stroke="#9a9a9a" stroke-width="1.2"/>
<text x="306.8" y="367.7" font-size="12.4" text-anchor="end" font-weight="normal" >2</text>
<line x1="309" y1="341.5" x2="315.3" y2="341.5" stroke="#9a9a9a" stroke-width="1.2"/>
<text x="306.8" y="345.9" font-size="12.4" text-anchor="end" font-weight="normal" >2.5</text>
<line x1="309" y1="319.7" x2="315.3" y2="319.7" stroke="#9a9a9a" stroke-width="1.2"/>
<text x="306.8" y="324.1" font-size="12.4" text-anchor="end" font-weight="normal" >3</text>
<line x1="309" y1="297.9" x2="315.3" y2="297.9" stroke="#9a9a9a" stroke-width="1.2"/>
<text x="306.8" y="302.3" font-size="12.4" text-anchor="end" font-weight="normal" >3.5</text>
<line x1="309.6" y1="451" x2="320" y2="451" stroke="#9a9a9a" stroke-width="1.2"/>
<line x1="344.3" y1="451" x2="492.7" y2="451" stroke="#9a9a9a" stroke-width="1.2"/>
<line x1="344.2" y1="451" x2="344.2" y2="454.5" stroke="#9a9a9a" stroke-width="1.2"/>
<line x1="359.1" y1="451" x2="359.1" y2="454.5" stroke="#9a9a9a" stroke-width="1.2"/>
<line x1="373.9" y1="451" x2="373.9" y2="454.5" stroke="#9a9a9a" stroke-width="1.2"/>
<line x1="388.8" y1="451" x2="388.8" y2="454.5" stroke="#9a9a9a" stroke-width="1.2"/>
<line x1="403.6" y1="451" x2="403.6" y2="454.5" stroke="#9a9a9a" stroke-width="1.2"/>
<line x1="418.4" y1="451" x2="418.4" y2="454.5" stroke="#9a9a9a" stroke-width="1.2"/>
<line x1="433.3" y1="451" x2="433.3" y2="454.5" stroke="#9a9a9a" stroke-width="1.2"/>
<line x1="448.1" y1="451" x2="448.1" y2="454.5" stroke="#9a9a9a" stroke-width="1.2"/>
<line x1="463.0" y1="451" x2="463.0" y2="454.5" stroke="#9a9a9a" stroke-width="1.2"/>
<line x1="477.9" y1="451" x2="477.9" y2="454.5" stroke="#9a9a9a" stroke-width="1.2"/>
<line x1="492.7" y1="451" x2="492.7" y2="454.5" stroke="#9a9a9a" stroke-width="1.2"/>
<path d="M321.5,443 q3,3 0,8 q-3,3 0,8" fill="none" stroke="#888" stroke-width="1"/>
<path d="M345,442 q-3,3 0,8 q3,3 0,8" fill="none" stroke="#888" stroke-width="1"/>
<text x="316.4" y="466.5" font-size="12.4" text-anchor="middle" font-weight="normal" >0</text>
<text x="348.9" y="466.5" font-size="12.4" text-anchor="middle" font-weight="normal" >-14</text>
<text x="377.2" y="466.5" font-size="12.4" text-anchor="middle" font-weight="normal" >-12</text>
<text x="403.8" y="466.5" font-size="12.4" text-anchor="middle" font-weight="normal" >-10</text>
<text x="431.5" y="466.5" font-size="12.4" text-anchor="middle" font-weight="normal" >-8</text>
<text x="454.6" y="466.5" font-size="12.4" text-anchor="middle" font-weight="normal" >-6</text>
<text x="403.9" y="479.0" font-size="13.6" text-anchor="middle" font-weight="normal" >[Peptide] (logM)</text>
<text x="0.0" y="0.0" font-size="17.9" text-anchor="middle" font-weight="normal" transform="translate(278.8,374.3) rotate(-90)">Mean division</text>
<line x1="330.2" y1="303.0" x2="364.5" y2="303.0" stroke="#000" stroke-width="1.5"/>
<circle cx="347.5" cy="303.0" r="5.9" fill="#000" stroke="#000" stroke-width="0.8"/>
<text x="367.3" y="307.7" font-size="13.2" text-anchor="start" font-weight="normal" >+ IL7</text>
<line x1="330.2" y1="316.8" x2="364.5" y2="316.8" stroke="#222" stroke-width="1.3" stroke-dasharray="2,2"/>
<circle cx="347.5" cy="316.8" r="5.9" fill="#fff" stroke="#777" stroke-width="1"/>
<text x="367.3" y="321.5" font-size="13.2" text-anchor="start" font-weight="normal" >- IL7</text>
<line x1="330.2" y1="331.0" x2="364.5" y2="331.0" stroke="#000" stroke-width="1.5"/>
<path d="M347.5,325.1 L353.4,331.0 L347.5,336.9 L341.6,331.0 Z" fill="#000" stroke="#000" stroke-width="0.8"/>
<text x="367.3" y="335.7" font-size="13.2" text-anchor="start" font-weight="normal" >+ IL7</text>
<line x1="330.2" y1="345.0" x2="364.5" y2="345.0" stroke="#222" stroke-width="1.3" stroke-dasharray="2,2"/>
<path d="M347.5,339.1 L353.4,345.0 L347.5,350.9 L341.6,345.0 Z" fill="#fff" stroke="#777" stroke-width="1"/>
<text x="367.3" y="349.7" font-size="13.2" text-anchor="start" font-weight="normal" >- IL7</text>
<polyline points="404.1,372.2 418.7,364.9 433.4,348.4 448.0,338.0 463.0,325.2 478.1,318.3" fill="none" stroke="#000" stroke-width="1.6"/>
<polyline points="404.1,372.2 418.7,372.2 433.4,356.6 448.0,335.6 463.0,322.8 478.1,310.0" fill="none" stroke="#111" stroke-width="1.4" stroke-dasharray="1.6,1.6"/>
<polyline points="462.9,378.0 477.7,376.8 492.3,375.8" fill="none" stroke="#000" stroke-width="1.6"/>
<polyline points="462.9,379.4 477.7,380.1 492.3,376.1" fill="none" stroke="#111" stroke-width="1.4" stroke-dasharray="1.6,1.6"/>
<circle cx="404.1" cy="372.2" r="5.6" fill="#000" stroke="#000" stroke-width="0.8"/>
<circle cx="418.7" cy="364.9" r="5.6" fill="#000" stroke="#000" stroke-width="0.8"/>
<circle cx="433.4" cy="348.4" r="5.6" fill="#000" stroke="#000" stroke-width="0.8"/>
<circle cx="448.0" cy="338.0" r="5.6" fill="#000" stroke="#000" stroke-width="0.8"/>
<circle cx="463.0" cy="325.2" r="5.6" fill="#000" stroke="#000" stroke-width="0.8"/>
<circle cx="478.1" cy="318.3" r="5.6" fill="#000" stroke="#000" stroke-width="0.8"/>
<circle cx="404.1" cy="372.2" r="5.6" fill="#fff" stroke="#777" stroke-width="1"/>
<circle cx="418.7" cy="372.2" r="5.6" fill="#fff" stroke="#777" stroke-width="1"/>
<circle cx="433.4" cy="356.6" r="5.6" fill="#fff" stroke="#777" stroke-width="1"/>
<circle cx="448.0" cy="335.6" r="5.6" fill="#fff" stroke="#777" stroke-width="1"/>
<circle cx="463.0" cy="322.8" r="5.6" fill="#fff" stroke="#777" stroke-width="1"/>
<circle cx="478.1" cy="310.0" r="5.6" fill="#fff" stroke="#777" stroke-width="1"/>
<circle cx="418.7" cy="364.9" r="5.6" fill="#000" stroke="#000" stroke-width="0.8"/>
<circle cx="433.4" cy="348.4" r="5.6" fill="#000" stroke="#000" stroke-width="0.8"/>
<circle cx="478.1" cy="318.3" r="5.6" fill="#000" stroke="#000" stroke-width="0.8"/>
<circle cx="418.7" cy="372.2" r="5.6" fill="#fff" stroke="#777" stroke-width="1"/>
<circle cx="433.4" cy="356.6" r="5.6" fill="#fff" stroke="#777" stroke-width="1"/>
<circle cx="478.1" cy="310.0" r="5.6" fill="#fff" stroke="#777" stroke-width="1"/>
<path d="M462.9,372.2 L468.7,378.0 L462.9,383.8 L457.1,378.0 Z" fill="#000" stroke="#000" stroke-width="0.8"/>
<path d="M477.7,371.0 L483.5,376.8 L477.7,382.6 L471.9,376.8 Z" fill="#000" stroke="#000" stroke-width="0.8"/>
<path d="M492.3,370.0 L498.1,375.8 L492.3,381.6 L486.5,375.8 Z" fill="#000" stroke="#000" stroke-width="0.8"/>
<path d="M462.9,373.6 L468.7,379.4 L462.9,385.2 L457.1,379.4 Z" fill="#fff" stroke="#777" stroke-width="1"/>
<path d="M477.7,374.3 L483.5,380.1 L477.7,385.9 L471.9,380.1 Z" fill="#fff" stroke="#777" stroke-width="1"/>
<path d="M492.3,370.3 L498.1,376.1 L492.3,381.9 L486.5,376.1 Z" fill="#fff" stroke="#777" stroke-width="1"/>
<text x="0.0" y="520.8" font-size="24.5" text-anchor="start" font-weight="bold" >D</text>
<clipPath id="cD0"><rect x="52.8" y="503.7" width="129.7" height="129.2"/></clipPath>
<clipPath id="cD1"><rect x="209.3" y="503.7" width="129.9" height="129.1"/></clipPath>
<clipPath id="cD2"><rect x="370.1" y="504.7" width="129.5" height="128.8"/></clipPath>
<g clip-path="url(#cD0)">
<path d="M52.8,632.9 L52.8,623.2 L53.3,622.7 L53.8,620.8 L54.3,619.1 L54.8,616.7 L55.3,616.2 L55.8,614.4 L56.3,611.6 L56.8,609.0 L57.3,606.7 L57.8,603.1 L58.3,601.6 L58.8,597.9 L59.3,594.6 L59.8,591.7 L60.3,587.5 L60.8,583.7 L61.3,579.9 L61.8,574.9 L62.3,570.3 L62.8,566.0 L63.3,563.1 L63.8,558.3 L64.3,552.7 L64.8,550.0 L65.3,545.6 L65.8,541.4 L66.3,535.5 L66.8,532.4 L67.3,528.9 L67.8,526.1 L68.3,521.5 L68.8,518.6 L69.3,516.9 L69.8,514.7 L70.3,514.2 L70.8,514.3 L71.3,514.9 L71.8,515.5 L72.3,517.1 L72.8,518.4 L73.3,521.1 L73.8,523.4 L74.3,524.3 L74.8,527.3 L75.3,530.4 L75.8,534.6 L76.3,537.8 L76.8,541.2 L77.3,544.4 L77.8,549.0 L78.3,552.4 L78.8,556.1 L79.3,559.3 L79.8,564.0 L80.3,568.5 L80.8,571.3 L81.3,574.0 L81.8,578.9 L82.3,581.5 L82.8,585.8 L83.3,588.7 L83.8,591.1 L84.3,595.1 L84.8,597.2 L85.3,599.7 L85.8,602.6 L86.3,604.3 L86.8,606.4 L87.3,609.7 L87.8,610.7 L88.3,612.6 L88.8,614.7 L89.3,616.4 L89.8,617.9 L90.3,619.0 L90.8,620.4 L91.3,622.4 L91.8,622.8 L92.3,623.7 L92.8,625.1 L93.3,625.0 L93.8,627.0 L94.3,627.2 L94.8,627.8 L95.3,628.3 L95.8,629.6 L96.3,629.1 L96.8,630.6 L97.3,630.1 L97.8,630.6 L98.3,630.4 L98.8,631.1 L99.3,631.3 L99.8,631.5 L100.3,631.7 L100.8,631.9 L101.3,632.0 L101.8,632.1 L102.3,632.2 L102.8,632.3 L103.3,632.4 L103.8,632.5 L104.3,632.5 L104.8,632.6 L105.3,632.6 L105.8,632.7 L106.3,632.7 L106.8,632.7 L107.3,632.8 L107.8,632.8 L108.3,632.8 L108.8,632.8 L109.3,632.8 L109.8,632.8 L110.3,632.9 L110.8,632.9 L111.3,632.9 L111.8,632.9 L112.3,632.9 L112.8,632.9 L113.3,632.9 L113.8,632.9 L114.3,632.9 L114.8,632.9 L115.3,632.9 L115.8,632.9 L116.3,632.9 L116.8,632.9 L117.3,632.9 L117.8,632.9 L118.3,632.9 L118.8,632.9 L119.3,632.9 L119.8,632.9 L120.3,632.9 L120.8,632.9 L121.3,632.9 L121.8,632.9 L122.3,632.9 L122.8,632.9 L123.3,632.9 L123.8,632.9 L124.3,632.9 L124.8,632.9 L125.3,632.9 L125.8,632.9 L126.3,632.9 L126.8,632.9 L127.3,632.9 L127.8,632.9 L128.3,632.9 L128.8,632.9 L129.3,632.9 L129.8,632.9 L130.3,632.9 L130.8,632.9 L131.3,632.9 L131.8,632.9 L132.3,632.9 L132.8,632.9 L133.3,632.9 L133.8,632.9 L134.3,632.9 L134.8,632.9 L135.3,632.9 L135.8,632.9 L136.3,632.9 L136.8,632.9 L137.3,632.9 L137.8,632.9 L138.3,632.9 L138.8,632.9 L139.3,632.9 L139.8,632.9 L140.3,632.9 L140.8,632.9 L141.3,632.9 L141.8,632.9 L142.3,632.9 L142.8,632.9 L143.3,632.9 L143.8,632.9 L144.3,632.9 L144.8,632.9 L145.3,632.9 L145.8,632.9 L146.3,632.9 L146.8,632.9 L147.3,632.9 L147.8,632.9 L148.3,632.9 L148.8,632.9 L149.3,632.9 L149.8,632.9 L150.3,632.9 L150.8,632.9 L151.3,632.9 L151.8,632.9 L152.3,632.9 L152.8,632.9 L153.3,632.9 L153.8,632.9 L154.3,632.9 L154.8,632.9 L155.3,632.9 L155.8,632.9 L156.3,632.9 L156.8,632.9 L157.3,632.9 L157.8,632.9 L158.3,632.9 L158.8,632.9 L159.3,632.9 L159.8,632.9 L160.3,632.9 L160.8,632.9 L161.3,632.9 L161.8,632.9 L162.3,632.9 L162.8,632.9 L163.3,632.9 L163.8,632.9 L164.3,632.9 L164.8,632.9 L165.3,632.9 L165.8,632.9 L166.3,632.9 L166.8,632.9 L167.3,632.9 L167.8,632.9 L168.3,632.9 L168.8,632.9 L169.3,632.9 L169.8,632.9 L170.3,632.9 L170.8,632.9 L171.3,632.9 L171.8,632.9 L172.3,632.9 L172.8,632.9 L173.3,632.9 L173.8,632.9 L174.3,632.9 L174.8,632.9 L175.3,632.9 L175.8,632.9 L176.3,632.9 L176.8,632.9 L177.3,632.9 L177.8,632.9 L178.3,632.9 L178.8,632.9 L179.3,632.9 L179.8,632.9 L180.3,632.9 L180.8,632.9 L181.3,632.9 L181.8,632.9 L182.3,632.9 L182.3,632.9 Z" fill="#9e9e9e"/>
<polyline points="52.8,606.4 53.3,604.6 53.8,604.2 54.3,601.4 54.8,600.4 55.3,598.5 55.8,597.4 56.3,594.1 56.8,593.1 57.3,590.9 57.8,588.7 58.3,586.6 58.8,584.2 59.3,581.9 59.8,579.0 60.3,576.8 60.8,573.7 61.3,570.8 61.8,568.1 62.3,566.3 62.8,563.1 63.3,560.3 63.8,557.5 64.3,555.2 64.8,552.7 65.3,548.9 65.8,546.2 66.3,543.9 66.8,540.6 67.3,538.8 67.8,534.9 68.3,532.0 68.8,529.3 69.3,528.1 69.8,524.8 70.3,522.3 70.8,521.2 71.3,518.4 71.8,517.3 72.3,515.6 72.8,514.5 73.3,513.0 73.8,511.4 74.3,512.3 74.8,513.8 75.3,516.3 75.8,521.0 76.3,523.7 76.8,527.9 77.3,532.8 77.8,538.1 78.3,543.2 78.8,547.7 79.3,552.8 79.8,557.9 80.3,562.2 80.8,567.0 81.3,572.2 81.8,576.9 82.3,580.7 82.8,584.5 83.3,588.5 83.8,592.2 84.3,595.3 84.8,598.9 85.3,602.5 85.8,604.8 86.3,607.6 86.8,610.6 87.3,613.2 87.8,614.9 88.3,616.3 88.8,618.0 89.3,620.3 89.8,621.3 90.3,623.4 90.8,623.7 91.3,625.0 91.8,625.5 92.3,626.2 92.8,628.2 93.3,627.4 93.8,629.3 94.3,628.6 94.8,629.0 95.3,630.6 95.8,630.9 96.3,631.4 96.8,631.1 97.3,631.4 97.8,631.6 98.3,631.8 98.8,631.9 99.3,632.1 99.8,632.2 100.3,632.3 100.8,632.4 101.3,632.5 101.8,632.5 102.3,632.6 102.8,632.6 103.3,632.7 103.8,632.7 104.3,632.7 104.8,632.8 105.3,632.8 105.8,632.8 106.3,632.8 106.8,632.8 107.3,632.8 107.8,632.9 108.3,632.9 108.8,632.9 109.3,632.9 109.8,632.9 110.3,632.9 110.8,632.9 111.3,632.9 111.8,632.9 112.3,632.9 112.8,632.9 113.3,632.9 113.8,632.9 114.3,632.9 114.8,632.9 115.3,632.9 115.8,632.9 116.3,632.9 116.8,632.9 117.3,632.9 117.8,632.9 118.3,632.9 118.8,632.9 119.3,632.9 119.8,632.9 120.3,632.9 120.8,632.9 121.3,632.9 121.8,632.9 122.3,632.9 122.8,632.9 123.3,632.9 123.8,632.9 124.3,632.9 124.8,632.9 125.3,632.9 125.8,632.9 126.3,632.9 126.8,632.9 127.3,632.9 127.8,632.9 128.3,632.9 128.8,632.9 129.3,632.9 129.8,632.9 130.3,632.9 130.8,632.9 131.3,632.9 131.8,632.9 132.3,632.9 132.8,632.9 133.3,632.9 133.8,632.9 134.3,632.9 134.8,632.9 135.3,632.9 135.8,632.9 136.3,632.9 136.8,632.9 137.3,632.9 137.8,632.9 138.3,632.9 138.8,632.9 139.3,632.9 139.8,632.9 140.3,632.9 140.8,632.9 141.3,632.9 141.8,632.9 142.3,632.9 142.8,632.9 143.3,632.9 143.8,632.9 144.3,632.9 144.8,632.9 145.3,632.9 145.8,632.9 146.3,632.9 146.8,632.9 147.3,632.9 147.8,632.9 148.3,632.9 148.8,632.9 149.3,632.9 149.8,632.9 150.3,632.9 150.8,632.9 151.3,632.9 151.8,632.9 152.3,632.9 152.8,632.9 153.3,632.9 153.8,632.9 154.3,632.9 154.8,632.9 155.3,632.9 155.8,632.9 156.3,632.9 156.8,632.9 157.3,632.9 157.8,632.9 158.3,632.9 158.8,632.9 159.3,632.9 159.8,632.9 160.3,632.9 160.8,632.9 161.3,632.9 161.8,632.9 162.3,632.9 162.8,632.9 163.3,632.9 163.8,632.9 164.3,632.9 164.8,632.9 165.3,632.9 165.8,632.9 166.3,632.9 166.8,632.9 167.3,632.9 167.8,632.9 168.3,632.9 168.8,632.9 169.3,632.9 169.8,632.9 170.3,632.9 170.8,632.9 171.3,632.9 171.8,632.9 172.3,632.9 172.8,632.9 173.3,632.9 173.8,632.9 174.3,632.9 174.8,632.9 175.3,632.9 175.8,632.9 176.3,632.9 176.8,632.9 177.3,632.9 177.8,632.9 178.3,632.9 178.8,632.9 179.3,632.9 179.8,632.9 180.3,632.9 180.8,632.9 181.3,632.9 181.8,632.9 182.3,632.9" fill="none" stroke="#333" stroke-width="1.2" stroke-dasharray="2.5,2"/>
<polyline points="52.8,629.5 53.3,629.9 53.8,629.2 54.3,629.5 54.8,630.8 55.3,629.4 55.8,630.6 56.3,630.5 56.8,630.1 57.3,629.1 57.8,630.2 58.3,629.3 58.8,629.1 59.3,628.3 59.8,629.2 60.3,629.2 60.8,628.6 61.3,628.7 61.8,627.8 62.3,629.5 62.8,629.1 63.3,629.4 63.8,628.1 64.3,626.6 64.8,627.2 65.3,626.9 65.8,625.8 66.3,626.0 66.8,627.4 67.3,627.4 67.8,626.3 68.3,627.0 68.8,625.8 69.3,627.1 69.8,626.0 70.3,624.8 70.8,626.1 71.3,626.2 71.8,624.2 72.3,625.7 72.8,623.4 73.3,624.1 73.8,623.1 74.3,624.0 74.8,623.9 75.3,624.4 75.8,624.9 76.3,622.0 76.8,624.0 77.3,624.3 77.8,621.5 78.3,622.5 78.8,622.2 79.3,621.0 79.8,621.4 80.3,622.7 80.8,622.4 81.3,621.1 81.8,620.8 82.3,622.0 82.8,621.7 83.3,620.7 83.8,621.8 84.3,619.3 84.8,619.4 85.3,620.6 85.8,619.0 86.3,618.6 86.8,619.7 87.3,618.2 87.8,616.6 88.3,617.1 88.8,615.6 89.3,616.4 89.8,613.4 90.3,613.5 90.8,612.9 91.3,613.5 91.8,611.4 92.3,611.2 92.8,608.6 93.3,608.0 93.8,606.2 94.3,604.4 94.8,603.0 95.3,600.6 95.8,597.9 96.3,596.7 96.8,593.0 97.3,589.3 97.8,587.2 98.3,583.7 98.8,583.2 99.3,578.3 99.8,576.3 100.3,570.8 100.8,568.6 101.3,564.3 101.8,560.4 102.3,558.6 102.8,554.9 103.3,549.0 103.8,545.2 104.3,542.6 104.8,540.2 105.3,536.6 105.8,530.9 106.3,528.0 106.8,525.9 107.3,522.2 107.8,519.2 108.3,519.4 108.8,515.3 109.3,513.0 109.8,512.2 110.3,511.4 110.8,512.5 111.3,512.3 111.8,514.8 112.3,514.4 112.8,517.1 113.3,520.7 113.8,525.0 114.3,528.3 114.8,531.8 115.3,534.6 115.8,540.6 116.3,544.3 116.8,551.3 117.3,556.2 117.8,561.3 118.3,566.2 118.8,569.7 119.3,575.8 119.8,580.7 120.3,584.2 120.8,589.3 121.3,592.1 121.8,596.6 122.3,599.8 122.8,604.4 123.3,607.7 123.8,610.4 124.3,611.5 124.8,614.1 125.3,617.4 125.8,619.6 126.3,622.6 126.8,621.8 127.3,624.0 127.8,625.8 128.3,627.6 128.8,627.7 129.3,627.8 129.8,629.8 130.3,630.4 130.8,630.2 131.3,630.7 131.8,631.1 132.3,631.4 132.8,631.7 133.3,631.9 133.8,632.1 134.3,632.2 134.8,632.4 135.3,632.5 135.8,632.5 136.3,632.6 136.8,632.7 137.3,632.7 137.8,632.8 138.3,632.8 138.8,632.8 139.3,632.8 139.8,632.8 140.3,632.9 140.8,632.9 141.3,632.9 141.8,632.9 142.3,632.9 142.8,632.9 143.3,632.9 143.8,632.9 144.3,632.9 144.8,632.9 145.3,632.9 145.8,632.9 146.3,632.9 146.8,632.9 147.3,632.9 147.8,632.9 148.3,632.9 148.8,632.9 149.3,632.9 149.8,632.9 150.3,632.9 150.8,632.9 151.3,632.9 151.8,632.9 152.3,632.9 152.8,632.9 153.3,632.9 153.8,632.9 154.3,632.9 154.8,632.9 155.3,632.9 155.8,632.9 156.3,632.9 156.8,632.9 157.3,632.9 157.8,632.9 158.3,632.9 158.8,632.9 159.3,632.9 159.8,632.9 160.3,632.9 160.8,632.9 161.3,632.9 161.8,632.9 162.3,632.9 162.8,632.9 163.3,632.9 163.8,632.9 164.3,632.9 164.8,632.9 165.3,632.9 165.8,632.9 166.3,632.9 166.8,632.9 167.3,632.9 167.8,632.9 168.3,632.9 168.8,632.9 169.3,632.9 169.8,632.9 170.3,632.9 170.8,632.9 171.3,632.9 171.8,632.9 172.3,632.9 172.8,632.9 173.3,632.9 173.8,632.9 174.3,632.9 174.8,632.9 175.3,632.9 175.8,632.9 176.3,632.9 176.8,632.9 177.3,632.9 177.8,632.9 178.3,632.9 178.8,632.9 179.3,632.9 179.8,632.9 180.3,632.9 180.8,632.9 181.3,632.9 181.8,632.9 182.3,632.9" fill="none" stroke="#222" stroke-width="1"/>
</g>
<g clip-path="url(#cD1)">
<path d="M209.3,632.8 L209.3,632.8 L209.8,632.8 L210.3,632.8 L210.8,632.8 L211.3,632.8 L211.8,632.8 L212.3,632.8 L212.8,632.8 L213.3,632.8 L213.8,632.8 L214.3,632.8 L214.8,632.8 L215.3,632.8 L215.8,632.8 L216.3,632.8 L216.8,632.8 L217.3,632.8 L217.8,632.8 L218.3,632.8 L218.8,632.8 L219.3,632.8 L219.8,632.8 L220.3,632.8 L220.8,632.8 L221.3,632.8 L221.8,632.8 L222.3,632.8 L222.8,632.8 L223.3,632.8 L223.8,632.8 L224.3,632.8 L224.8,632.8 L225.3,632.8 L225.8,632.8 L226.3,632.8 L226.8,632.8 L227.3,632.8 L227.8,632.8 L228.3,632.8 L228.8,632.8 L229.3,632.8 L229.8,632.8 L230.3,632.8 L230.8,632.8 L231.3,632.8 L231.8,632.8 L232.3,632.8 L232.8,632.8 L233.3,632.8 L233.8,632.8 L234.3,632.8 L234.8,632.8 L235.3,632.8 L235.8,632.8 L236.3,632.8 L236.8,632.8 L237.3,632.8 L237.8,632.8 L238.3,632.8 L238.8,632.8 L239.3,632.8 L239.8,632.8 L240.3,632.8 L240.8,632.8 L241.3,632.8 L241.8,632.8 L242.3,632.8 L242.8,632.8 L243.3,632.8 L243.8,632.8 L244.3,632.8 L244.8,632.8 L245.3,632.8 L245.8,632.8 L246.3,632.8 L246.8,632.8 L247.3,632.8 L247.8,632.8 L248.3,632.8 L248.8,632.8 L249.3,632.8 L249.8,632.8 L250.3,632.8 L250.8,632.8 L251.3,632.8 L251.8,632.8 L252.3,632.8 L252.8,632.7 L253.3,632.7 L253.8,632.7 L254.3,632.6 L254.8,632.5 L255.3,632.4 L255.8,632.3 L256.3,632.1 L256.8,631.9 L257.3,631.6 L257.8,631.2 L258.3,630.7 L258.8,630.1 L259.3,629.3 L259.8,628.4 L260.3,627.2 L260.8,625.7 L261.3,623.9 L261.8,621.8 L262.3,619.3 L262.8,616.4 L263.3,612.9 L263.8,609.0 L264.3,604.5 L264.8,599.4 L265.3,593.8 L265.8,587.7 L266.3,581.0 L266.8,573.9 L267.3,566.5 L267.8,558.8 L268.3,551.0 L268.8,543.4 L269.3,536.0 L269.8,529.1 L270.3,522.9 L270.8,517.7 L271.3,513.7 L271.8,511.3 L272.3,511.0 L272.8,512.8 L273.3,516.1 L273.8,520.6 L274.3,525.9 L274.8,532.1 L275.3,538.7 L275.8,545.8 L276.3,553.0 L276.8,560.2 L277.3,567.4 L277.8,574.3 L278.3,581.0 L278.8,587.2 L279.3,593.0 L279.8,598.3 L280.3,603.2 L280.8,607.5 L281.3,611.4 L281.8,614.8 L282.3,617.8 L282.8,620.4 L283.3,622.6 L283.8,624.5 L284.3,626.0 L284.8,627.4 L285.3,628.5 L285.8,629.3 L286.3,630.1 L286.8,630.7 L287.3,631.1 L287.8,631.5 L288.3,631.8 L288.8,632.1 L289.3,632.2 L289.8,632.4 L290.3,632.5 L290.8,632.6 L291.3,632.6 L291.8,632.7 L292.3,632.7 L292.8,632.7 L293.3,632.8 L293.8,632.8 L294.3,632.8 L294.8,632.8 L295.3,632.8 L295.8,632.8 L296.3,632.8 L296.8,632.8 L297.3,632.8 L297.8,632.8 L298.3,632.8 L298.8,632.8 L299.3,632.8 L299.8,632.8 L300.3,632.8 L300.8,632.8 L301.3,632.8 L301.8,632.8 L302.3,632.8 L302.8,632.8 L303.3,632.8 L303.8,632.8 L304.3,632.8 L304.8,632.8 L305.3,632.8 L305.8,632.8 L306.3,632.8 L306.8,632.8 L307.3,632.8 L307.8,632.8 L308.3,632.8 L308.8,632.8 L309.3,632.8 L309.8,632.8 L310.3,632.8 L310.8,632.8 L311.3,632.8 L311.8,632.8 L312.3,632.8 L312.8,632.8 L313.3,632.8 L313.8,632.8 L314.3,632.8 L314.8,632.8 L315.3,632.8 L315.8,632.8 L316.3,632.8 L316.8,632.8 L317.3,632.8 L317.8,632.8 L318.3,632.8 L318.8,632.8 L319.3,632.8 L319.8,632.8 L320.3,632.8 L320.8,632.8 L321.3,632.8 L321.8,632.8 L322.3,632.8 L322.8,632.8 L323.3,632.8 L323.8,632.8 L324.3,632.8 L324.8,632.8 L325.3,632.8 L325.8,632.8 L326.3,632.8 L326.8,632.8 L327.3,632.8 L327.8,632.8 L328.3,632.8 L328.8,632.8 L329.3,632.8 L329.8,632.8 L330.3,632.8 L330.8,632.8 L331.3,632.8 L331.8,632.8 L332.3,632.8 L332.8,632.8 L333.3,632.8 L333.8,632.8 L334.3,632.8 L334.8,632.8 L335.3,632.8 L335.8,632.8 L336.3,632.8 L336.8,632.8 L337.3,632.8 L337.8,632.8 L338.3,632.8 L338.8,632.8 L339.3,632.8 L339.3,632.8 Z" fill="#9e9e9e" stroke="#666" stroke-width="0.9"/>
</g>
<g clip-path="url(#cD2)">
<path d="M370.1,633.5 L370.1,633.5 L370.6,633.5 L371.1,633.5 L371.6,633.5 L372.1,633.5 L372.6,633.5 L373.1,633.5 L373.6,633.5 L374.1,633.5 L374.6,633.5 L375.1,633.5 L375.6,633.5 L376.1,633.5 L376.6,633.5 L377.1,633.5 L377.6,633.5 L378.1,633.5 L378.6,633.5 L379.1,633.5 L379.6,633.5 L380.1,633.5 L380.6,633.5 L381.1,633.5 L381.6,633.5 L382.1,633.5 L382.6,633.5 L383.1,633.5 L383.6,633.5 L384.1,633.5 L384.6,633.5 L385.1,633.5 L385.6,633.5 L386.1,633.5 L386.6,633.5 L387.1,633.5 L387.6,633.5 L388.1,633.5 L388.6,633.5 L389.1,633.5 L389.6,633.5 L390.1,633.5 L390.6,633.5 L391.1,633.5 L391.6,633.5 L392.1,633.5 L392.6,633.5 L393.1,633.5 L393.6,633.5 L394.1,633.5 L394.6,633.5 L395.1,633.5 L395.6,633.5 L396.1,633.5 L396.6,633.5 L397.1,633.5 L397.6,633.5 L398.1,633.5 L398.6,633.5 L399.1,633.5 L399.6,633.5 L400.1,633.5 L400.6,633.5 L401.1,633.5 L401.6,633.5 L402.1,633.5 L402.6,633.5 L403.1,633.5 L403.6,633.5 L404.1,633.5 L404.6,633.5 L405.1,633.5 L405.6,633.5 L406.1,633.5 L406.6,633.5 L407.1,633.5 L407.6,633.5 L408.1,633.5 L408.6,633.5 L409.1,633.5 L409.6,633.5 L410.1,633.5 L410.6,633.5 L411.1,633.5 L411.6,633.5 L412.1,633.5 L412.6,633.5 L413.1,633.5 L413.6,633.5 L414.1,633.5 L414.6,633.5 L415.1,633.5 L415.6,633.5 L416.1,633.5 L416.6,633.5 L417.1,633.5 L417.6,633.5 L418.1,633.5 L418.6,633.5 L419.1,633.5 L419.6,633.5 L420.1,633.5 L420.6,633.5 L421.1,633.5 L421.6,633.5 L422.1,633.5 L422.6,633.5 L423.1,633.5 L423.6,633.5 L424.1,633.5 L424.6,633.5 L425.1,633.5 L425.6,633.5 L426.1,633.5 L426.6,633.5 L427.1,633.5 L427.6,633.5 L428.1,633.5 L428.6,633.5 L429.1,633.5 L429.6,633.5 L430.1,633.5 L430.6,633.5 L431.1,633.5 L431.6,633.5 L432.1,633.5 L432.6,633.5 L433.1,633.5 L433.6,633.5 L434.1,633.5 L434.6,633.4 L435.1,633.4 L435.6,633.4 L436.1,633.3 L436.6,633.3 L437.1,633.2 L437.6,633.1 L438.1,632.9 L438.6,632.7 L439.1,632.4 L439.6,632.1 L440.1,631.6 L440.6,631.0 L441.1,630.3 L441.6,629.3 L442.1,628.1 L442.6,626.6 L443.1,624.8 L443.6,622.6 L444.1,620.0 L444.6,616.9 L445.1,613.3 L445.6,609.1 L446.1,604.3 L446.6,598.9 L447.1,592.9 L447.6,586.3 L448.1,579.2 L448.6,571.7 L449.1,563.9 L449.6,555.9 L450.1,547.9 L450.6,540.2 L451.1,532.9 L451.6,526.4 L452.1,520.9 L452.6,516.6 L453.1,514.0 L453.6,514.0 L454.1,517.8 L454.6,524.5 L455.1,533.3 L455.6,543.4 L456.1,554.2 L456.6,565.1 L457.1,575.6 L457.6,585.5 L458.1,594.4 L458.6,602.3 L459.1,609.0 L459.6,614.6 L460.1,619.1 L460.6,622.8 L461.1,625.7 L461.6,627.8 L462.1,629.5 L462.6,630.7 L463.1,631.6 L463.6,632.2 L464.1,632.6 L464.6,632.9 L465.1,633.1 L465.6,633.3 L466.1,633.4 L466.6,633.4 L467.1,633.4 L467.6,633.5 L468.1,633.5 L468.6,633.5 L469.1,633.5 L469.6,633.5 L470.1,633.5 L470.6,633.5 L471.1,633.5 L471.6,633.5 L472.1,633.5 L472.6,633.5 L473.1,633.5 L473.6,633.5 L474.1,633.5 L474.6,633.5 L475.1,633.5 L475.6,633.5 L476.1,633.5 L476.6,633.5 L477.1,633.5 L477.6,633.5 L478.1,633.5 L478.6,633.5 L479.1,633.5 L479.6,633.5 L480.1,633.5 L480.6,633.5 L481.1,633.5 L481.6,633.5 L482.1,633.5 L482.6,633.5 L483.1,633.5 L483.6,633.5 L484.1,633.5 L484.6,633.5 L485.1,633.5 L485.6,633.5 L486.1,633.5 L486.6,633.5 L487.1,633.5 L487.6,633.5 L488.1,633.5 L488.6,633.5 L489.1,633.5 L489.6,633.5 L490.1,633.5 L490.6,633.5 L491.1,633.5 L491.6,633.5 L492.1,633.5 L492.6,633.5 L493.1,633.5 L493.6,633.5 L494.1,633.5 L494.6,633.5 L495.1,633.5 L495.6,633.5 L496.1,633.5 L496.6,633.5 L497.1,633.5 L497.6,633.5 L498.1,633.5 L498.6,633.5 L499.1,633.5 L499.6,633.5 L499.6,633.5 Z" fill="#9e9e9e"/>
<polyline points="370.1,633.5 370.6,633.5 371.1,633.5 371.6,633.5 372.1,633.5 372.6,633.5 373.1,633.5 373.6,633.5 374.1,633.5 374.6,633.5 375.1,633.5 375.6,633.5 376.1,633.5 376.6,633.5 377.1,633.5 377.6,633.5 378.1,633.5 378.6,633.5 379.1,633.5 379.6,633.5 380.1,633.5 380.6,633.5 381.1,633.5 381.6,633.5 382.1,633.5 382.6,633.5 383.1,633.5 383.6,633.5 384.1,633.5 384.6,633.5 385.1,633.5 385.6,633.5 386.1,633.5 386.6,633.5 387.1,633.5 387.6,633.5 388.1,633.5 388.6,633.5 389.1,633.5 389.6,633.5 390.1,633.5 390.6,633.5 391.1,633.5 391.6,633.5 392.1,633.5 392.6,633.5 393.1,633.5 393.6,633.5 394.1,633.5 394.6,633.5 395.1,633.5 395.6,633.5 396.1,633.5 396.6,633.5 397.1,633.5 397.6,633.5 398.1,633.5 398.6,633.5 399.1,633.5 399.6,633.5 400.1,633.5 400.6,633.5 401.1,633.5 401.6,633.5 402.1,633.5 402.6,633.5 403.1,633.5 403.6,633.5 404.1,633.5 404.6,633.5 405.1,633.5 405.6,633.5 406.1,633.5 406.6,633.5 407.1,633.5 407.6,633.5 408.1,633.5 408.6,633.5 409.1,633.5 409.6,633.5 410.1,633.5 410.6,633.5 411.1,633.5 411.6,633.5 412.1,633.5 412.6,633.5 413.1,633.5 413.6,633.5 414.1,633.5 414.6,633.5 415.1,633.5 415.6,633.5 416.1,633.5 416.6,633.5 417.1,633.5 417.6,633.5 418.1,633.5 418.6,633.5 419.1,633.5 419.6,633.5 420.1,633.5 420.6,633.5 421.1,633.5 421.6,633.5 422.1,633.5 422.6,633.5 423.1,633.5 423.6,633.5 424.1,633.5 424.6,633.5 425.1,633.5 425.6,633.5 426.1,633.5 426.6,633.5 427.1,633.5 427.6,633.5 428.1,633.5 428.6,633.5 429.1,633.5 429.6,633.5 430.1,633.5 430.6,633.5 431.1,633.5 431.6,633.5 432.1,633.5 432.6,633.5 433.1,633.5 433.6,633.5 434.1,633.5 434.6,633.5 435.1,633.5 435.6,633.5 436.1,633.5 436.6,633.5 437.1,633.5 437.6,633.5 438.1,633.5 438.6,633.5 439.1,633.5 439.6,633.4 440.1,633.4 440.6,633.3 441.1,633.3 441.6,633.1 442.1,633.0 442.6,632.7 443.1,632.4 443.6,631.9 444.1,632.1 444.6,631.2 445.1,629.5 445.6,627.5 446.1,626.2 446.6,624.4 447.1,621.0 447.6,617.4 448.1,612.0 448.6,607.6 449.1,600.3 449.6,594.4 450.1,586.7 450.6,578.3 451.1,568.4 451.6,558.8 452.1,548.7 452.6,539.5 453.1,531.1 453.6,524.4 454.1,517.2 454.6,514.7 455.1,514.2 455.6,516.8 456.1,520.7 456.6,526.6 457.1,534.3 457.6,542.3 458.1,551.1 458.6,558.8 459.1,567.2 459.6,576.5 460.1,584.1 460.6,590.6 461.1,597.3 461.6,604.1 462.1,608.0 462.6,613.0 463.1,616.9 463.6,620.8 464.1,622.5 464.6,625.5 465.1,627.0 465.6,627.9 466.1,629.3 466.6,631.3 467.1,632.1 467.6,632.0 468.1,632.4 468.6,632.7 469.1,632.9 469.6,633.1 470.1,633.2 470.6,633.3 471.1,633.4 471.6,633.4 472.1,633.4 472.6,633.5 473.1,633.5 473.6,633.5 474.1,633.5 474.6,633.5 475.1,633.5 475.6,633.5 476.1,633.5 476.6,633.5 477.1,633.5 477.6,633.5 478.1,633.5 478.6,633.5 479.1,633.5 479.6,633.5 480.1,633.5 480.6,633.5 481.1,633.5 481.6,633.5 482.1,633.5 482.6,633.5 483.1,633.5 483.6,633.5 484.1,633.5 484.6,633.5 485.1,633.5 485.6,633.5 486.1,633.5 486.6,633.5 487.1,633.5 487.6,633.5 488.1,633.5 488.6,633.5 489.1,633.5 489.6,633.5 490.1,633.5 490.6,633.5 491.1,633.5 491.6,633.5 492.1,633.5 492.6,633.5 493.1,633.5 493.6,633.5 494.1,633.5 494.6,633.5 495.1,633.5 495.6,633.5 496.1,633.5 496.6,633.5 497.1,633.5 497.6,633.5 498.1,633.5 498.6,633.5 499.1,633.5 499.6,633.5" fill="none" stroke="#222" stroke-width="1"/>
</g>
<rect x="52.8" y="503.7" width="129.7" height="129.2" fill="none" stroke="#7a7a7a" stroke-width="1.3"/>
<line x1="49.3" y1="632.9" x2="52.8" y2="632.9" stroke="#666" stroke-width="0.9"/>
<line x1="51.3" y1="628.0" x2="52.8" y2="628.0" stroke="#999" stroke-width="0.6"/>
<line x1="51.3" y1="623.1" x2="52.8" y2="623.1" stroke="#999" stroke-width="0.6"/>
<line x1="51.3" y1="618.2" x2="52.8" y2="618.2" stroke="#999" stroke-width="0.6"/>
<line x1="51.3" y1="613.3" x2="52.8" y2="613.3" stroke="#999" stroke-width="0.6"/>
<line x1="49.3" y1="608.4" x2="52.8" y2="608.4" stroke="#666" stroke-width="0.9"/>
<line x1="51.3" y1="603.6" x2="52.8" y2="603.6" stroke="#999" stroke-width="0.6"/>
<line x1="51.3" y1="598.7" x2="52.8" y2="598.7" stroke="#999" stroke-width="0.6"/>
<line x1="51.3" y1="593.8" x2="52.8" y2="593.8" stroke="#999" stroke-width="0.6"/>
<line x1="51.3" y1="588.9" x2="52.8" y2="588.9" stroke="#999" stroke-width="0.6"/>
<line x1="49.3" y1="584.0" x2="52.8" y2="584.0" stroke="#666" stroke-width="0.9"/>
<line x1="51.3" y1="579.1" x2="52.8" y2="579.1" stroke="#999" stroke-width="0.6"/>
<line x1="51.3" y1="574.2" x2="52.8" y2="574.2" stroke="#999" stroke-width="0.6"/>
<line x1="51.3" y1="569.3" x2="52.8" y2="569.3" stroke="#999" stroke-width="0.6"/>
<line x1="51.3" y1="564.4" x2="52.8" y2="564.4" stroke="#999" stroke-width="0.6"/>
<line x1="49.3" y1="559.5" x2="52.8" y2="559.5" stroke="#666" stroke-width="0.9"/>
<line x1="51.3" y1="554.7" x2="52.8" y2="554.7" stroke="#999" stroke-width="0.6"/>
<line x1="51.3" y1="549.8" x2="52.8" y2="549.8" stroke="#999" stroke-width="0.6"/>
<line x1="51.3" y1="544.9" x2="52.8" y2="544.9" stroke="#999" stroke-width="0.6"/>
<line x1="51.3" y1="540.0" x2="52.8" y2="540.0" stroke="#999" stroke-width="0.6"/>
<line x1="49.3" y1="535.1" x2="52.8" y2="535.1" stroke="#666" stroke-width="0.9"/>
<line x1="51.3" y1="530.2" x2="52.8" y2="530.2" stroke="#999" stroke-width="0.6"/>
<line x1="51.3" y1="525.3" x2="52.8" y2="525.3" stroke="#999" stroke-width="0.6"/>
<line x1="51.3" y1="520.4" x2="52.8" y2="520.4" stroke="#999" stroke-width="0.6"/>
<line x1="51.3" y1="515.5" x2="52.8" y2="515.5" stroke="#999" stroke-width="0.6"/>
<line x1="49.3" y1="510.6" x2="52.8" y2="510.6" stroke="#666" stroke-width="0.9"/>
<line x1="51.3" y1="505.8" x2="52.8" y2="505.8" stroke="#999" stroke-width="0.6"/>
<line x1="52.8" y1="632.9" x2="52.8" y2="635.9" stroke="#777" stroke-width="0.7"/>
<line x1="62.6" y1="632.9" x2="62.6" y2="634.4" stroke="#777" stroke-width="0.7"/>
<line x1="68.3" y1="632.9" x2="68.3" y2="634.4" stroke="#777" stroke-width="0.7"/>
<line x1="72.3" y1="632.9" x2="72.3" y2="634.4" stroke="#777" stroke-width="0.7"/>
<line x1="75.5" y1="632.9" x2="75.5" y2="634.4" stroke="#777" stroke-width="0.7"/>
<line x1="78.0" y1="632.9" x2="78.0" y2="634.4" stroke="#777" stroke-width="0.7"/>
<line x1="80.2" y1="632.9" x2="80.2" y2="634.4" stroke="#777" stroke-width="0.7"/>
<line x1="82.1" y1="632.9" x2="82.1" y2="634.4" stroke="#777" stroke-width="0.7"/>
<line x1="83.7" y1="632.9" x2="83.7" y2="634.4" stroke="#777" stroke-width="0.7"/>
<line x1="85.2" y1="632.9" x2="85.2" y2="635.9" stroke="#777" stroke-width="0.7"/>
<line x1="95.0" y1="632.9" x2="95.0" y2="634.4" stroke="#777" stroke-width="0.7"/>
<line x1="100.7" y1="632.9" x2="100.7" y2="634.4" stroke="#777" stroke-width="0.7"/>
<line x1="104.7" y1="632.9" x2="104.7" y2="634.4" stroke="#777" stroke-width="0.7"/>
<line x1="107.9" y1="632.9" x2="107.9" y2="634.4" stroke="#777" stroke-width="0.7"/>
<line x1="110.5" y1="632.9" x2="110.5" y2="634.4" stroke="#777" stroke-width="0.7"/>
<line x1="112.6" y1="632.9" x2="112.6" y2="634.4" stroke="#777" stroke-width="0.7"/>
<line x1="114.5" y1="632.9" x2="114.5" y2="634.4" stroke="#777" stroke-width="0.7"/>
<line x1="116.2" y1="632.9" x2="116.2" y2="634.4" stroke="#777" stroke-width="0.7"/>
<line x1="117.6" y1="632.9" x2="117.6" y2="635.9" stroke="#777" stroke-width="0.7"/>
<line x1="127.4" y1="632.9" x2="127.4" y2="634.4" stroke="#777" stroke-width="0.7"/>
<line x1="133.1" y1="632.9" x2="133.1" y2="634.4" stroke="#777" stroke-width="0.7"/>
<line x1="137.2" y1="632.9" x2="137.2" y2="634.4" stroke="#777" stroke-width="0.7"/>
<line x1="140.3" y1="632.9" x2="140.3" y2="634.4" stroke="#777" stroke-width="0.7"/>
<line x1="142.9" y1="632.9" x2="142.9" y2="634.4" stroke="#777" stroke-width="0.7"/>
<line x1="145.1" y1="632.9" x2="145.1" y2="634.4" stroke="#777" stroke-width="0.7"/>
<line x1="146.9" y1="632.9" x2="146.9" y2="634.4" stroke="#777" stroke-width="0.7"/>
<line x1="148.6" y1="632.9" x2="148.6" y2="634.4" stroke="#777" stroke-width="0.7"/>
<line x1="150.1" y1="632.9" x2="150.1" y2="635.9" stroke="#777" stroke-width="0.7"/>
<line x1="159.8" y1="632.9" x2="159.8" y2="634.4" stroke="#777" stroke-width="0.7"/>
<line x1="165.5" y1="632.9" x2="165.5" y2="634.4" stroke="#777" stroke-width="0.7"/>
<line x1="169.6" y1="632.9" x2="169.6" y2="634.4" stroke="#777" stroke-width="0.7"/>
<line x1="172.7" y1="632.9" x2="172.7" y2="634.4" stroke="#777" stroke-width="0.7"/>
<line x1="175.3" y1="632.9" x2="175.3" y2="634.4" stroke="#777" stroke-width="0.7"/>
<line x1="177.5" y1="632.9" x2="177.5" y2="634.4" stroke="#777" stroke-width="0.7"/>
<line x1="179.4" y1="632.9" x2="179.4" y2="634.4" stroke="#777" stroke-width="0.7"/>
<line x1="181.0" y1="632.9" x2="181.0" y2="634.4" stroke="#777" stroke-width="0.7"/>
<line x1="182.5" y1="632.9" x2="182.5" y2="635.9" stroke="#777" stroke-width="0.7"/>
<rect x="209.3" y="503.7" width="129.9" height="129.1" fill="none" stroke="#7a7a7a" stroke-width="1.3"/>
<line x1="205.8" y1="632.8" x2="209.3" y2="632.8" stroke="#666" stroke-width="0.9"/>
<line x1="207.8" y1="627.9" x2="209.3" y2="627.9" stroke="#999" stroke-width="0.6"/>
<line x1="207.8" y1="623.0" x2="209.3" y2="623.0" stroke="#999" stroke-width="0.6"/>
<line x1="207.8" y1="618.1" x2="209.3" y2="618.1" stroke="#999" stroke-width="0.6"/>
<line x1="207.8" y1="613.2" x2="209.3" y2="613.2" stroke="#999" stroke-width="0.6"/>
<line x1="205.8" y1="608.3" x2="209.3" y2="608.3" stroke="#666" stroke-width="0.9"/>
<line x1="207.8" y1="603.5" x2="209.3" y2="603.5" stroke="#999" stroke-width="0.6"/>
<line x1="207.8" y1="598.6" x2="209.3" y2="598.6" stroke="#999" stroke-width="0.6"/>
<line x1="207.8" y1="593.7" x2="209.3" y2="593.7" stroke="#999" stroke-width="0.6"/>
<line x1="207.8" y1="588.8" x2="209.3" y2="588.8" stroke="#999" stroke-width="0.6"/>
<line x1="205.8" y1="583.9" x2="209.3" y2="583.9" stroke="#666" stroke-width="0.9"/>
<line x1="207.8" y1="579.0" x2="209.3" y2="579.0" stroke="#999" stroke-width="0.6"/>
<line x1="207.8" y1="574.1" x2="209.3" y2="574.1" stroke="#999" stroke-width="0.6"/>
<line x1="207.8" y1="569.2" x2="209.3" y2="569.2" stroke="#999" stroke-width="0.6"/>
<line x1="207.8" y1="564.3" x2="209.3" y2="564.3" stroke="#999" stroke-width="0.6"/>
<line x1="205.8" y1="559.4" x2="209.3" y2="559.4" stroke="#666" stroke-width="0.9"/>
<line x1="207.8" y1="554.6" x2="209.3" y2="554.6" stroke="#999" stroke-width="0.6"/>
<line x1="207.8" y1="549.7" x2="209.3" y2="549.7" stroke="#999" stroke-width="0.6"/>
<line x1="207.8" y1="544.8" x2="209.3" y2="544.8" stroke="#999" stroke-width="0.6"/>
<line x1="207.8" y1="539.9" x2="209.3" y2="539.9" stroke="#999" stroke-width="0.6"/>
<line x1="205.8" y1="535.0" x2="209.3" y2="535.0" stroke="#666" stroke-width="0.9"/>
<line x1="207.8" y1="530.1" x2="209.3" y2="530.1" stroke="#999" stroke-width="0.6"/>
<line x1="207.8" y1="525.2" x2="209.3" y2="525.2" stroke="#999" stroke-width="0.6"/>
<line x1="207.8" y1="520.3" x2="209.3" y2="520.3" stroke="#999" stroke-width="0.6"/>
<line x1="207.8" y1="515.4" x2="209.3" y2="515.4" stroke="#999" stroke-width="0.6"/>
<line x1="205.8" y1="510.5" x2="209.3" y2="510.5" stroke="#666" stroke-width="0.9"/>
<line x1="207.8" y1="505.7" x2="209.3" y2="505.7" stroke="#999" stroke-width="0.6"/>
<line x1="209.3" y1="632.8" x2="209.3" y2="635.8" stroke="#777" stroke-width="0.7"/>
<line x1="219.1" y1="632.8" x2="219.1" y2="634.3" stroke="#777" stroke-width="0.7"/>
<line x1="224.8" y1="632.8" x2="224.8" y2="634.3" stroke="#777" stroke-width="0.7"/>
<line x1="228.9" y1="632.8" x2="228.9" y2="634.3" stroke="#777" stroke-width="0.7"/>
<line x1="232.0" y1="632.8" x2="232.0" y2="634.3" stroke="#777" stroke-width="0.7"/>
<line x1="234.6" y1="632.8" x2="234.6" y2="634.3" stroke="#777" stroke-width="0.7"/>
<line x1="236.7" y1="632.8" x2="236.7" y2="634.3" stroke="#777" stroke-width="0.7"/>
<line x1="238.6" y1="632.8" x2="238.6" y2="634.3" stroke="#777" stroke-width="0.7"/>
<line x1="240.3" y1="632.8" x2="240.3" y2="634.3" stroke="#777" stroke-width="0.7"/>
<line x1="241.8" y1="632.8" x2="241.8" y2="635.8" stroke="#777" stroke-width="0.7"/>
<line x1="251.6" y1="632.8" x2="251.6" y2="634.3" stroke="#777" stroke-width="0.7"/>
<line x1="257.3" y1="632.8" x2="257.3" y2="634.3" stroke="#777" stroke-width="0.7"/>
<line x1="261.3" y1="632.8" x2="261.3" y2="634.3" stroke="#777" stroke-width="0.7"/>
<line x1="264.5" y1="632.8" x2="264.5" y2="634.3" stroke="#777" stroke-width="0.7"/>
<line x1="267.0" y1="632.8" x2="267.0" y2="634.3" stroke="#777" stroke-width="0.7"/>
<line x1="269.2" y1="632.8" x2="269.2" y2="634.3" stroke="#777" stroke-width="0.7"/>
<line x1="271.1" y1="632.8" x2="271.1" y2="634.3" stroke="#777" stroke-width="0.7"/>
<line x1="272.8" y1="632.8" x2="272.8" y2="634.3" stroke="#777" stroke-width="0.7"/>
<line x1="274.2" y1="632.8" x2="274.2" y2="635.8" stroke="#777" stroke-width="0.7"/>
<line x1="284.0" y1="632.8" x2="284.0" y2="634.3" stroke="#777" stroke-width="0.7"/>
<line x1="289.7" y1="632.8" x2="289.7" y2="634.3" stroke="#777" stroke-width="0.7"/>
<line x1="293.8" y1="632.8" x2="293.8" y2="634.3" stroke="#777" stroke-width="0.7"/>
<line x1="296.9" y1="632.8" x2="296.9" y2="634.3" stroke="#777" stroke-width="0.7"/>
<line x1="299.5" y1="632.8" x2="299.5" y2="634.3" stroke="#777" stroke-width="0.7"/>
<line x1="301.7" y1="632.8" x2="301.7" y2="634.3" stroke="#777" stroke-width="0.7"/>
<line x1="303.6" y1="632.8" x2="303.6" y2="634.3" stroke="#777" stroke-width="0.7"/>
<line x1="305.2" y1="632.8" x2="305.2" y2="634.3" stroke="#777" stroke-width="0.7"/>
<line x1="306.7" y1="632.8" x2="306.7" y2="635.8" stroke="#777" stroke-width="0.7"/>
<line x1="316.5" y1="632.8" x2="316.5" y2="634.3" stroke="#777" stroke-width="0.7"/>
<line x1="322.2" y1="632.8" x2="322.2" y2="634.3" stroke="#777" stroke-width="0.7"/>
<line x1="326.3" y1="632.8" x2="326.3" y2="634.3" stroke="#777" stroke-width="0.7"/>
<line x1="329.4" y1="632.8" x2="329.4" y2="634.3" stroke="#777" stroke-width="0.7"/>
<line x1="332.0" y1="632.8" x2="332.0" y2="634.3" stroke="#777" stroke-width="0.7"/>
<line x1="334.2" y1="632.8" x2="334.2" y2="634.3" stroke="#777" stroke-width="0.7"/>
<line x1="336.1" y1="632.8" x2="336.1" y2="634.3" stroke="#777" stroke-width="0.7"/>
<line x1="337.7" y1="632.8" x2="337.7" y2="634.3" stroke="#777" stroke-width="0.7"/>
<line x1="339.2" y1="632.8" x2="339.2" y2="635.8" stroke="#777" stroke-width="0.7"/>
<rect x="370.1" y="504.7" width="129.5" height="128.8" fill="none" stroke="#7a7a7a" stroke-width="1.3"/>
<line x1="366.6" y1="633.5" x2="370.1" y2="633.5" stroke="#666" stroke-width="0.9"/>
<line x1="368.6" y1="628.6" x2="370.1" y2="628.6" stroke="#999" stroke-width="0.6"/>
<line x1="368.6" y1="623.7" x2="370.1" y2="623.7" stroke="#999" stroke-width="0.6"/>
<line x1="368.6" y1="618.8" x2="370.1" y2="618.8" stroke="#999" stroke-width="0.6"/>
<line x1="368.6" y1="613.9" x2="370.1" y2="613.9" stroke="#999" stroke-width="0.6"/>
<line x1="366.6" y1="609.0" x2="370.1" y2="609.0" stroke="#666" stroke-width="0.9"/>
<line x1="368.6" y1="604.2" x2="370.1" y2="604.2" stroke="#999" stroke-width="0.6"/>
<line x1="368.6" y1="599.3" x2="370.1" y2="599.3" stroke="#999" stroke-width="0.6"/>
<line x1="368.6" y1="594.4" x2="370.1" y2="594.4" stroke="#999" stroke-width="0.6"/>
<line x1="368.6" y1="589.5" x2="370.1" y2="589.5" stroke="#999" stroke-width="0.6"/>
<line x1="366.6" y1="584.6" x2="370.1" y2="584.6" stroke="#666" stroke-width="0.9"/>
<line x1="368.6" y1="579.7" x2="370.1" y2="579.7" stroke="#999" stroke-width="0.6"/>
<line x1="368.6" y1="574.8" x2="370.1" y2="574.8" stroke="#999" stroke-width="0.6"/>
<line x1="368.6" y1="569.9" x2="370.1" y2="569.9" stroke="#999" stroke-width="0.6"/>
<line x1="368.6" y1="565.0" x2="370.1" y2="565.0" stroke="#999" stroke-width="0.6"/>
<line x1="366.6" y1="560.1" x2="370.1" y2="560.1" stroke="#666" stroke-width="0.9"/>
<line x1="368.6" y1="555.3" x2="370.1" y2="555.3" stroke="#999" stroke-width="0.6"/>
<line x1="368.6" y1="550.4" x2="370.1" y2="550.4" stroke="#999" stroke-width="0.6"/>
<line x1="368.6" y1="545.5" x2="370.1" y2="545.5" stroke="#999" stroke-width="0.6"/>
<line x1="368.6" y1="540.6" x2="370.1" y2="540.6" stroke="#999" stroke-width="0.6"/>
<line x1="366.6" y1="535.7" x2="370.1" y2="535.7" stroke="#666" stroke-width="0.9"/>
<line x1="368.6" y1="530.8" x2="370.1" y2="530.8" stroke="#999" stroke-width="0.6"/>
<line x1="368.6" y1="525.9" x2="370.1" y2="525.9" stroke="#999" stroke-width="0.6"/>
<line x1="368.6" y1="521.0" x2="370.1" y2="521.0" stroke="#999" stroke-width="0.6"/>
<line x1="368.6" y1="516.1" x2="370.1" y2="516.1" stroke="#999" stroke-width="0.6"/>
<line x1="366.6" y1="511.2" x2="370.1" y2="511.2" stroke="#666" stroke-width="0.9"/>
<line x1="368.6" y1="506.4" x2="370.1" y2="506.4" stroke="#999" stroke-width="0.6"/>
<line x1="370.1" y1="633.5" x2="370.1" y2="636.5" stroke="#777" stroke-width="0.7"/>
<line x1="379.8" y1="633.5" x2="379.8" y2="635.0" stroke="#777" stroke-width="0.7"/>
<line x1="385.5" y1="633.5" x2="385.5" y2="635.0" stroke="#777" stroke-width="0.7"/>
<line x1="389.6" y1="633.5" x2="389.6" y2="635.0" stroke="#777" stroke-width="0.7"/>
<line x1="392.7" y1="633.5" x2="392.7" y2="635.0" stroke="#777" stroke-width="0.7"/>
<line x1="395.3" y1="633.5" x2="395.3" y2="635.0" stroke="#777" stroke-width="0.7"/>
<line x1="397.5" y1="633.5" x2="397.5" y2="635.0" stroke="#777" stroke-width="0.7"/>
<line x1="399.3" y1="633.5" x2="399.3" y2="635.0" stroke="#777" stroke-width="0.7"/>
<line x1="401.0" y1="633.5" x2="401.0" y2="635.0" stroke="#777" stroke-width="0.7"/>
<line x1="402.5" y1="633.5" x2="402.5" y2="636.5" stroke="#777" stroke-width="0.7"/>
<line x1="412.2" y1="633.5" x2="412.2" y2="635.0" stroke="#777" stroke-width="0.7"/>
<line x1="417.9" y1="633.5" x2="417.9" y2="635.0" stroke="#777" stroke-width="0.7"/>
<line x1="422.0" y1="633.5" x2="422.0" y2="635.0" stroke="#777" stroke-width="0.7"/>
<line x1="425.1" y1="633.5" x2="425.1" y2="635.0" stroke="#777" stroke-width="0.7"/>
<line x1="427.7" y1="633.5" x2="427.7" y2="635.0" stroke="#777" stroke-width="0.7"/>
<line x1="429.8" y1="633.5" x2="429.8" y2="635.0" stroke="#777" stroke-width="0.7"/>
<line x1="431.7" y1="633.5" x2="431.7" y2="635.0" stroke="#777" stroke-width="0.7"/>
<line x1="433.4" y1="633.5" x2="433.4" y2="635.0" stroke="#777" stroke-width="0.7"/>
<line x1="434.9" y1="633.5" x2="434.9" y2="636.5" stroke="#777" stroke-width="0.7"/>
<line x1="444.6" y1="633.5" x2="444.6" y2="635.0" stroke="#777" stroke-width="0.7"/>
<line x1="450.3" y1="633.5" x2="450.3" y2="635.0" stroke="#777" stroke-width="0.7"/>
<line x1="454.3" y1="633.5" x2="454.3" y2="635.0" stroke="#777" stroke-width="0.7"/>
<line x1="457.5" y1="633.5" x2="457.5" y2="635.0" stroke="#777" stroke-width="0.7"/>
<line x1="460.0" y1="633.5" x2="460.0" y2="635.0" stroke="#777" stroke-width="0.7"/>
<line x1="462.2" y1="633.5" x2="462.2" y2="635.0" stroke="#777" stroke-width="0.7"/>
<line x1="464.1" y1="633.5" x2="464.1" y2="635.0" stroke="#777" stroke-width="0.7"/>
<line x1="465.7" y1="633.5" x2="465.7" y2="635.0" stroke="#777" stroke-width="0.7"/>
<line x1="467.2" y1="633.5" x2="467.2" y2="636.5" stroke="#777" stroke-width="0.7"/>
<line x1="477.0" y1="633.5" x2="477.0" y2="635.0" stroke="#777" stroke-width="0.7"/>
<line x1="482.7" y1="633.5" x2="482.7" y2="635.0" stroke="#777" stroke-width="0.7"/>
<line x1="486.7" y1="633.5" x2="486.7" y2="635.0" stroke="#777" stroke-width="0.7"/>
<line x1="489.9" y1="633.5" x2="489.9" y2="635.0" stroke="#777" stroke-width="0.7"/>
<line x1="492.4" y1="633.5" x2="492.4" y2="635.0" stroke="#777" stroke-width="0.7"/>
<line x1="494.6" y1="633.5" x2="494.6" y2="635.0" stroke="#777" stroke-width="0.7"/>
<line x1="496.5" y1="633.5" x2="496.5" y2="635.0" stroke="#777" stroke-width="0.7"/>
<line x1="498.1" y1="633.5" x2="498.1" y2="635.0" stroke="#777" stroke-width="0.7"/>
<line x1="499.6" y1="633.5" x2="499.6" y2="636.5" stroke="#777" stroke-width="0.7"/>
<line x1="53.8" y1="649.0" x2="69.6" y2="649.0" stroke="#000" stroke-width="1"/>
<path d="M68.1,646.2 L74.6,649.0 L68.1,651.8 Z" fill="#000"/>
<text x="78.5" y="655.0" font-size="13.8" text-anchor="start" font-weight="normal" >IL7R</text>
<line x1="208.5" y1="649.0" x2="225.5" y2="649.0" stroke="#000" stroke-width="1"/>
<path d="M224.0,646.2 L230.5,649.0 L224.0,651.8 Z" fill="#000"/>
<text x="236.7" y="655.0" font-size="13.8" text-anchor="start" font-weight="normal" >TCR</text>
<line x1="370.8" y1="649.0" x2="386.5" y2="649.0" stroke="#000" stroke-width="1"/>
<path d="M385.0,646.2 L391.5,649.0 L385.0,651.8 Z" fill="#000"/>
<text x="398.2" y="655.0" font-size="13.8" text-anchor="start" font-weight="normal" >CD8</text>
<text x="0.3" y="693.8" font-size="24.5" text-anchor="start" font-weight="bold" >E</text>
<line x1="64.4" y1="682" x2="64.4" y2="845.4" stroke="#9a9a9a" stroke-width="1.2"/>
<line x1="59" y1="845.4" x2="64.4" y2="845.4" stroke="#9a9a9a" stroke-width="1.2"/>
<text x="58.0" y="849.8" font-size="12.4" text-anchor="end" font-weight="normal" >0</text>
<line x1="59" y1="812.7" x2="64.4" y2="812.7" stroke="#9a9a9a" stroke-width="1.2"/>
<text x="58.0" y="817.1" font-size="12.4" text-anchor="end" font-weight="normal" >20</text>
<line x1="59" y1="780.0" x2="64.4" y2="780.0" stroke="#9a9a9a" stroke-width="1.2"/>
<text x="58.0" y="784.4" font-size="12.4" text-anchor="end" font-weight="normal" >40</text>
<line x1="59" y1="747.4" x2="64.4" y2="747.4" stroke="#9a9a9a" stroke-width="1.2"/>
<text x="58.0" y="751.8" font-size="12.4" text-anchor="end" font-weight="normal" >60</text>
<line x1="59" y1="714.7" x2="64.4" y2="714.7" stroke="#9a9a9a" stroke-width="1.2"/>
<text x="58.0" y="719.1" font-size="12.4" text-anchor="end" font-weight="normal" >80</text>
<line x1="59" y1="682.0" x2="64.4" y2="682.0" stroke="#9a9a9a" stroke-width="1.2"/>
<text x="58.0" y="686.4" font-size="12.4" text-anchor="end" font-weight="normal" >100</text>
<line x1="88" y1="845.6" x2="214.4" y2="845.6" stroke="#9a9a9a" stroke-width="1.2"/>
<line x1="89.8" y1="845.6" x2="89.8" y2="850" stroke="#9a9a9a" stroke-width="1.2"/>
<line x1="105.3" y1="845.6" x2="105.3" y2="850" stroke="#9a9a9a" stroke-width="1.2"/>
<line x1="120.8" y1="845.6" x2="120.8" y2="850" stroke="#9a9a9a" stroke-width="1.2"/>
<line x1="136.4" y1="845.6" x2="136.4" y2="850" stroke="#9a9a9a" stroke-width="1.2"/>
<line x1="151.9" y1="845.6" x2="151.9" y2="850" stroke="#9a9a9a" stroke-width="1.2"/>
<line x1="167.4" y1="845.6" x2="167.4" y2="850" stroke="#9a9a9a" stroke-width="1.2"/>
<line x1="182.9" y1="845.6" x2="182.9" y2="850" stroke="#9a9a9a" stroke-width="1.2"/>
<line x1="198.4" y1="845.6" x2="198.4" y2="850" stroke="#9a9a9a" stroke-width="1.2"/>
<line x1="214.0" y1="845.6" x2="214.0" y2="850" stroke="#9a9a9a" stroke-width="1.2"/>
<path d="M71,847 q2.5,3 0,8" fill="none" stroke="#888" stroke-width="1"/>
<path d="M89,838 q-3,3 0,7 q3,3 0,7" fill="none" stroke="#888" stroke-width="1"/>
<text x="65.9" y="864.2" font-size="12.4" text-anchor="middle" font-weight="normal" >0</text>
<text x="96.5" y="864.2" font-size="12.4" text-anchor="middle" font-weight="normal" >-14</text>
<text x="131.1" y="864.2" font-size="12.4" text-anchor="middle" font-weight="normal" >-12</text>
<text x="163.4" y="864.2" font-size="12.4" text-anchor="middle" font-weight="normal" >-10</text>
<text x="192.3" y="864.2" font-size="12.4" text-anchor="middle" font-weight="normal" >-8</text>
<text x="139.8" y="878.4" font-size="13.6" text-anchor="middle" font-weight="normal" >[Peptide] (logM)</text>
<text x="0.0" y="0.0" font-size="12.9" text-anchor="middle" font-weight="normal" transform="translate(33.6,767.9) rotate(-90)">% CD69 +ve</text>
<polyline points="89.0,838.0 104.5,831.0 126.2,817.1 147.8,787.7 170.0,751.3 192.5,698.0 214.1,694.5" fill="none" stroke="#111" stroke-width="1.4" stroke-dasharray="1.6,1.6"/>
<polyline points="89.0,836.5 104.5,832.4 126.2,820.0 147.8,781.0 170.0,744.1 192.5,690.2 214.1,692.5" fill="none" stroke="#000" stroke-width="1.7"/>
<circle cx="104.5" cy="831.0" r="5.8" fill="#fff" stroke="#777" stroke-width="1"/>
<circle cx="126.2" cy="817.1" r="5.8" fill="#fff" stroke="#777" stroke-width="1"/>
<circle cx="147.8" cy="787.7" r="5.8" fill="#fff" stroke="#777" stroke-width="1"/>
<circle cx="170.0" cy="751.3" r="5.8" fill="#fff" stroke="#777" stroke-width="1"/>
<circle cx="192.5" cy="698.0" r="5.8" fill="#fff" stroke="#777" stroke-width="1"/>
<circle cx="214.1" cy="694.5" r="5.8" fill="#fff" stroke="#777" stroke-width="1"/>
<circle cx="104.5" cy="832.4" r="5.8" fill="#000" stroke="#000" stroke-width="0.8"/>
<circle cx="126.2" cy="820.0" r="5.8" fill="#000" stroke="#000" stroke-width="0.8"/>
<circle cx="147.8" cy="781.0" r="5.8" fill="#000" stroke="#000" stroke-width="0.8"/>
<circle cx="170.0" cy="744.1" r="5.8" fill="#000" stroke="#000" stroke-width="0.8"/>
<circle cx="192.5" cy="690.2" r="5.8" fill="#000" stroke="#000" stroke-width="0.8"/>
<circle cx="214.1" cy="692.5" r="5.8" fill="#000" stroke="#000" stroke-width="0.8"/>
<circle cx="67.3" cy="844.2" r="5.8" fill="#fff" stroke="#777" stroke-width="1"/>
<circle cx="67.3" cy="844.2" r="5.6" fill="#000" stroke="#000" stroke-width="0.8"/>
</svg></body></html>
